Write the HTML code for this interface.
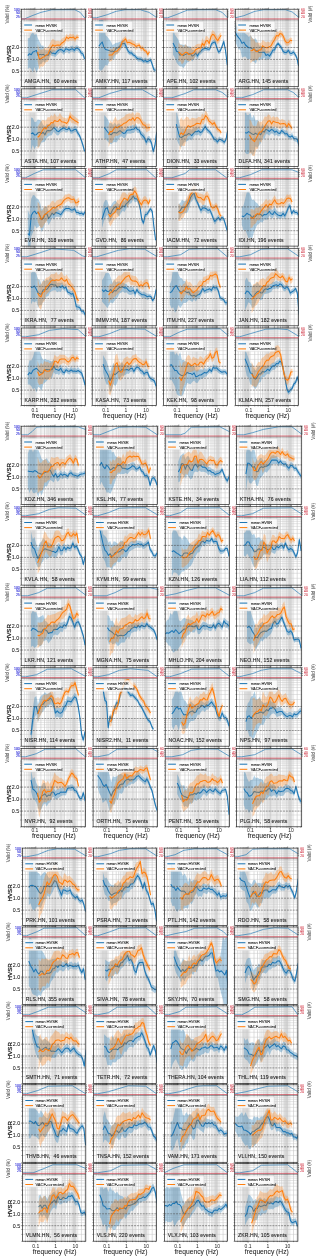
<!DOCTYPE html><html><head><meta charset="utf-8"><style>html,body{margin:0;padding:0;background:#fff;overflow:hidden}svg{display:block;will-change:transform}</style></head><body><svg width="320" height="1260" viewBox="0 0 320 1260" fill="none">
<style>text{font-family:"Liberation Sans",sans-serif}.lg{font-size:4px;letter-spacing:-.1px;fill:#222;stroke:#222;stroke-width:.07px}.lg3{font-size:4.2px;letter-spacing:-.1px;fill:#222;stroke:#222;stroke-width:.07px}.st{font-size:5.1px;fill:#1a1a1a;letter-spacing:.12px;stroke:#1a1a1a;stroke-width:.09px}.tk{font-size:5.3px;fill:#1a1a1a;stroke:#1a1a1a;stroke-width:.07px}.tx{font-size:5px;fill:#222}.yl{font-size:6.2px;fill:#111;stroke:#111;stroke-width:.22px}.vl{font-size:4.7px;fill:#333}.xl{font-size:6.7px;fill:#1a1a1a;stroke:#1a1a1a;stroke-width:.05px}.bl{font-size:3.5px;fill:#3030d8;stroke:#3030d8;stroke-width:.1px}.rd{font-size:3.4px;fill:#d03040;stroke:#d03040;stroke-width:.04px}.gb{fill:#000;fill-opacity:.08}</style>
<rect width="320" height="1260" fill="#fff"/>
<defs>
<g id="g00">
<rect x="28.9" y="9.2" width="8.3" height="77.5" class="gb"/>
<rect x="54.1" y="9.2" width="10.5" height="77.5" class="gb"/>
<rect x="72.2" y="9.2" width="5.8" height="77.5" class="gb"/>
<path d="M24.4 9.2V86.8M26.9 9.2V86.8M28.9 9.2V86.8M30.4 9.2V86.8M31.8 9.2V86.8M33 9.2V86.8M34 9.2V86.8M34.9 9.2V86.8M41 9.2V86.8M44.5 9.2V86.8M47 9.2V86.8M49 9.2V86.8M50.5 9.2V86.8M51.9 9.2V86.8M53.1 9.2V86.8M54.1 9.2V86.8M55 9.2V86.8M61.1 9.2V86.8M64.6 9.2V86.8M67.1 9.2V86.8M69.1 9.2V86.8M70.6 9.2V86.8M72 9.2V86.8M73.2 9.2V86.8M74.2 9.2V86.8M75.1 9.2V86.8M81.2 9.2V86.8M84.7 9.2V86.8" stroke="#bdbdbd" stroke-width=".5"/>
<path d="M21.3 80H85.6M21.3 75.1H85.6M21.3 68.2H85.6M21.3 65.5H85.6M21.3 63.2H85.6M21.3 61.2H85.6M21.3 52.5H85.6M21.3 40.6H85.6M21.3 35.7H85.6M21.3 31.8H85.6M21.3 28.7H85.6M21.3 26.1H85.6M21.3 23.8H85.6M21.3 21.8H85.6M21.3 11.2H85.6M21.3 13.1H85.6M21.3 15H85.6M21.3 16.9H85.6" stroke="#c4c4c4" stroke-width=".45"/>
</g>
<g id="o00">
<path d="M21.3 47.5H85.6M21.3 59.4H85.6M21.3 71.3H85.6" stroke="#484848" stroke-width=".55" stroke-dasharray="2 .9"/>
<path d="M21.3 87h-1M21.3 80h-1M21.3 75.1h-1M21.3 71.3h-1.6M21.3 68.2h-1M21.3 65.5h-1M21.3 63.2h-1M21.3 61.2h-1M21.3 59.4h-1.6M21.3 47.5h-1.6M21.3 40.6h-1M21.3 35.7h-1M21.3 31.8h-1M21.3 28.7h-1M21.3 26.1h-1M21.3 23.8h-1M21.3 21.8h-1M21.3 9.2h-1.2M85.6 9.2h1.2M21.3 11.2h-1.2M85.6 11.2h1.2M21.3 13.1h-1.2M85.6 13.1h1.2M21.3 15h-1.2M85.6 15h1.2M21.3 16.9h-1.2M85.6 16.9h1.2M24.4 86.8v.9M24.4 9.2v-.9M26.9 86.8v.9M26.9 9.2v-.9M28.9 86.8v.9M28.9 9.2v-.9M30.4 86.8v.9M30.4 9.2v-.9M31.8 86.8v.9M31.8 9.2v-.9M33 86.8v.9M33 9.2v-.9M34 86.8v.9M34 9.2v-.9M34.9 86.8v1.6M34.9 9.2v-1.6M41 86.8v.9M41 9.2v-.9M44.5 86.8v.9M44.5 9.2v-.9M47 86.8v.9M47 9.2v-.9M49 86.8v.9M49 9.2v-.9M50.5 86.8v.9M50.5 9.2v-.9M51.9 86.8v.9M51.9 9.2v-.9M53.1 86.8v.9M53.1 9.2v-.9M54.1 86.8v.9M54.1 9.2v-.9M55 86.8v1.6M55 9.2v-1.6M61.1 86.8v.9M61.1 9.2v-.9M64.6 86.8v.9M64.6 9.2v-.9M67.1 86.8v.9M67.1 9.2v-.9M69.1 86.8v.9M69.1 9.2v-.9M70.6 86.8v.9M70.6 9.2v-.9M72 86.8v.9M72 9.2v-.9M73.2 86.8v.9M73.2 9.2v-.9M74.2 86.8v.9M74.2 9.2v-.9M75.1 86.8v1.6M75.1 9.2v-1.6M81.2 86.8v.9M81.2 9.2v-.9M84.7 86.8v.9M84.7 9.2v-.9" stroke="#222" stroke-width=".45"/>
<rect x="21.3" y="9.2" width="64.3" height="77.5" fill="none" stroke="#222" stroke-width=".7"/>
<path d="M21.3 20H85.6" stroke="#222" stroke-width=".4"/>
<path d="M21.3 18.9H85.6" stroke="#e06070" stroke-opacity=".28" stroke-width="1.2"/>
<path d="M21.3 18.9H85.6" stroke="#c02838" stroke-width=".5"/>
<rect x="22.9" y="21.6" width="38.6" height="11.2" rx=".8" fill="#fff" fill-opacity=".8" stroke="#d0d0d0" stroke-width=".35"/>
<path d="M24.2 25h7.8" stroke="#1f77b4" stroke-width="1.05"/>
<path d="M24.2 30.1h7.8" stroke="#ff7f0e" stroke-width="1.05"/>
<text x="35.5" y="26.5" class="lg">mean HVSR</text>
<text x="35.5" y="31.6" class="lg">VACF-corrected</text>
<text x="19.8" y="11.2" class="bl" text-anchor="end">100</text>
<text x="19.8" y="14.4" class="bl" text-anchor="end">50</text>
<text x="19.8" y="17.6" class="bl" text-anchor="end">25</text>
<text x="88" y="11.2" class="rd">60</text>
<text x="88" y="14.4" class="rd">40</text>
<text x="88" y="17.6" class="rd">20</text>
</g>
<g id="g01">
<rect x="99.8" y="9.2" width="8.4" height="77.5" class="gb"/>
<rect x="125" y="9.2" width="10.5" height="77.5" class="gb"/>
<rect x="143.2" y="9.2" width="5.8" height="77.5" class="gb"/>
<path d="M95.3 9.2V86.8M97.8 9.2V86.8M99.8 9.2V86.8M101.4 9.2V86.8M102.7 9.2V86.8M103.9 9.2V86.8M104.9 9.2V86.8M105.8 9.2V86.8M111.9 9.2V86.8M115.4 9.2V86.8M117.9 9.2V86.8M119.9 9.2V86.8M121.5 9.2V86.8M122.8 9.2V86.8M124 9.2V86.8M125 9.2V86.8M126 9.2V86.8M132 9.2V86.8M135.6 9.2V86.8M138.1 9.2V86.8M140 9.2V86.8M141.6 9.2V86.8M143 9.2V86.8M144.1 9.2V86.8M145.2 9.2V86.8M146.1 9.2V86.8M152.2 9.2V86.8M155.7 9.2V86.8" stroke="#bdbdbd" stroke-width=".5"/>
<path d="M92.2 80H156.6M92.2 75.1H156.6M92.2 68.2H156.6M92.2 65.5H156.6M92.2 63.2H156.6M92.2 61.2H156.6M92.2 52.5H156.6M92.2 40.6H156.6M92.2 35.7H156.6M92.2 31.8H156.6M92.2 28.7H156.6M92.2 26.1H156.6M92.2 23.8H156.6M92.2 21.8H156.6M92.2 11.2H156.6M92.2 13.1H156.6M92.2 15H156.6M92.2 16.9H156.6" stroke="#c4c4c4" stroke-width=".45"/>
</g>
<g id="o01">
<path d="M92.2 47.5H156.6M92.2 59.4H156.6M92.2 71.3H156.6" stroke="#484848" stroke-width=".55" stroke-dasharray="2 .9"/>
<path d="M92.2 87h-1M92.2 80h-1M92.2 75.1h-1M92.2 71.3h-1.6M92.2 68.2h-1M92.2 65.5h-1M92.2 63.2h-1M92.2 61.2h-1M92.2 59.4h-1.6M92.2 47.5h-1.6M92.2 40.6h-1M92.2 35.7h-1M92.2 31.8h-1M92.2 28.7h-1M92.2 26.1h-1M92.2 23.8h-1M92.2 21.8h-1M92.2 9.2h-1.2M156.6 9.2h1.2M92.2 11.2h-1.2M156.6 11.2h1.2M92.2 13.1h-1.2M156.6 13.1h1.2M92.2 15h-1.2M156.6 15h1.2M92.2 16.9h-1.2M156.6 16.9h1.2M95.3 86.8v.9M95.3 9.2v-.9M97.8 86.8v.9M97.8 9.2v-.9M99.8 86.8v.9M99.8 9.2v-.9M101.4 86.8v.9M101.4 9.2v-.9M102.7 86.8v.9M102.7 9.2v-.9M103.9 86.8v.9M103.9 9.2v-.9M104.9 86.8v.9M104.9 9.2v-.9M105.8 86.8v1.6M105.8 9.2v-1.6M111.9 86.8v.9M111.9 9.2v-.9M115.4 86.8v.9M115.4 9.2v-.9M117.9 86.8v.9M117.9 9.2v-.9M119.9 86.8v.9M119.9 9.2v-.9M121.5 86.8v.9M121.5 9.2v-.9M122.8 86.8v.9M122.8 9.2v-.9M124 86.8v.9M124 9.2v-.9M125 86.8v.9M125 9.2v-.9M126 86.8v1.6M126 9.2v-1.6M132 86.8v.9M132 9.2v-.9M135.6 86.8v.9M135.6 9.2v-.9M138.1 86.8v.9M138.1 9.2v-.9M140 86.8v.9M140 9.2v-.9M141.6 86.8v.9M141.6 9.2v-.9M143 86.8v.9M143 9.2v-.9M144.1 86.8v.9M144.1 9.2v-.9M145.2 86.8v.9M145.2 9.2v-.9M146.1 86.8v1.6M146.1 9.2v-1.6M152.2 86.8v.9M152.2 9.2v-.9M155.7 86.8v.9M155.7 9.2v-.9" stroke="#222" stroke-width=".45"/>
<rect x="92.2" y="9.2" width="64.4" height="77.5" fill="none" stroke="#222" stroke-width=".7"/>
<path d="M92.2 20H156.6" stroke="#222" stroke-width=".4"/>
<path d="M92.2 18.9H156.6" stroke="#e06070" stroke-opacity=".28" stroke-width="1.2"/>
<path d="M92.2 18.9H156.6" stroke="#c02838" stroke-width=".5"/>
<rect x="93.8" y="21.6" width="38.6" height="11.2" rx=".8" fill="#fff" fill-opacity=".8" stroke="#d0d0d0" stroke-width=".35"/>
<path d="M95.1 25h7.8" stroke="#1f77b4" stroke-width="1.05"/>
<path d="M95.1 30.1h7.8" stroke="#ff7f0e" stroke-width="1.05"/>
<text x="106.4" y="26.5" class="lg">mean HVSR</text>
<text x="106.4" y="31.6" class="lg">VACF-corrected</text>
<text x="159" y="11.2" class="rd">60</text>
<text x="159" y="14.4" class="rd">40</text>
<text x="159" y="17.6" class="rd">20</text>
</g>
<g id="g02">
<rect x="170.9" y="9.2" width="8.3" height="77.5" class="gb"/>
<rect x="196.1" y="9.2" width="10.5" height="77.5" class="gb"/>
<rect x="214.2" y="9.2" width="5.8" height="77.5" class="gb"/>
<path d="M166.5 9.2V86.8M169 9.2V86.8M170.9 9.2V86.8M172.5 9.2V86.8M173.9 9.2V86.8M175 9.2V86.8M176 9.2V86.8M177 9.2V86.8M183 9.2V86.8M186.5 9.2V86.8M189 9.2V86.8M191 9.2V86.8M192.6 9.2V86.8M193.9 9.2V86.8M195.1 9.2V86.8M196.1 9.2V86.8M197 9.2V86.8M203 9.2V86.8M206.6 9.2V86.8M209.1 9.2V86.8M211 9.2V86.8M212.6 9.2V86.8M213.9 9.2V86.8M215.1 9.2V86.8M216.1 9.2V86.8M217 9.2V86.8M223.1 9.2V86.8M226.6 9.2V86.8" stroke="#bdbdbd" stroke-width=".5"/>
<path d="M163.4 80H227.5M163.4 75.1H227.5M163.4 68.2H227.5M163.4 65.5H227.5M163.4 63.2H227.5M163.4 61.2H227.5M163.4 52.5H227.5M163.4 40.6H227.5M163.4 35.7H227.5M163.4 31.8H227.5M163.4 28.7H227.5M163.4 26.1H227.5M163.4 23.8H227.5M163.4 21.8H227.5M163.4 11.2H227.5M163.4 13.1H227.5M163.4 15H227.5M163.4 16.9H227.5" stroke="#c4c4c4" stroke-width=".45"/>
</g>
<g id="o02">
<path d="M163.4 47.5H227.5M163.4 59.4H227.5M163.4 71.3H227.5" stroke="#484848" stroke-width=".55" stroke-dasharray="2 .9"/>
<path d="M163.4 87h-1M163.4 80h-1M163.4 75.1h-1M163.4 71.3h-1.6M163.4 68.2h-1M163.4 65.5h-1M163.4 63.2h-1M163.4 61.2h-1M163.4 59.4h-1.6M163.4 47.5h-1.6M163.4 40.6h-1M163.4 35.7h-1M163.4 31.8h-1M163.4 28.7h-1M163.4 26.1h-1M163.4 23.8h-1M163.4 21.8h-1M163.4 9.2h-1.2M227.5 9.2h1.2M163.4 11.2h-1.2M227.5 11.2h1.2M163.4 13.1h-1.2M227.5 13.1h1.2M163.4 15h-1.2M227.5 15h1.2M163.4 16.9h-1.2M227.5 16.9h1.2M166.5 86.8v.9M166.5 9.2v-.9M169 86.8v.9M169 9.2v-.9M170.9 86.8v.9M170.9 9.2v-.9M172.5 86.8v.9M172.5 9.2v-.9M173.9 86.8v.9M173.9 9.2v-.9M175 86.8v.9M175 9.2v-.9M176 86.8v.9M176 9.2v-.9M177 86.8v1.6M177 9.2v-1.6M183 86.8v.9M183 9.2v-.9M186.5 86.8v.9M186.5 9.2v-.9M189 86.8v.9M189 9.2v-.9M191 86.8v.9M191 9.2v-.9M192.6 86.8v.9M192.6 9.2v-.9M193.9 86.8v.9M193.9 9.2v-.9M195.1 86.8v.9M195.1 9.2v-.9M196.1 86.8v.9M196.1 9.2v-.9M197 86.8v1.6M197 9.2v-1.6M203 86.8v.9M203 9.2v-.9M206.6 86.8v.9M206.6 9.2v-.9M209.1 86.8v.9M209.1 9.2v-.9M211 86.8v.9M211 9.2v-.9M212.6 86.8v.9M212.6 9.2v-.9M213.9 86.8v.9M213.9 9.2v-.9M215.1 86.8v.9M215.1 9.2v-.9M216.1 86.8v.9M216.1 9.2v-.9M217 86.8v1.6M217 9.2v-1.6M223.1 86.8v.9M223.1 9.2v-.9M226.6 86.8v.9M226.6 9.2v-.9" stroke="#222" stroke-width=".45"/>
<rect x="163.4" y="9.2" width="64.1" height="77.5" fill="none" stroke="#222" stroke-width=".7"/>
<path d="M163.4 20H227.5" stroke="#222" stroke-width=".4"/>
<path d="M163.4 18.9H227.5" stroke="#e06070" stroke-opacity=".28" stroke-width="1.2"/>
<path d="M163.4 18.9H227.5" stroke="#c02838" stroke-width=".5"/>
<rect x="165" y="21.6" width="38.5" height="11.2" rx=".8" fill="#fff" fill-opacity=".8" stroke="#d0d0d0" stroke-width=".35"/>
<path d="M166.3 25h7.8" stroke="#1f77b4" stroke-width="1.05"/>
<path d="M166.3 30.1h7.8" stroke="#ff7f0e" stroke-width="1.05"/>
<text x="177.6" y="26.5" class="lg">mean HVSR</text>
<text x="177.6" y="31.6" class="lg">VACF-corrected</text>
<text x="229.9" y="11.2" class="rd">60</text>
<text x="229.9" y="14.4" class="rd">40</text>
<text x="229.9" y="17.6" class="rd">20</text>
</g>
<g id="g03">
<rect x="242.7" y="9.2" width="8.2" height="77.5" class="gb"/>
<rect x="267.6" y="9.2" width="10.3" height="77.5" class="gb"/>
<rect x="285.4" y="9.2" width="5.7" height="77.5" class="gb"/>
<path d="M238.3 9.2V86.8M240.8 9.2V86.8M242.7 9.2V86.8M244.3 9.2V86.8M245.6 9.2V86.8M246.8 9.2V86.8M247.8 9.2V86.8M248.7 9.2V86.8M254.7 9.2V86.8M258.1 9.2V86.8M260.6 9.2V86.8M262.5 9.2V86.8M264.1 9.2V86.8M265.4 9.2V86.8M266.6 9.2V86.8M267.6 9.2V86.8M268.5 9.2V86.8M274.4 9.2V86.8M277.9 9.2V86.8M280.4 9.2V86.8M282.3 9.2V86.8M283.9 9.2V86.8M285.2 9.2V86.8M286.4 9.2V86.8M287.4 9.2V86.8M288.3 9.2V86.8M294.2 9.2V86.8M297.7 9.2V86.8" stroke="#bdbdbd" stroke-width=".5"/>
<path d="M235.3 80H298.6M235.3 75.1H298.6M235.3 68.2H298.6M235.3 65.5H298.6M235.3 63.2H298.6M235.3 61.2H298.6M235.3 52.5H298.6M235.3 40.6H298.6M235.3 35.7H298.6M235.3 31.8H298.6M235.3 28.7H298.6M235.3 26.1H298.6M235.3 23.8H298.6M235.3 21.8H298.6M235.3 11.2H298.6M235.3 13.1H298.6M235.3 15H298.6M235.3 16.9H298.6" stroke="#c4c4c4" stroke-width=".45"/>
</g>
<g id="o03">
<path d="M235.3 47.5H298.6M235.3 59.4H298.6M235.3 71.3H298.6" stroke="#484848" stroke-width=".55" stroke-dasharray="2 .9"/>
<path d="M235.3 87h-1M235.3 80h-1M235.3 75.1h-1M235.3 71.3h-1.6M235.3 68.2h-1M235.3 65.5h-1M235.3 63.2h-1M235.3 61.2h-1M235.3 59.4h-1.6M235.3 47.5h-1.6M235.3 40.6h-1M235.3 35.7h-1M235.3 31.8h-1M235.3 28.7h-1M235.3 26.1h-1M235.3 23.8h-1M235.3 21.8h-1M235.3 9.2h-1.2M298.6 9.2h1.2M235.3 11.2h-1.2M298.6 11.2h1.2M235.3 13.1h-1.2M298.6 13.1h1.2M235.3 15h-1.2M298.6 15h1.2M235.3 16.9h-1.2M298.6 16.9h1.2M238.3 86.8v.9M238.3 9.2v-.9M240.8 86.8v.9M240.8 9.2v-.9M242.7 86.8v.9M242.7 9.2v-.9M244.3 86.8v.9M244.3 9.2v-.9M245.6 86.8v.9M245.6 9.2v-.9M246.8 86.8v.9M246.8 9.2v-.9M247.8 86.8v.9M247.8 9.2v-.9M248.7 86.8v1.6M248.7 9.2v-1.6M254.7 86.8v.9M254.7 9.2v-.9M258.1 86.8v.9M258.1 9.2v-.9M260.6 86.8v.9M260.6 9.2v-.9M262.5 86.8v.9M262.5 9.2v-.9M264.1 86.8v.9M264.1 9.2v-.9M265.4 86.8v.9M265.4 9.2v-.9M266.6 86.8v.9M266.6 9.2v-.9M267.6 86.8v.9M267.6 9.2v-.9M268.5 86.8v1.6M268.5 9.2v-1.6M274.4 86.8v.9M274.4 9.2v-.9M277.9 86.8v.9M277.9 9.2v-.9M280.4 86.8v.9M280.4 9.2v-.9M282.3 86.8v.9M282.3 9.2v-.9M283.9 86.8v.9M283.9 9.2v-.9M285.2 86.8v.9M285.2 9.2v-.9M286.4 86.8v.9M286.4 9.2v-.9M287.4 86.8v.9M287.4 9.2v-.9M288.3 86.8v1.6M288.3 9.2v-1.6M294.2 86.8v.9M294.2 9.2v-.9M297.7 86.8v.9M297.7 9.2v-.9" stroke="#222" stroke-width=".45"/>
<rect x="235.3" y="9.2" width="63.3" height="77.5" fill="none" stroke="#222" stroke-width=".7"/>
<path d="M235.3 20H298.6" stroke="#222" stroke-width=".4"/>
<path d="M235.3 18.9H298.6" stroke="#e06070" stroke-opacity=".28" stroke-width="1.2"/>
<path d="M235.3 18.9H298.6" stroke="#c02838" stroke-width=".5"/>
<rect x="236.9" y="21.6" width="38" height="11.2" rx=".8" fill="#fff" fill-opacity=".8" stroke="#d0d0d0" stroke-width=".35"/>
<path d="M238.2 25h7.8" stroke="#1f77b4" stroke-width="1.05"/>
<path d="M238.2 30.1h7.8" stroke="#ff7f0e" stroke-width="1.05"/>
<text x="249.5" y="26.5" class="lg">mean HVSR</text>
<text x="249.5" y="31.6" class="lg">VACF-corrected</text>
<text x="301" y="11.2" class="rd">60</text>
<text x="301" y="14.4" class="rd">40</text>
<text x="301" y="17.6" class="rd">20</text>
</g>
<g id="g10">
<rect x="28.8" y="426.2" width="8.3" height="78.4" class="gb"/>
<rect x="54.1" y="426.2" width="10.5" height="78.4" class="gb"/>
<rect x="72.2" y="426.2" width="5.8" height="78.4" class="gb"/>
<path d="M24.4 426.2V504.6M26.9 426.2V504.6M28.8 426.2V504.6M30.4 426.2V504.6M31.8 426.2V504.6M32.9 426.2V504.6M33.9 426.2V504.6M34.9 426.2V504.6M40.9 426.2V504.6M44.5 426.2V504.6M47 426.2V504.6M48.9 426.2V504.6M50.5 426.2V504.6M51.9 426.2V504.6M53 426.2V504.6M54.1 426.2V504.6M55 426.2V504.6M61 426.2V504.6M64.6 426.2V504.6M67.1 426.2V504.6M69 426.2V504.6M70.6 426.2V504.6M72 426.2V504.6M73.2 426.2V504.6M74.2 426.2V504.6M75.1 426.2V504.6M81.2 426.2V504.6M84.7 426.2V504.6" stroke="#bdbdbd" stroke-width=".5"/>
<path d="M21.2 497.8H85.6M21.2 492.8H85.6M21.2 485.7H85.6M21.2 483.1H85.6M21.2 480.8H85.6M21.2 478.7H85.6M21.2 469.9H85.6M21.2 457.9H85.6M21.2 452.9H85.6M21.2 449H85.6M21.2 445.9H85.6M21.2 443.2H85.6M21.2 440.9H85.6M21.2 438.9H85.6M21.2 428.1H85.6M21.2 430H85.6M21.2 432H85.6M21.2 433.9H85.6" stroke="#c4c4c4" stroke-width=".45"/>
</g>
<g id="o10">
<path d="M21.2 464.9H85.6M21.2 476.9H85.6M21.2 488.9H85.6" stroke="#484848" stroke-width=".55" stroke-dasharray="2 .9"/>
<path d="M21.2 504.8h-1M21.2 497.8h-1M21.2 492.8h-1M21.2 488.9h-1.6M21.2 485.7h-1M21.2 483.1h-1M21.2 480.8h-1M21.2 478.7h-1M21.2 476.9h-1.6M21.2 464.9h-1.6M21.2 457.9h-1M21.2 452.9h-1M21.2 449h-1M21.2 445.9h-1M21.2 443.2h-1M21.2 440.9h-1M21.2 438.9h-1M21.2 426.2h-1.2M85.6 426.2h1.2M21.2 428.1h-1.2M85.6 428.1h1.2M21.2 430h-1.2M85.6 430h1.2M21.2 432h-1.2M85.6 432h1.2M21.2 433.9h-1.2M85.6 433.9h1.2M24.4 504.6v.9M24.4 426.2v-.9M26.9 504.6v.9M26.9 426.2v-.9M28.8 504.6v.9M28.8 426.2v-.9M30.4 504.6v.9M30.4 426.2v-.9M31.8 504.6v.9M31.8 426.2v-.9M32.9 504.6v.9M32.9 426.2v-.9M33.9 504.6v.9M33.9 426.2v-.9M34.9 504.6v1.6M34.9 426.2v-1.6M40.9 504.6v.9M40.9 426.2v-.9M44.5 504.6v.9M44.5 426.2v-.9M47 504.6v.9M47 426.2v-.9M48.9 504.6v.9M48.9 426.2v-.9M50.5 504.6v.9M50.5 426.2v-.9M51.9 504.6v.9M51.9 426.2v-.9M53 504.6v.9M53 426.2v-.9M54.1 504.6v.9M54.1 426.2v-.9M55 504.6v1.6M55 426.2v-1.6M61 504.6v.9M61 426.2v-.9M64.6 504.6v.9M64.6 426.2v-.9M67.1 504.6v.9M67.1 426.2v-.9M69 504.6v.9M69 426.2v-.9M70.6 504.6v.9M70.6 426.2v-.9M72 504.6v.9M72 426.2v-.9M73.2 504.6v.9M73.2 426.2v-.9M74.2 504.6v.9M74.2 426.2v-.9M75.1 504.6v1.6M75.1 426.2v-1.6M81.2 504.6v.9M81.2 426.2v-.9M84.7 504.6v.9M84.7 426.2v-.9" stroke="#222" stroke-width=".45"/>
<rect x="21.2" y="426.2" width="64.3" height="78.4" fill="none" stroke="#222" stroke-width=".7"/>
<path d="M21.2 437H85.6" stroke="#222" stroke-width=".4"/>
<path d="M21.2 436H85.6" stroke="#e06070" stroke-opacity=".28" stroke-width="1.2"/>
<path d="M21.2 436H85.6" stroke="#c02838" stroke-width=".5"/>
<rect x="22.9" y="438.6" width="38.6" height="11.2" rx=".8" fill="#fff" fill-opacity=".8" stroke="#d0d0d0" stroke-width=".35"/>
<path d="M24.2 442h7.8" stroke="#1f77b4" stroke-width="1.05"/>
<path d="M24.2 447.1h7.8" stroke="#ff7f0e" stroke-width="1.05"/>
<text x="35.5" y="443.5" class="lg">mean HVSR</text>
<text x="35.5" y="448.6" class="lg">VACF-corrected</text>
<text x="19.8" y="428.2" class="bl" text-anchor="end">100</text>
<text x="19.8" y="431.4" class="bl" text-anchor="end">50</text>
<text x="19.8" y="434.6" class="bl" text-anchor="end">25</text>
<text x="88" y="428.2" class="rd">60</text>
<text x="88" y="431.4" class="rd">40</text>
<text x="88" y="434.6" class="rd">20</text>
</g>
<g id="g11">
<rect x="100.7" y="426.2" width="8.4" height="78.4" class="gb"/>
<rect x="125.9" y="426.2" width="10.5" height="78.4" class="gb"/>
<rect x="144.1" y="426.2" width="5.8" height="78.4" class="gb"/>
<path d="M96.2 426.2V504.6M98.7 426.2V504.6M100.7 426.2V504.6M102.3 426.2V504.6M103.6 426.2V504.6M104.8 426.2V504.6M105.8 426.2V504.6M106.7 426.2V504.6M112.8 426.2V504.6M116.3 426.2V504.6M118.8 426.2V504.6M120.8 426.2V504.6M122.4 426.2V504.6M123.7 426.2V504.6M124.9 426.2V504.6M125.9 426.2V504.6M126.9 426.2V504.6M132.9 426.2V504.6M136.5 426.2V504.6M139 426.2V504.6M140.9 426.2V504.6M142.5 426.2V504.6M143.9 426.2V504.6M145 426.2V504.6M146.1 426.2V504.6M147 426.2V504.6M153.1 426.2V504.6M156.6 426.2V504.6" stroke="#bdbdbd" stroke-width=".5"/>
<path d="M93.1 497.8H157.5M93.1 492.8H157.5M93.1 485.7H157.5M93.1 483.1H157.5M93.1 480.8H157.5M93.1 478.7H157.5M93.1 469.9H157.5M93.1 457.9H157.5M93.1 452.9H157.5M93.1 449H157.5M93.1 445.9H157.5M93.1 443.2H157.5M93.1 440.9H157.5M93.1 438.9H157.5M93.1 428.1H157.5M93.1 430H157.5M93.1 432H157.5M93.1 433.9H157.5" stroke="#c4c4c4" stroke-width=".45"/>
</g>
<g id="o11">
<path d="M93.1 464.9H157.5M93.1 476.9H157.5M93.1 488.9H157.5" stroke="#484848" stroke-width=".55" stroke-dasharray="2 .9"/>
<path d="M93.1 504.8h-1M93.1 497.8h-1M93.1 492.8h-1M93.1 488.9h-1.6M93.1 485.7h-1M93.1 483.1h-1M93.1 480.8h-1M93.1 478.7h-1M93.1 476.9h-1.6M93.1 464.9h-1.6M93.1 457.9h-1M93.1 452.9h-1M93.1 449h-1M93.1 445.9h-1M93.1 443.2h-1M93.1 440.9h-1M93.1 438.9h-1M93.1 426.2h-1.2M157.5 426.2h1.2M93.1 428.1h-1.2M157.5 428.1h1.2M93.1 430h-1.2M157.5 430h1.2M93.1 432h-1.2M157.5 432h1.2M93.1 433.9h-1.2M157.5 433.9h1.2M96.2 504.6v.9M96.2 426.2v-.9M98.7 504.6v.9M98.7 426.2v-.9M100.7 504.6v.9M100.7 426.2v-.9M102.3 504.6v.9M102.3 426.2v-.9M103.6 504.6v.9M103.6 426.2v-.9M104.8 504.6v.9M104.8 426.2v-.9M105.8 504.6v.9M105.8 426.2v-.9M106.7 504.6v1.6M106.7 426.2v-1.6M112.8 504.6v.9M112.8 426.2v-.9M116.3 504.6v.9M116.3 426.2v-.9M118.8 504.6v.9M118.8 426.2v-.9M120.8 504.6v.9M120.8 426.2v-.9M122.4 504.6v.9M122.4 426.2v-.9M123.7 504.6v.9M123.7 426.2v-.9M124.9 504.6v.9M124.9 426.2v-.9M125.9 504.6v.9M125.9 426.2v-.9M126.9 504.6v1.6M126.9 426.2v-1.6M132.9 504.6v.9M132.9 426.2v-.9M136.5 504.6v.9M136.5 426.2v-.9M139 504.6v.9M139 426.2v-.9M140.9 504.6v.9M140.9 426.2v-.9M142.5 504.6v.9M142.5 426.2v-.9M143.9 504.6v.9M143.9 426.2v-.9M145 504.6v.9M145 426.2v-.9M146.1 504.6v.9M146.1 426.2v-.9M147 504.6v1.6M147 426.2v-1.6M153.1 504.6v.9M153.1 426.2v-.9M156.6 504.6v.9M156.6 426.2v-.9" stroke="#222" stroke-width=".45"/>
<rect x="93.1" y="426.2" width="64.4" height="78.4" fill="none" stroke="#222" stroke-width=".7"/>
<path d="M93.1 437H157.5" stroke="#222" stroke-width=".4"/>
<path d="M93.1 436H157.5" stroke="#e06070" stroke-opacity=".28" stroke-width="1.2"/>
<path d="M93.1 436H157.5" stroke="#c02838" stroke-width=".5"/>
<rect x="94.7" y="438.6" width="38.6" height="11.2" rx=".8" fill="#fff" fill-opacity=".8" stroke="#d0d0d0" stroke-width=".35"/>
<path d="M96 442h7.8" stroke="#1f77b4" stroke-width="1.05"/>
<path d="M96 447.1h7.8" stroke="#ff7f0e" stroke-width="1.05"/>
<text x="107.3" y="443.5" class="lg">mean HVSR</text>
<text x="107.3" y="448.6" class="lg">VACF-corrected</text>
<text x="159.9" y="428.2" class="rd">60</text>
<text x="159.9" y="431.4" class="rd">40</text>
<text x="159.9" y="434.6" class="rd">20</text>
</g>
<g id="g12">
<rect x="172.8" y="426.2" width="8.3" height="78.4" class="gb"/>
<rect x="198" y="426.2" width="10.5" height="78.4" class="gb"/>
<rect x="216.1" y="426.2" width="5.8" height="78.4" class="gb"/>
<path d="M168.3 426.2V504.6M170.8 426.2V504.6M172.8 426.2V504.6M174.3 426.2V504.6M175.7 426.2V504.6M176.9 426.2V504.6M177.9 426.2V504.6M178.8 426.2V504.6M184.9 426.2V504.6M188.4 426.2V504.6M190.9 426.2V504.6M192.9 426.2V504.6M194.4 426.2V504.6M195.8 426.2V504.6M197 426.2V504.6M198 426.2V504.6M198.9 426.2V504.6M205 426.2V504.6M208.5 426.2V504.6M211 426.2V504.6M213 426.2V504.6M214.5 426.2V504.6M215.9 426.2V504.6M217.1 426.2V504.6M218.1 426.2V504.6M219 426.2V504.6M225.1 426.2V504.6M228.6 426.2V504.6" stroke="#bdbdbd" stroke-width=".5"/>
<path d="M165.2 497.8H229.5M165.2 492.8H229.5M165.2 485.7H229.5M165.2 483.1H229.5M165.2 480.8H229.5M165.2 478.7H229.5M165.2 469.9H229.5M165.2 457.9H229.5M165.2 452.9H229.5M165.2 449H229.5M165.2 445.9H229.5M165.2 443.2H229.5M165.2 440.9H229.5M165.2 438.9H229.5M165.2 428.1H229.5M165.2 430H229.5M165.2 432H229.5M165.2 433.9H229.5" stroke="#c4c4c4" stroke-width=".45"/>
</g>
<g id="o12">
<path d="M165.2 464.9H229.5M165.2 476.9H229.5M165.2 488.9H229.5" stroke="#484848" stroke-width=".55" stroke-dasharray="2 .9"/>
<path d="M165.2 504.8h-1M165.2 497.8h-1M165.2 492.8h-1M165.2 488.9h-1.6M165.2 485.7h-1M165.2 483.1h-1M165.2 480.8h-1M165.2 478.7h-1M165.2 476.9h-1.6M165.2 464.9h-1.6M165.2 457.9h-1M165.2 452.9h-1M165.2 449h-1M165.2 445.9h-1M165.2 443.2h-1M165.2 440.9h-1M165.2 438.9h-1M165.2 426.2h-1.2M229.5 426.2h1.2M165.2 428.1h-1.2M229.5 428.1h1.2M165.2 430h-1.2M229.5 430h1.2M165.2 432h-1.2M229.5 432h1.2M165.2 433.9h-1.2M229.5 433.9h1.2M168.3 504.6v.9M168.3 426.2v-.9M170.8 504.6v.9M170.8 426.2v-.9M172.8 504.6v.9M172.8 426.2v-.9M174.3 504.6v.9M174.3 426.2v-.9M175.7 504.6v.9M175.7 426.2v-.9M176.9 504.6v.9M176.9 426.2v-.9M177.9 504.6v.9M177.9 426.2v-.9M178.8 504.6v1.6M178.8 426.2v-1.6M184.9 504.6v.9M184.9 426.2v-.9M188.4 504.6v.9M188.4 426.2v-.9M190.9 504.6v.9M190.9 426.2v-.9M192.9 504.6v.9M192.9 426.2v-.9M194.4 504.6v.9M194.4 426.2v-.9M195.8 504.6v.9M195.8 426.2v-.9M197 504.6v.9M197 426.2v-.9M198 504.6v.9M198 426.2v-.9M198.9 504.6v1.6M198.9 426.2v-1.6M205 504.6v.9M205 426.2v-.9M208.5 504.6v.9M208.5 426.2v-.9M211 504.6v.9M211 426.2v-.9M213 504.6v.9M213 426.2v-.9M214.5 504.6v.9M214.5 426.2v-.9M215.9 504.6v.9M215.9 426.2v-.9M217.1 504.6v.9M217.1 426.2v-.9M218.1 504.6v.9M218.1 426.2v-.9M219 504.6v1.6M219 426.2v-1.6M225.1 504.6v.9M225.1 426.2v-.9M228.6 504.6v.9M228.6 426.2v-.9" stroke="#222" stroke-width=".45"/>
<rect x="165.2" y="426.2" width="64.3" height="78.4" fill="none" stroke="#222" stroke-width=".7"/>
<path d="M165.2 437H229.5" stroke="#222" stroke-width=".4"/>
<path d="M165.2 436H229.5" stroke="#e06070" stroke-opacity=".28" stroke-width="1.2"/>
<path d="M165.2 436H229.5" stroke="#c02838" stroke-width=".5"/>
<rect x="166.8" y="438.6" width="38.6" height="11.2" rx=".8" fill="#fff" fill-opacity=".8" stroke="#d0d0d0" stroke-width=".35"/>
<path d="M168.1 442h7.8" stroke="#1f77b4" stroke-width="1.05"/>
<path d="M168.1 447.1h7.8" stroke="#ff7f0e" stroke-width="1.05"/>
<text x="179.4" y="443.5" class="lg">mean HVSR</text>
<text x="179.4" y="448.6" class="lg">VACF-corrected</text>
<text x="231.9" y="428.2" class="rd">60</text>
<text x="231.9" y="431.4" class="rd">40</text>
<text x="231.9" y="434.6" class="rd">20</text>
</g>
<g id="g13">
<rect x="244.3" y="426.2" width="8.4" height="78.4" class="gb"/>
<rect x="269.8" y="426.2" width="10.6" height="78.4" class="gb"/>
<rect x="288.2" y="426.2" width="5.9" height="78.4" class="gb"/>
<path d="M239.7 426.2V504.6M242.3 426.2V504.6M244.3 426.2V504.6M245.9 426.2V504.6M247.2 426.2V504.6M248.4 426.2V504.6M249.4 426.2V504.6M250.4 426.2V504.6M256.5 426.2V504.6M260.1 426.2V504.6M262.6 426.2V504.6M264.6 426.2V504.6M266.2 426.2V504.6M267.6 426.2V504.6M268.8 426.2V504.6M269.8 426.2V504.6M270.7 426.2V504.6M276.9 426.2V504.6M280.4 426.2V504.6M283 426.2V504.6M285 426.2V504.6M286.6 426.2V504.6M287.9 426.2V504.6M289.1 426.2V504.6M290.1 426.2V504.6M291.1 426.2V504.6M297.2 426.2V504.6M300.8 426.2V504.6" stroke="#bdbdbd" stroke-width=".5"/>
<path d="M236.6 497.8H301.7M236.6 492.8H301.7M236.6 485.7H301.7M236.6 483.1H301.7M236.6 480.8H301.7M236.6 478.7H301.7M236.6 469.9H301.7M236.6 457.9H301.7M236.6 452.9H301.7M236.6 449H301.7M236.6 445.9H301.7M236.6 443.2H301.7M236.6 440.9H301.7M236.6 438.9H301.7M236.6 428.1H301.7M236.6 430H301.7M236.6 432H301.7M236.6 433.9H301.7" stroke="#c4c4c4" stroke-width=".45"/>
</g>
<g id="o13">
<path d="M236.6 464.9H301.7M236.6 476.9H301.7M236.6 488.9H301.7" stroke="#484848" stroke-width=".55" stroke-dasharray="2 .9"/>
<path d="M236.6 504.8h-1M236.6 497.8h-1M236.6 492.8h-1M236.6 488.9h-1.6M236.6 485.7h-1M236.6 483.1h-1M236.6 480.8h-1M236.6 478.7h-1M236.6 476.9h-1.6M236.6 464.9h-1.6M236.6 457.9h-1M236.6 452.9h-1M236.6 449h-1M236.6 445.9h-1M236.6 443.2h-1M236.6 440.9h-1M236.6 438.9h-1M236.6 426.2h-1.2M301.7 426.2h1.2M236.6 428.1h-1.2M301.7 428.1h1.2M236.6 430h-1.2M301.7 430h1.2M236.6 432h-1.2M301.7 432h1.2M236.6 433.9h-1.2M301.7 433.9h1.2M239.7 504.6v.9M239.7 426.2v-.9M242.3 504.6v.9M242.3 426.2v-.9M244.3 504.6v.9M244.3 426.2v-.9M245.9 504.6v.9M245.9 426.2v-.9M247.2 504.6v.9M247.2 426.2v-.9M248.4 504.6v.9M248.4 426.2v-.9M249.4 504.6v.9M249.4 426.2v-.9M250.4 504.6v1.6M250.4 426.2v-1.6M256.5 504.6v.9M256.5 426.2v-.9M260.1 504.6v.9M260.1 426.2v-.9M262.6 504.6v.9M262.6 426.2v-.9M264.6 504.6v.9M264.6 426.2v-.9M266.2 504.6v.9M266.2 426.2v-.9M267.6 504.6v.9M267.6 426.2v-.9M268.8 504.6v.9M268.8 426.2v-.9M269.8 504.6v.9M269.8 426.2v-.9M270.7 504.6v1.6M270.7 426.2v-1.6M276.9 504.6v.9M276.9 426.2v-.9M280.4 504.6v.9M280.4 426.2v-.9M283 504.6v.9M283 426.2v-.9M285 504.6v.9M285 426.2v-.9M286.6 504.6v.9M286.6 426.2v-.9M287.9 504.6v.9M287.9 426.2v-.9M289.1 504.6v.9M289.1 426.2v-.9M290.1 504.6v.9M290.1 426.2v-.9M291.1 504.6v1.6M291.1 426.2v-1.6M297.2 504.6v.9M297.2 426.2v-.9M300.8 504.6v.9M300.8 426.2v-.9" stroke="#222" stroke-width=".45"/>
<rect x="236.6" y="426.2" width="65.1" height="78.4" fill="none" stroke="#222" stroke-width=".7"/>
<path d="M236.6 437H301.7" stroke="#222" stroke-width=".4"/>
<path d="M236.6 436H301.7" stroke="#e06070" stroke-opacity=".28" stroke-width="1.2"/>
<path d="M236.6 436H301.7" stroke="#c02838" stroke-width=".5"/>
<rect x="238.2" y="438.6" width="39.1" height="11.2" rx=".8" fill="#fff" fill-opacity=".8" stroke="#d0d0d0" stroke-width=".35"/>
<path d="M239.5 442h7.8" stroke="#1f77b4" stroke-width="1.05"/>
<path d="M239.5 447.1h7.8" stroke="#ff7f0e" stroke-width="1.05"/>
<text x="250.8" y="443.5" class="lg">mean HVSR</text>
<text x="250.8" y="448.6" class="lg">VACF-corrected</text>
<text x="304.1" y="428.2" class="rd">60</text>
<text x="304.1" y="431.4" class="rd">40</text>
<text x="304.1" y="434.6" class="rd">20</text>
</g>
<g id="g20">
<rect x="29.8" y="848.1" width="8.2" height="77.5" class="gb"/>
<rect x="54.7" y="848.1" width="10.4" height="77.5" class="gb"/>
<rect x="72.6" y="848.1" width="5.7" height="77.5" class="gb"/>
<path d="M25.5 848.1V925.6M27.9 848.1V925.6M29.8 848.1V925.6M31.4 848.1V925.6M32.7 848.1V925.6M33.9 848.1V925.6M34.9 848.1V925.6M35.8 848.1V925.6M41.8 848.1V925.6M45.3 848.1V925.6M47.7 848.1V925.6M49.6 848.1V925.6M51.2 848.1V925.6M52.5 848.1V925.6M53.7 848.1V925.6M54.7 848.1V925.6M55.6 848.1V925.6M61.6 848.1V925.6M65.1 848.1V925.6M67.5 848.1V925.6M69.5 848.1V925.6M71 848.1V925.6M72.3 848.1V925.6M73.5 848.1V925.6M74.5 848.1V925.6M75.4 848.1V925.6M81.4 848.1V925.6M84.9 848.1V925.6" stroke="#bdbdbd" stroke-width=".5"/>
<path d="M22.4 918.8H85.8M22.4 913.9H85.8M22.4 907H85.8M22.4 904.3H85.8M22.4 902H85.8M22.4 900H85.8M22.4 891.3H85.8M22.4 879.4H85.8M22.4 874.5H85.8M22.4 870.7H85.8M22.4 867.5H85.8M22.4 864.9H85.8M22.4 862.6H85.8M22.4 860.6H85.8M22.4 850H85.8M22.4 851.9H85.8M22.4 853.8H85.8M22.4 855.7H85.8" stroke="#c4c4c4" stroke-width=".45"/>
</g>
<g id="o20">
<path d="M22.4 886.4H85.8M22.4 898.2H85.8M22.4 910.1H85.8" stroke="#484848" stroke-width=".55" stroke-dasharray="2 .9"/>
<path d="M22.4 925.8h-1M22.4 918.8h-1M22.4 913.9h-1M22.4 910.1h-1.6M22.4 907h-1M22.4 904.3h-1M22.4 902h-1M22.4 900h-1M22.4 898.2h-1.6M22.4 886.4h-1.6M22.4 879.4h-1M22.4 874.5h-1M22.4 870.7h-1M22.4 867.5h-1M22.4 864.9h-1M22.4 862.6h-1M22.4 860.6h-1M22.4 848.1h-1.2M85.8 848.1h1.2M22.4 850h-1.2M85.8 850h1.2M22.4 851.9h-1.2M85.8 851.9h1.2M22.4 853.8h-1.2M85.8 853.8h1.2M22.4 855.7h-1.2M85.8 855.7h1.2M25.5 925.6v.9M25.5 848.1v-.9M27.9 925.6v.9M27.9 848.1v-.9M29.8 925.6v.9M29.8 848.1v-.9M31.4 925.6v.9M31.4 848.1v-.9M32.7 925.6v.9M32.7 848.1v-.9M33.9 925.6v.9M33.9 848.1v-.9M34.9 925.6v.9M34.9 848.1v-.9M35.8 925.6v1.6M35.8 848.1v-1.6M41.8 925.6v.9M41.8 848.1v-.9M45.3 925.6v.9M45.3 848.1v-.9M47.7 925.6v.9M47.7 848.1v-.9M49.6 925.6v.9M49.6 848.1v-.9M51.2 925.6v.9M51.2 848.1v-.9M52.5 925.6v.9M52.5 848.1v-.9M53.7 925.6v.9M53.7 848.1v-.9M54.7 925.6v.9M54.7 848.1v-.9M55.6 925.6v1.6M55.6 848.1v-1.6M61.6 925.6v.9M61.6 848.1v-.9M65.1 925.6v.9M65.1 848.1v-.9M67.5 925.6v.9M67.5 848.1v-.9M69.5 925.6v.9M69.5 848.1v-.9M71 925.6v.9M71 848.1v-.9M72.3 925.6v.9M72.3 848.1v-.9M73.5 925.6v.9M73.5 848.1v-.9M74.5 925.6v.9M74.5 848.1v-.9M75.4 925.6v1.6M75.4 848.1v-1.6M81.4 925.6v.9M81.4 848.1v-.9M84.9 925.6v.9M84.9 848.1v-.9" stroke="#222" stroke-width=".45"/>
<rect x="22.4" y="848.1" width="63.4" height="77.5" fill="none" stroke="#222" stroke-width=".7"/>
<path d="M22.4 858.8H85.8" stroke="#222" stroke-width=".4"/>
<path d="M22.4 857.8H85.8" stroke="#e06070" stroke-opacity=".28" stroke-width="1.2"/>
<path d="M22.4 857.8H85.8" stroke="#c02838" stroke-width=".5"/>
<rect x="24" y="860.4" width="38" height="11.2" rx=".8" fill="#fff" fill-opacity=".8" stroke="#d0d0d0" stroke-width=".35"/>
<path d="M25.3 863.8h7.8" stroke="#1f77b4" stroke-width="1.05"/>
<path d="M25.3 868.9h7.8" stroke="#ff7f0e" stroke-width="1.05"/>
<text x="35.4" y="865.3" class="lg3">mean HVSR</text>
<text x="35.4" y="870.4" class="lg3">VACF-corrected</text>
<text x="20.9" y="850.1" class="bl" text-anchor="end">100</text>
<text x="20.9" y="853.3" class="bl" text-anchor="end">50</text>
<text x="20.9" y="856.5" class="bl" text-anchor="end">25</text>
<text x="88.2" y="850.1" class="rd">60</text>
<text x="88.2" y="853.3" class="rd">40</text>
<text x="88.2" y="856.5" class="rd">20</text>
</g>
<g id="g21">
<rect x="100.8" y="848.1" width="8.2" height="77.5" class="gb"/>
<rect x="125.6" y="848.1" width="10.3" height="77.5" class="gb"/>
<rect x="143.5" y="848.1" width="5.7" height="77.5" class="gb"/>
<path d="M96.4 848.1V925.6M98.9 848.1V925.6M100.8 848.1V925.6M102.4 848.1V925.6M103.7 848.1V925.6M104.9 848.1V925.6M105.9 848.1V925.6M106.8 848.1V925.6M112.7 848.1V925.6M116.2 848.1V925.6M118.7 848.1V925.6M120.6 848.1V925.6M122.1 848.1V925.6M123.5 848.1V925.6M124.6 848.1V925.6M125.6 848.1V925.6M126.5 848.1V925.6M132.5 848.1V925.6M136 848.1V925.6M138.4 848.1V925.6M140.3 848.1V925.6M141.9 848.1V925.6M143.2 848.1V925.6M144.4 848.1V925.6M145.4 848.1V925.6M146.3 848.1V925.6M152.2 848.1V925.6M155.7 848.1V925.6" stroke="#bdbdbd" stroke-width=".5"/>
<path d="M93.4 918.8H156.6M93.4 913.9H156.6M93.4 907H156.6M93.4 904.3H156.6M93.4 902H156.6M93.4 900H156.6M93.4 891.3H156.6M93.4 879.4H156.6M93.4 874.5H156.6M93.4 870.7H156.6M93.4 867.5H156.6M93.4 864.9H156.6M93.4 862.6H156.6M93.4 860.6H156.6M93.4 850H156.6M93.4 851.9H156.6M93.4 853.8H156.6M93.4 855.7H156.6" stroke="#c4c4c4" stroke-width=".45"/>
</g>
<g id="o21">
<path d="M93.4 886.4H156.6M93.4 898.2H156.6M93.4 910.1H156.6" stroke="#484848" stroke-width=".55" stroke-dasharray="2 .9"/>
<path d="M93.4 925.8h-1M93.4 918.8h-1M93.4 913.9h-1M93.4 910.1h-1.6M93.4 907h-1M93.4 904.3h-1M93.4 902h-1M93.4 900h-1M93.4 898.2h-1.6M93.4 886.4h-1.6M93.4 879.4h-1M93.4 874.5h-1M93.4 870.7h-1M93.4 867.5h-1M93.4 864.9h-1M93.4 862.6h-1M93.4 860.6h-1M93.4 848.1h-1.2M156.6 848.1h1.2M93.4 850h-1.2M156.6 850h1.2M93.4 851.9h-1.2M156.6 851.9h1.2M93.4 853.8h-1.2M156.6 853.8h1.2M93.4 855.7h-1.2M156.6 855.7h1.2M96.4 925.6v.9M96.4 848.1v-.9M98.9 925.6v.9M98.9 848.1v-.9M100.8 925.6v.9M100.8 848.1v-.9M102.4 925.6v.9M102.4 848.1v-.9M103.7 925.6v.9M103.7 848.1v-.9M104.9 925.6v.9M104.9 848.1v-.9M105.9 925.6v.9M105.9 848.1v-.9M106.8 925.6v1.6M106.8 848.1v-1.6M112.7 925.6v.9M112.7 848.1v-.9M116.2 925.6v.9M116.2 848.1v-.9M118.7 925.6v.9M118.7 848.1v-.9M120.6 925.6v.9M120.6 848.1v-.9M122.1 925.6v.9M122.1 848.1v-.9M123.5 925.6v.9M123.5 848.1v-.9M124.6 925.6v.9M124.6 848.1v-.9M125.6 925.6v.9M125.6 848.1v-.9M126.5 925.6v1.6M126.5 848.1v-1.6M132.5 925.6v.9M132.5 848.1v-.9M136 925.6v.9M136 848.1v-.9M138.4 925.6v.9M138.4 848.1v-.9M140.3 925.6v.9M140.3 848.1v-.9M141.9 925.6v.9M141.9 848.1v-.9M143.2 925.6v.9M143.2 848.1v-.9M144.4 925.6v.9M144.4 848.1v-.9M145.4 925.6v.9M145.4 848.1v-.9M146.3 925.6v1.6M146.3 848.1v-1.6M152.2 925.6v.9M152.2 848.1v-.9M155.7 925.6v.9M155.7 848.1v-.9" stroke="#222" stroke-width=".45"/>
<rect x="93.4" y="848.1" width="63.2" height="77.5" fill="none" stroke="#222" stroke-width=".7"/>
<path d="M93.4 858.8H156.6" stroke="#222" stroke-width=".4"/>
<path d="M93.4 857.8H156.6" stroke="#e06070" stroke-opacity=".28" stroke-width="1.2"/>
<path d="M93.4 857.8H156.6" stroke="#c02838" stroke-width=".5"/>
<rect x="95" y="860.4" width="37.9" height="11.2" rx=".8" fill="#fff" fill-opacity=".8" stroke="#d0d0d0" stroke-width=".35"/>
<path d="M96.3 863.8h7.8" stroke="#1f77b4" stroke-width="1.05"/>
<path d="M96.3 868.9h7.8" stroke="#ff7f0e" stroke-width="1.05"/>
<text x="106.4" y="865.3" class="lg3">mean HVSR</text>
<text x="106.4" y="870.4" class="lg3">VACF-corrected</text>
<text x="159" y="850.1" class="rd">60</text>
<text x="159" y="853.3" class="rd">40</text>
<text x="159" y="856.5" class="rd">20</text>
</g>
<g id="g22">
<rect x="171.8" y="848.1" width="8.2" height="77.5" class="gb"/>
<rect x="196.6" y="848.1" width="10.3" height="77.5" class="gb"/>
<rect x="214.4" y="848.1" width="5.7" height="77.5" class="gb"/>
<path d="M167.4 848.1V925.6M169.9 848.1V925.6M171.8 848.1V925.6M173.4 848.1V925.6M174.7 848.1V925.6M175.8 848.1V925.6M176.9 848.1V925.6M177.8 848.1V925.6M183.7 848.1V925.6M187.2 848.1V925.6M189.6 848.1V925.6M191.5 848.1V925.6M193.1 848.1V925.6M194.4 848.1V925.6M195.6 848.1V925.6M196.6 848.1V925.6M197.5 848.1V925.6M203.4 848.1V925.6M206.9 848.1V925.6M209.4 848.1V925.6M211.3 848.1V925.6M212.8 848.1V925.6M214.1 848.1V925.6M215.3 848.1V925.6M216.3 848.1V925.6M217.2 848.1V925.6M223.1 848.1V925.6M226.6 848.1V925.6" stroke="#bdbdbd" stroke-width=".5"/>
<path d="M164.4 918.8H227.5M164.4 913.9H227.5M164.4 907H227.5M164.4 904.3H227.5M164.4 902H227.5M164.4 900H227.5M164.4 891.3H227.5M164.4 879.4H227.5M164.4 874.5H227.5M164.4 870.7H227.5M164.4 867.5H227.5M164.4 864.9H227.5M164.4 862.6H227.5M164.4 860.6H227.5M164.4 850H227.5M164.4 851.9H227.5M164.4 853.8H227.5M164.4 855.7H227.5" stroke="#c4c4c4" stroke-width=".45"/>
</g>
<g id="o22">
<path d="M164.4 886.4H227.5M164.4 898.2H227.5M164.4 910.1H227.5" stroke="#484848" stroke-width=".55" stroke-dasharray="2 .9"/>
<path d="M164.4 925.8h-1M164.4 918.8h-1M164.4 913.9h-1M164.4 910.1h-1.6M164.4 907h-1M164.4 904.3h-1M164.4 902h-1M164.4 900h-1M164.4 898.2h-1.6M164.4 886.4h-1.6M164.4 879.4h-1M164.4 874.5h-1M164.4 870.7h-1M164.4 867.5h-1M164.4 864.9h-1M164.4 862.6h-1M164.4 860.6h-1M164.4 848.1h-1.2M227.5 848.1h1.2M164.4 850h-1.2M227.5 850h1.2M164.4 851.9h-1.2M227.5 851.9h1.2M164.4 853.8h-1.2M227.5 853.8h1.2M164.4 855.7h-1.2M227.5 855.7h1.2M167.4 925.6v.9M167.4 848.1v-.9M169.9 925.6v.9M169.9 848.1v-.9M171.8 925.6v.9M171.8 848.1v-.9M173.4 925.6v.9M173.4 848.1v-.9M174.7 925.6v.9M174.7 848.1v-.9M175.8 925.6v.9M175.8 848.1v-.9M176.9 925.6v.9M176.9 848.1v-.9M177.8 925.6v1.6M177.8 848.1v-1.6M183.7 925.6v.9M183.7 848.1v-.9M187.2 925.6v.9M187.2 848.1v-.9M189.6 925.6v.9M189.6 848.1v-.9M191.5 925.6v.9M191.5 848.1v-.9M193.1 925.6v.9M193.1 848.1v-.9M194.4 925.6v.9M194.4 848.1v-.9M195.6 925.6v.9M195.6 848.1v-.9M196.6 925.6v.9M196.6 848.1v-.9M197.5 925.6v1.6M197.5 848.1v-1.6M203.4 925.6v.9M203.4 848.1v-.9M206.9 925.6v.9M206.9 848.1v-.9M209.4 925.6v.9M209.4 848.1v-.9M211.3 925.6v.9M211.3 848.1v-.9M212.8 925.6v.9M212.8 848.1v-.9M214.1 925.6v.9M214.1 848.1v-.9M215.3 925.6v.9M215.3 848.1v-.9M216.3 925.6v.9M216.3 848.1v-.9M217.2 925.6v1.6M217.2 848.1v-1.6M223.1 925.6v.9M223.1 848.1v-.9M226.6 925.6v.9M226.6 848.1v-.9" stroke="#222" stroke-width=".45"/>
<rect x="164.4" y="848.1" width="63.1" height="77.5" fill="none" stroke="#222" stroke-width=".7"/>
<path d="M164.4 858.8H227.5" stroke="#222" stroke-width=".4"/>
<path d="M164.4 857.8H227.5" stroke="#e06070" stroke-opacity=".28" stroke-width="1.2"/>
<path d="M164.4 857.8H227.5" stroke="#c02838" stroke-width=".5"/>
<rect x="166" y="860.4" width="37.9" height="11.2" rx=".8" fill="#fff" fill-opacity=".8" stroke="#d0d0d0" stroke-width=".35"/>
<path d="M167.3 863.8h7.8" stroke="#1f77b4" stroke-width="1.05"/>
<path d="M167.3 868.9h7.8" stroke="#ff7f0e" stroke-width="1.05"/>
<text x="177.4" y="865.3" class="lg3">mean HVSR</text>
<text x="177.4" y="870.4" class="lg3">VACF-corrected</text>
<text x="229.9" y="850.1" class="rd">60</text>
<text x="229.9" y="853.3" class="rd">40</text>
<text x="229.9" y="856.5" class="rd">20</text>
</g>
<g id="g23">
<rect x="242.1" y="848.1" width="8.2" height="77.5" class="gb"/>
<rect x="266.9" y="848.1" width="10.3" height="77.5" class="gb"/>
<rect x="284.8" y="848.1" width="5.7" height="77.5" class="gb"/>
<path d="M237.7 848.1V925.6M240.2 848.1V925.6M242.1 848.1V925.6M243.7 848.1V925.6M245 848.1V925.6M246.2 848.1V925.6M247.2 848.1V925.6M248.1 848.1V925.6M254 848.1V925.6M257.5 848.1V925.6M260 848.1V925.6M261.9 848.1V925.6M263.4 848.1V925.6M264.8 848.1V925.6M265.9 848.1V925.6M266.9 848.1V925.6M267.8 848.1V925.6M273.8 848.1V925.6M277.3 848.1V925.6M279.7 848.1V925.6M281.6 848.1V925.6M283.2 848.1V925.6M284.5 848.1V925.6M285.7 848.1V925.6M286.7 848.1V925.6M287.6 848.1V925.6M293.5 848.1V925.6M297 848.1V925.6" stroke="#bdbdbd" stroke-width=".5"/>
<path d="M234.7 918.8H297.9M234.7 913.9H297.9M234.7 907H297.9M234.7 904.3H297.9M234.7 902H297.9M234.7 900H297.9M234.7 891.3H297.9M234.7 879.4H297.9M234.7 874.5H297.9M234.7 870.7H297.9M234.7 867.5H297.9M234.7 864.9H297.9M234.7 862.6H297.9M234.7 860.6H297.9M234.7 850H297.9M234.7 851.9H297.9M234.7 853.8H297.9M234.7 855.7H297.9" stroke="#c4c4c4" stroke-width=".45"/>
</g>
<g id="o23">
<path d="M234.7 886.4H297.9M234.7 898.2H297.9M234.7 910.1H297.9" stroke="#484848" stroke-width=".55" stroke-dasharray="2 .9"/>
<path d="M234.7 925.8h-1M234.7 918.8h-1M234.7 913.9h-1M234.7 910.1h-1.6M234.7 907h-1M234.7 904.3h-1M234.7 902h-1M234.7 900h-1M234.7 898.2h-1.6M234.7 886.4h-1.6M234.7 879.4h-1M234.7 874.5h-1M234.7 870.7h-1M234.7 867.5h-1M234.7 864.9h-1M234.7 862.6h-1M234.7 860.6h-1M234.7 848.1h-1.2M297.9 848.1h1.2M234.7 850h-1.2M297.9 850h1.2M234.7 851.9h-1.2M297.9 851.9h1.2M234.7 853.8h-1.2M297.9 853.8h1.2M234.7 855.7h-1.2M297.9 855.7h1.2M237.7 925.6v.9M237.7 848.1v-.9M240.2 925.6v.9M240.2 848.1v-.9M242.1 925.6v.9M242.1 848.1v-.9M243.7 925.6v.9M243.7 848.1v-.9M245 925.6v.9M245 848.1v-.9M246.2 925.6v.9M246.2 848.1v-.9M247.2 925.6v.9M247.2 848.1v-.9M248.1 925.6v1.6M248.1 848.1v-1.6M254 925.6v.9M254 848.1v-.9M257.5 925.6v.9M257.5 848.1v-.9M260 925.6v.9M260 848.1v-.9M261.9 925.6v.9M261.9 848.1v-.9M263.4 925.6v.9M263.4 848.1v-.9M264.8 925.6v.9M264.8 848.1v-.9M265.9 925.6v.9M265.9 848.1v-.9M266.9 925.6v.9M266.9 848.1v-.9M267.8 925.6v1.6M267.8 848.1v-1.6M273.8 925.6v.9M273.8 848.1v-.9M277.3 925.6v.9M277.3 848.1v-.9M279.7 925.6v.9M279.7 848.1v-.9M281.6 925.6v.9M281.6 848.1v-.9M283.2 925.6v.9M283.2 848.1v-.9M284.5 925.6v.9M284.5 848.1v-.9M285.7 925.6v.9M285.7 848.1v-.9M286.7 925.6v.9M286.7 848.1v-.9M287.6 925.6v1.6M287.6 848.1v-1.6M293.5 925.6v.9M293.5 848.1v-.9M297 925.6v.9M297 848.1v-.9" stroke="#222" stroke-width=".45"/>
<rect x="234.7" y="848.1" width="63.2" height="77.5" fill="none" stroke="#222" stroke-width=".7"/>
<path d="M234.7 858.8H297.9" stroke="#222" stroke-width=".4"/>
<path d="M234.7 857.8H297.9" stroke="#e06070" stroke-opacity=".28" stroke-width="1.2"/>
<path d="M234.7 857.8H297.9" stroke="#c02838" stroke-width=".5"/>
<rect x="236.3" y="860.4" width="37.9" height="11.2" rx=".8" fill="#fff" fill-opacity=".8" stroke="#d0d0d0" stroke-width=".35"/>
<path d="M237.6 863.8h7.8" stroke="#1f77b4" stroke-width="1.05"/>
<path d="M237.6 868.9h7.8" stroke="#ff7f0e" stroke-width="1.05"/>
<text x="247.7" y="865.3" class="lg3">mean HVSR</text>
<text x="247.7" y="870.4" class="lg3">VACF-corrected</text>
<text x="300.3" y="850.1" class="rd">60</text>
<text x="300.3" y="853.3" class="rd">40</text>
<text x="300.3" y="856.5" class="rd">20</text>
</g>
</defs>
<use href="#g00" y="0"/>
<clipPath id="k0"><rect x="21.3" y="20" width="64.3" height="66.8"/></clipPath><g clip-path="url(#k0)">
<path d="M27.8 38.2l1.7-.2 1.7-3.9 1.7-2 1.7 2.9 1.8-1.3 1.7 5 1.7 3.3 1.7 3.8 1.8-.3 1.7 4.3 1.7 .5 1.7-.1 1.8-3.2 1.7 2.4 1.7 0 1.7 1.4 1.7-2.4 1.8-2.5 1.7 .4 1.7 .1 1.7 2.4 1.8-2.7 1.7 .6 1.7 .8 1.7-1.5 1.8-.4 1.7 1.9 1.7-2.3 1.7 .3 1.8 1.6 1.7 3.5 1.7 .4 1.7 5.8 0 4.6-1.7-5.1-1.7-.4-1.7-3-1.8-1.6-1.7-.4-1.7 2.4-1.7-1.6-1.8 .1-1.7 2.1-1.7-1.9-1.7 .5-1.8 2.6-1.7-1.9-1.7-1.1-1.7 1.4-1.8 1.8-1.7 1.6-1.7-.6-1.7-.2-1.7-1.3-1.8 4.9-1.7 .4-1.7 2.9-1.7-1.7-1.8 2.8-1.7 .1-1.7 4.7-1.7 4-1.8-5.9-1.7 5.8-1.7-3.9-1.7-1.5-1.7 1.8z" fill="#1f77b4" fill-opacity=".34"/>
<path d="M27.8 55.7l1.7-2 1.7 1.1 1.7-2.9 1.7-.5 1.8-1 1.7 5.2 1.7-1.3 1.7 .4 1.8-.5 1.7 1.6 1.7-.9 1.7 .3 1.8-3.9 1.7 1.9 1.7 0 1.7 .7 1.7-2.2 1.8-1.7 1.7-.6 1.7 .7 1.7 1.6 1.8-2.9 1.7 .4 1.7 1 1.7-1 1.8-.4 1.7 1.6 1.7-2.4 1.7 .3 1.8 1.5 1.7 3.2 1.7 .9 1.7 4.9" stroke="#1f77b4" stroke-width="1.05" fill="none" stroke-linejoin="round"/>
<path d="M37.6 43.7l1.7 5.3 1.7 .7 1.7-.4 1.7-1.3 1.7 .4 1.7-1.3 1.7-2.5 1.7-4.2 1.7-1.6 1.7 1.5 1.7 .6 1.7-.2 1.8 .8 1.7-2.5 1.7-1.2 1.7-1 1.7-2.9 1.7 1.6 1.7-1.9 1.7 .8 1.7-.3 1.7 2.1 1.7-2 1.7 .7 0 5.4-1.7-1.1-1.7 2.7-1.7-1.4-1.7 .3-1.7-.4-1.7 1.4-1.7-.8-1.7 3.2-1.7 1.2-1.7 2.6-1.7 1.1-1.8-.2-1.7 1.2-1.7 1.1-1.7 .5-1.7 2.4-1.7 4.3-1.7 3.4-1.7 .1-1.7 3-1.7 2.2-1.7-1.2-1.7 3.6-1.7-8.6z" fill="#ff7f0e" fill-opacity=".3"/>
<path d="M37.6 51.8l1.7 6.9 1.7 .1 1.7-1.6 1.7-.5 1.7-1.5 1.7-.8 1.7-3.9 1.7-3.2 1.7-2.4 1.7 1.3 1.7-.9 1.7-.2 1.8 .2 1.7-2 1.7-1.1 1.7-1.5 1.7-3.7 1.7 1.7 1.7-1.5 1.7 .6 1.7-.7 1.7 2.1 1.7-2.2 1.7 .5" stroke="#ff7f0e" stroke-width="1.05" fill="none" stroke-linejoin="round"/>
</g>
<path d="M21.3 18.9l3.2 0 7.6-3.2 8.8-3.3 10.9-2.6 23 0 5.4 2.6 4.4 5.4 1 0" stroke="#1f77b4" stroke-width=".65" fill="none"/>
<use href="#o00" y="0"/>
<text x="24.6" y="82.8" class="st">AMGA.HN, &#160;60 events</text>
<text x="19.1" y="49.3" class="tk" text-anchor="end">2.0</text>
<text x="19.1" y="61.2" class="tk" text-anchor="end">1.0</text>
<text x="19.1" y="73.1" class="tk" text-anchor="end">0.5</text>
<text transform="translate(10.7 54.1) rotate(-90)" class="yl" text-anchor="middle">HVSR</text>
<text transform="translate(9.1 14.2) rotate(-90)" class="vl" text-anchor="middle">Valid (%)</text>
<use href="#g01" y="0"/>
<clipPath id="k1"><rect x="92.2" y="20" width="64.4" height="66.8"/></clipPath><g clip-path="url(#k1)">
<path d="M98.8 20.2l1.7-1.2 1.7-1.6 1.7 4.9 1.7 12.9 1.8 1.6 1.7 2.1 1.7 2.7 1.7 3.5 1.8-1.2 1.7-1.2 1.7 0 1.7-.8 1.8-.9 1.7-1.2 1.7 .3 1.7 3.9 1.7 4.5 1.8 2 1.7-.2 1.7 2 1.7 1.1 1.8 2.3 1.7 .9 1.7-.2 1.7 .5 1.8 2.3 1.7-1.6 1.7 1.3 1.7-.5 1.8-1.5 1.7 4.5 1.7 6 1.7 .4 0 4.8-1.7-.4-1.7-5.8-1.7-4.7-1.8 2.1-1.7-.1-1.7-1-1.7 1.1-1.8-1.9-1.7-.5-1.7 .3-1.7-1.6-1.8-1.5-1.7-1.6-1.7-1.7-1.7-.1-1.8-1.5-1.7-3.9-1.7-3.1-1.7-.2-1.7 2.6-1.8 2.4-1.7 2.1-1.7 .7-1.7 5-1.8-.1-1.7 0-1.7 2.8-1.7 3.7-1.8-.6-1.7 2.4-1.7 2.6-1.7 .7-1.7-1.7z" fill="#1f77b4" fill-opacity=".34"/>
<path d="M98.8 46.3l1.7-2.3 1.7-2 1.7 5.3 1.7 2.2 1.8 .4 1.7 .5 1.7 1 1.7-.3 1.8 .7 1.7-3.5 1.7-.4 1.7-1.3 1.8-2.1 1.7-1 1.7-.1 1.7 3.6 1.7 3.9 1.8 2 1.7-.1 1.7 2.1 1.7 .8 1.8 2.3 1.7 1 1.7 .1 1.7 .7 1.8 1.6 1.7-.9 1.7 1.2 1.7-.8 1.8-1.2 1.7 4.7 1.7 5.3 1.7 .6" stroke="#1f77b4" stroke-width="1.05" fill="none" stroke-linejoin="round"/>
<path d="M108.6 50l1.7-1.5 1.7 .7 1.7-2 1.7 .6 1.7-.4 1.7-1.8 1.7-2.7 1.7-3.8 1.7-1.6 1.7-1.6 1.7 4.2 1.7-1.2 1.8 .5 1.7 1.1 1.7 .8 1.7 1.9 1.7 0 1.7-.6 1.7 3.4 1.7-.8 1.7 3 1.7 1 1.7 2.4 1.7-2.5 0 5.5-1.7 2.7-1.7-3.9-1.7-.4-1.7-2.7-1.7 1.1-1.7-3.6-1.7 1-1.7 1.1-1.7-2-1.7-1-1.7-.9-1.8-1-1.7 .6-1.7-3.4-1.7 2.2-1.7 .5-1.7 5.4-1.7 2.2-1.7 2.1-1.7 .2-1.7 1.7-1.7 4.3-1.7 .6-1.7 0z" fill="#ff7f0e" fill-opacity=".3"/>
<path d="M108.6 55l1.7 0 1.7 0 1.7-2.2 1.7-1.6 1.7 0 1.7-2.2 1.7-2.2 1.7-4.9 1.7-1.3 1.7-1.7 1.7 3.8 1.7-.4 1.8 .8 1.7 .8 1.7 .7 1.7 1.8 1.7-.7 1.7-.7 1.7 3.3 1.7-.3 1.7 2.6 1.7 .7 1.7 3.3 1.7-2.8" stroke="#ff7f0e" stroke-width="1.05" fill="none" stroke-linejoin="round"/>
</g>
<path d="M92.2 17.8l4.4 0 10.9-3.2 8.7-3.3 8.8-1.5 15.3 0 8.8 2.6 6.5 4.4 1 0" stroke="#1f77b4" stroke-width=".65" fill="none"/>
<use href="#o01" y="0"/>
<text x="95.5" y="82.8" class="st">AMKY.HN, 117 events</text>
<use href="#g02" y="0"/>
<clipPath id="k2"><rect x="163.4" y="20" width="64.1" height="66.8"/></clipPath><g clip-path="url(#k2)">
<path d="M173 26.9l1.8 7.5 1.7 2.5 1.8 2.7 1.7 4.7 1.8 .3 1.7 .4 1.8-.6 1.7 1.3 1.8 .7 1.7 .2 1.8 3.4 1.7 0 1.8-.3 1.7 3.4 1.8-2.9 1.7-1.3 1.8-2.2 1.7-.7 1.8-.1 1.7 .8 1.8 .2 1.7-5.5 1.8-1.4 1.7-.9 1.8 5.6 1.7 5.3 1.8-1.7 1.7-4.1 1.8-5.6 1.7 9.6 1.8 14.2 0 5.6-1.8-14.9-1.7-8.9-1.8 4.4-1.7 5-1.8 .7-1.7-4.3-1.8-5.9-1.7 .6-1.8 1.7-1.7 4.7-1.8 .5-1.7-.8-1.8 .1-1.7 1.3-1.8 1.8-1.7 1.7-1.8 4-1.7-3.2-1.8 2.5-1.7 2.6-1.8-2.1-1.7 2.5-1.8 .4-1.7 2.9-1.8 3-1.7-1.9-1.8 0-1.7-1.4-1.8-2.5-1.7-4.9-1.8-2.8z" fill="#1f77b4" fill-opacity=".34"/>
<path d="M173 43l1.8 3.5 1.7 4.7 1.8 .7 1.7 3.4 1.8-1.2 1.7 1.5 1.8-1.2 1.7-.6 1.8-.1 1.7 0 1.8 2.4 1.7-1 1.8-2 1.7 3 1.8-3.5 1.7-1.4 1.8-2 1.7-.6 1.8-.1 1.7 .8 1.8-.4 1.7-5 1.8-1.5 1.7-.5 1.8 5.6 1.7 4.6 1.8-1.3 1.7-4.2 1.8-5.1 1.7 8.9 1.8 14.9" stroke="#1f77b4" stroke-width="1.05" fill="none" stroke-linejoin="round"/>
<path d="M178.5 42.2l1.7 2.8 1.7 .1 1.7 2.1 1.7-3.3 1.7 2.3 1.7 .7 1.7 1.6 1.8-1.9 1.7 .5 1.7-2.1 1.7-1 1.7-.2 1.7 .1 1.7-5.8 1.7 3.3 1.7-5.4 1.7 .3 1.7 2.6 1.7-5.7 1.7-3.1 1.7 1.4 1.7 3.1 1.7 2.1 1.7-3 1.8-1.5 0 6.5-1.8 3-1.7 2.6-1.7-2.4-1.7-1.9-1.7-.6-1.7 1.1-1.7 7.8-1.7-4.1-1.7 1.4-1.7 3.9-1.7-2.1-1.7 5-1.7 .9-1.7 .6-1.7 1-1.7 4.2-1.7 .1-1.8 2.1-1.7 0-1.7-.9-1.7-1.6-1.7 3.7-1.7 2-1.7-3.8-1.7 1.4z" fill="#ff7f0e" fill-opacity=".3"/>
<path d="M178.5 51.8l1.7 1.6 1.7 1.8 1.7-1.2 1.7-1.7 1.7 .1 1.7 2 1.7-.4 1.8-.5 1.7-1 1.7-2.8 1.7-1 1.7-.8 1.7 .1 1.7-4.7 1.7 2.3 1.7-4.5 1.7-.6 1.7 3 1.7-6.7 1.7-2.6 1.7 1.1 1.7 3.1 1.7 2.4 1.7-3 1.8-2.5" stroke="#ff7f0e" stroke-width="1.05" fill="none" stroke-linejoin="round"/>
</g>
<path d="M163.4 17.8l4.2 0 8.7-3.2 10.9-4.4 9.9-.4 18.6 0 6.5 2.6 5.3 5.4 0 0" stroke="#1f77b4" stroke-width=".65" fill="none"/>
<use href="#o02" y="0"/>
<text x="166.7" y="82.8" class="st">APE.HN, 102 events</text>
<use href="#g03" y="0"/>
<clipPath id="k3"><rect x="235.3" y="20" width="63.3" height="66.8"/></clipPath><g clip-path="url(#k3)">
<path d="M235.2 21.2l1.7 5.8 1.7 .7 1.7 1 1.7 1.4 1.8 1.5 1.7 2.2 1.7 1.2 1.7 2 1.7-1.8 1.7 2.6 1.7 1.7 1.8-1.2 1.7 3.4 1.7 3.7 1.7 .3 1.7 1.2 1.7-.6 1.7 5 1.8-.5 1.7 1 1.7-1.9 1.7-2.7 1.7-.5 1.7-3.5 1.8-2 1.7 2 1.7 2 1.7 3.9 1.7 .6 1.7 .3 1.7-1.8 1.8 2.1 1.7 .7 1.7-1.8 1.7 3.3 1.7 3.1 1.7 7.9 0 4.9-1.7-7.6-1.7-4.2-1.7-1.8-1.7 1.2-1.7 0-1.8-3.2-1.7 1.6-1.7 .6-1.7-1.1-1.7-3.7-1.7-2.1-1.7-2.5-1.8 2.7-1.7 5-1.7-.3-1.7 4.2-1.7 2.4-1.7-.7-1.8 1.7-1.7-3.4-1.7 2.2-1.7-.5-1.7 1.9-1.7-1.6-1.7 4.5-1.8-1.9-1.7-.2-1.7-3.1-1.7 .7-1.7-.4-1.7-2.4-1.7 .4-1.8 .9-1.7-8.1-1.7-.2-1.7-3.7-1.7-5z" fill="#1f77b4" fill-opacity=".34"/>
<path d="M235.2 32.1l1.7 3.3 1.7 2.2 1.7 2.2 1.7 3.6 1.8-1.3 1.7 2.9 1.7 1.5 1.7 1.3 1.7-.1 1.7 1.2 1.7 0 1.8 1.9 1.7 0 1.7 1.8 1.7-.1 1.7-.2 1.7-.2 1.7 3.4 1.8-1.1 1.7 1.7 1.7-2.7 1.7-3.5 1.7 0 1.7-4.6 1.8-2 1.7 2.3 1.7 2.3 1.7 3.6 1.7 1 1.7-.1 1.7-2.1 1.8 2.9 1.7 .2 1.7-1.4 1.7 2.5 1.7 3.4 1.7 8.1" stroke="#1f77b4" stroke-width="1.05" fill="none" stroke-linejoin="round"/>
<path d="M250.5 34.4l1.7 3.8 1.8 1 1.7 3.2 1.7 0 1.8 .3 1.7 .6 1.7-3.2 1.8 1.2 1.7 1.1 1.7-.8 1.7 .9 1.8-2 1.7-3.2 1.7-1.8 1.8-4.5 1.7 1.3 1.7-2.4 1.8 1.2 1.7 2.4 1.7 3.8 1.8 2.4 1.7-.5 1.7-1.7 1.8 .6 0 5.6-1.8-.2-1.7 2.1-1.7 .3-1.8-1.3-1.7-4.3-1.7-3.1-1.8 .2-1.7 2-1.7 .8-1.8 3.4-1.7 2.6-1.7 4.6-1.8 1.7-1.7 .6-1.7 .2-1.7-1-1.8-.8-1.7 6.3-1.7-.8-1.8 3.8-1.7-1.3-1.7 1.4-1.8 .3-1.7 2.2z" fill="#ff7f0e" fill-opacity=".3"/>
<path d="M250.5 50.7l1.7-.2 1.8-1.5 1.7 2.3 1.7 .3 1.8-1.6 1.7 0 1.7-4.2 1.8 1.4 1.7 .4 1.7 0 1.7-.8 1.8-1.5 1.7-3.3 1.7-2.5 1.8-4 1.7 .6 1.7-2.5 1.8 .3 1.7 2.6 1.7 4.4 1.8 1.9 1.7-.3 1.7-2.2 1.8 .5" stroke="#ff7f0e" stroke-width="1.05" fill="none" stroke-linejoin="round"/>
</g>
<path d="M235.3 17.8l0 0 8.6-2.1 11-4.4 8.7-1.5 21.9 0 6.6 2.1 6.5 5.3 0 0" stroke="#1f77b4" stroke-width=".65" fill="none"/>
<use href="#o03" y="0"/>
<text x="238.6" y="82.8" class="st">ARG.HN, 145 events</text>
<text transform="translate(312 14.2) rotate(-90)" class="vl" text-anchor="middle">Valid (#)</text>
<use href="#g00" y="79.7"/>
<clipPath id="k4"><rect x="21.3" y="99.7" width="64.3" height="66.8"/></clipPath><g clip-path="url(#k4)">
<path d="M31 117.6l1.8 .4 1.7 4.1 1.7-.3 1.7-2.2 1.8 .4 1.7 1 1.7 3.5 1.8 2.1 1.7-2.4 1.7-.3 1.7 1 1.8-.8 1.7-1.7 1.7 3 1.8 1.9 1.7 1.3 1.7-1.4 1.8-1.4 1.7-1.4 1.7 2.1 1.7 .5 1.8-1.4 1.7 2.5 1.7-.1 1.8-1.7 1.7-.2 1.7 3.9 1.7 2.6 1.8 4.6 1.7 5.4 1.7 6.5 0 4.3-1.7-5.9-1.7-5.2-1.8-4.9-1.7-1.4-1.7-4-1.7 .2-1.8 1.2-1.7 .6-1.7-3.5-1.8 1.8-1.7 .1-1.7-1.5-1.7 .8-1.8 1.1-1.7 2.5-1.7 .1-1.8-2.1-1.7-1.8-1.7 3.8-1.8 .2-1.7 1.1-1.7 1.6-1.7 3.3-1.8 .7-1.7 .4-1.7 3.9-1.8 .4-1.7-1.1-1.7 3.4-1.7-4.2-1.8 5.8z" fill="#1f77b4" fill-opacity=".34"/>
<path d="M31 133.9l1.8-1.1 1.7 2.1 1.7-.1 1.7-2 1.8-.6 1.7 1.3 1.7-1.2 1.8 2.5 1.7-3.7 1.7-.5 1.7 .2 1.8-.9 1.7-2.4 1.7 1.3 1.8 2.3 1.7 .5 1.7-1.8 1.8-1.1 1.7-1 1.7 1.5 1.7 .4 1.8-1.6 1.7 2.9 1.7-.1 1.8-1.3 1.7-.2 1.7 3.6 1.7 2.3 1.8 4.7 1.7 5.3 1.7 6.2" stroke="#1f77b4" stroke-width="1.05" fill="none" stroke-linejoin="round"/>
<path d="M37.6 126.8l1.7-2.9 1.7-2.7 1.7-1.5 1.7 .7 1.7 .1 1.7-3.5 1.7 .4 1.7-2.3 1.7 1.4 1.7-2.9 1.7 2.6 1.7 .5 1.8-3.7 1.7 2.4 1.7 2.2 1.7 .1 1.7 .7 1.7-1.5 1.7-5.5 1.7 2.9 1.7 1.2 1.7 1.5 1.7 1.1 1.7 1.3 0 7.5-1.7-2.2-1.7-.5-1.7-.9-1.7-.1-1.7-2.9-1.7 4.9-1.7 3.1-1.7-1.7-1.7 1-1.7-.6-1.7-1.7-1.8 1.8-1.7-.6-1.7 .3-1.7 3-1.7 .9-1.7 2.1-1.7 0-1.7 3.5-1.7-.8-1.7 4.5-1.7 2-1.7 4.8-1.7 1.9z" fill="#ff7f0e" fill-opacity=".3"/>
<path d="M37.6 137.2l1.7-1.2 1.7-2.9 1.7-3 1.7-2.6 1.7 1.5 1.7-3.2 1.7-.7 1.7-2.5 1.7 .3 1.7-2.4 1.7 .8 1.7 .2 1.8-2.2 1.7 2.4 1.7 .2 1.7 .5 1.7 1.1 1.7-2.2 1.7-5.5 1.7 2.8 1.7 .8 1.7 1.4 1.7 .9 1.7 1.3" stroke="#ff7f0e" stroke-width="1.05" fill="none" stroke-linejoin="round"/>
</g>
<path d="M21.3 97.8l5.4 0 9.8-3.2 15.3-4.8 24.1 0 8.7 8 1 0" stroke="#1f77b4" stroke-width=".65" fill="none"/>
<use href="#o00" y="79.7"/>
<text x="24.6" y="162.5" class="st">ASTA.HN, 107 events</text>
<text x="19.1" y="129" class="tk" text-anchor="end">2.0</text>
<text x="19.1" y="140.9" class="tk" text-anchor="end">1.0</text>
<text x="19.1" y="152.8" class="tk" text-anchor="end">0.5</text>
<text transform="translate(10.7 133.8) rotate(-90)" class="yl" text-anchor="middle">HVSR</text>
<text transform="translate(9.1 93.9) rotate(-90)" class="vl" text-anchor="middle">Valid (%)</text>
<use href="#g01" y="79.7"/>
<clipPath id="k5"><rect x="92.2" y="99.7" width="64.4" height="66.8"/></clipPath><g clip-path="url(#k5)">
<path d="M104.2 114.9l1.8 2 1.7 2.3 1.8 4.1 1.7-.3 1.8 2 1.7-2.6 1.8 2.6 1.7-1.4 1.8 .1 1.7 2.6 1.8 2.5 1.7 .9 1.8-3.4 1.7 .4 1.8-.9 1.7-.3 1.8-.5 1.7-1.4 1.8 3.3 1.7-.4 1.8 4.3 1.7 1.6 1.8 1.9 1.7 4.8 1.8-3.2 1.7 .3 1.8 4.1 1.7 8.4 1.8-6.8 1.7-13.9 0 6.9-1.7 13.5-1.8 6.7-1.7-9.3-1.8-3.2-1.7-.4-1.8 3.5-1.7-4.9-1.8-1.9-1.7-1.3-1.8-4.5-1.7-.2-1.8-2.7-1.7 2.8-1.8-.1-1.7 .8-1.8-.1-1.7 .1-1.8 4.2-1.7 .1-1.8-1.8-1.7 .8-1.8 2.8-1.7 2.6-1.8-.4-1.7 .4-1.8 1.9-1.7-.8-1.8-2.1-1.7-2-1.8-1.3z" fill="#1f77b4" fill-opacity=".34"/>
<path d="M104.2 127.4l1.8 2.4 1.7 2.2 1.8 2 1.7 .8 1.8-2.1 1.7-.3 1.8 .7 1.7-1.2 1.8-1.3 1.7 1.4 1.8 1.4 1.7-.3 1.8-2.9 1.7-.1 1.8 0 1.7-.8 1.8-.1 1.7-2.2 1.8 2.6 1.7 .4 1.8 4.2 1.7 1.4 1.8 2.3 1.7 4.5 1.8-3.8 1.7 .9 1.8 3.5 1.7 8.5 1.8-6.3 1.7-13.4" stroke="#1f77b4" stroke-width="1.05" fill="none" stroke-linejoin="round"/>
<path d="M108.6 125.6l1.7-5.2 1.8 2.6 1.7-3.5 1.7-3.1 1.8 4.4 1.7-.9 1.7-1.1 1.7-1 1.8-1.1 1.7-2.1 1.7-.7 1.8-.6 1.7 .8 1.7-2.4 1.8 3.7 1.7-2.9 1.7 0 1.8 .7 1.7 4.2 1.7 3.8 1.8 .6 1.7 2.3 1.7-.6 1.8 .6 0 6.5-1.8 .3-1.7 1.5-1.7-3.5-1.8 .1-1.7-1.5-1.7-4.1-1.8 .5-1.7-1.4-1.7 5-1.8-3.8-1.7 2.4-1.7-.5-1.8 1.5-1.7 2.3-1.7 1.8-1.8 .9-1.7 2-1.7 .8-1.7 1-1.8-.2-1.7 2.6-1.7 4.8-1.8-.6-1.7 4.7z" fill="#ff7f0e" fill-opacity=".3"/>
<path d="M108.6 135l1.7-3.4 1.8 0 1.7-2.8 1.7-2.1 1.8 1.2 1.7-1.4 1.7-.8 1.7-1 1.8-1.5 1.7-.4 1.7-1.6 1.8-1.6 1.7 .6 1.7-2.4 1.8 2.9 1.7-3 1.7 0 1.8 1.4 1.7 2.8 1.7 2.8 1.8 .6 1.7 2.6 1.7-.2 1.8-.3" stroke="#ff7f0e" stroke-width="1.05" fill="none" stroke-linejoin="round"/>
</g>
<path d="M92.2 97.8l6.6 0 10.9-4.3 13.1-3.7 19.7 0 14.1 8 0 0" stroke="#1f77b4" stroke-width=".65" fill="none"/>
<use href="#o01" y="79.7"/>
<text x="95.5" y="162.5" class="st">ATHP.HN, &#160;47 events</text>
<use href="#g02" y="79.7"/>
<clipPath id="k6"><rect x="163.4" y="99.7" width="64.1" height="66.8"/></clipPath><g clip-path="url(#k6)">
<path d="M176.3 110l1.7 7.2 1.7 7.4 1.8 3.8 1.7 .4 1.7-.5 1.7 .8 1.7-.4 1.7 .1 1.7 1 1.7-1.7 1.8-.7 1.7 .6 1.7-.9 1.7 2.2 1.7-.2 1.7-3.9 1.7-1.6 1.8 3.9 1.7 1.4 1.7 1.5 1.7 3 1.7 3.1 1.7 .3 1.7 2.3 1.8-2.5 1.7 .8 1.7 .4 1.7 2.4 1.7-2.9 1.7-9.3 0 5-1.7 8.8-1.7 3.1-1.7-2-1.7-.6-1.7-.6-1.8 2.8-1.7-1.9-1.7-1-1.7-2.9-1.7-3.2-1.7-1.7-1.7-.9-1.8-3.1-1.7 1.9-1.7 2.9-1.7 1.9-1.7-2.1-1.7 1.2-1.7-.6-1.8 2.6-1.7 2.8-1.7-1.4-1.7 1.5-1.7 1.1-1.7 .2-1.7 1.6-1.7 3.8-1.8-1-1.7-3.5-1.7-4.7z" fill="#1f77b4" fill-opacity=".34"/>
<path d="M176.3 124.1l1.7 6.7 1.7 6.2 1.8 .5 1.7-1.2 1.7-1.3 1.7 .2 1.7-1.6 1.7 .5 1.7 1.6 1.7-2.3 1.8-2 1.7 .4 1.7-1.1 1.7 1.9 1.7-.8 1.7-3.1 1.7-2.3 1.8 3.3 1.7 1.5 1.7 1.7 1.7 2.9 1.7 3.2 1.7 .7 1.7 2.3 1.8-2.6 1.7 .2 1.7 1.1 1.7 1.6 1.7-2.8 1.7-8.8" stroke="#1f77b4" stroke-width="1.05" fill="none" stroke-linejoin="round"/>
<path d="M179.6 120.7l1.7-3.4 1.8 3.1 1.7-1.6 1.7-2.3 1.8 .8 1.7 2.7 1.7-2.2 1.7 .1 1.8 .6 1.7-.3 1.7-1.5 1.8 .8 1.7-3.9 1.7 1.4 1.8-4.6 1.7 2.5 1.7 4 1.8 2.5 1.7 .9 1.7-.9 1.8 4.2 1.7 2.5 1.7 2.1 1.8 2.2 0 5-1.8-2.8-1.7-.4-1.7-2.4-1.8-3.7-1.7 1.8-1.7-2.3-1.8-.8-1.7-2.9-1.7-2.9-1.8 5.6-1.7-.7-1.7 6-1.8-1.9-1.7 .9-1.7 3-1.8 1.6-1.7 0-1.7 2.2-1.7 .1-1.8 3.3-1.7 6.8-1.7-.2-1.8 0-1.7 6.9z" fill="#ff7f0e" fill-opacity=".3"/>
<path d="M179.6 135l1.7-2.1 1.8 1.8 1.7-2.6 1.7-4.3 1.8-2.1 1.7 1.3 1.7-.8 1.7-.6 1.8-1.1 1.7-1.2 1.7 .1 1.8 .5 1.7-4.6 1.7 .1 1.8-3.9 1.7 2 1.7 3.6 1.8 1.4 1.7 1.9 1.7-1.8 1.8 3.6 1.7 2.9 1.7 1.2 1.8 2.5" stroke="#ff7f0e" stroke-width="1.05" fill="none" stroke-linejoin="round"/>
</g>
<path d="M163.4 97.8l8.5 0 13.2-4.3 8.7-3.7 21.9 0 6.5 2.6 5.3 4.4 0 0" stroke="#1f77b4" stroke-width=".65" fill="none"/>
<use href="#o02" y="79.7"/>
<text x="166.7" y="162.5" class="st">DION.HN, &#160;33 events</text>
<use href="#g03" y="79.7"/>
<clipPath id="k7"><rect x="235.3" y="99.7" width="63.3" height="66.8"/></clipPath><g clip-path="url(#k7)">
<path d="M245 108l1.8 7 1.7 0 1.8-2.3 1.7 5.5 1.7-3.5 1.8 6 1.7-.6 1.8 1.5 1.7 6.1 1.8-4.1 1.7 3.1 1.7-2.6 1.8 .8 1.7 2.9 1.8-2 1.7 1.5 1.8 1.1 1.7-.2 1.7 1.1 1.8 1.4 1.7-3 1.8 1.6 1.7 1.3 1.8-.3 1.7 3.4 1.7 .5 1.8-1.4 1.7 3.2 1.8-.1 1.7 .9 1.8 6.8 0 4.8-1.8-6.2-1.7-.5-1.8-.8-1.7-2.5-1.8 1.3-1.7-.6-1.7-2.7-1.8 .2-1.7-2.3-1.8-.6-1.7 2.5-1.8 .1-1.7-1.6-1.7 1.2-1.8-2.1-1.7-.4-1.8 2.4-1.7-1.5-1.8 0-1.7 5.5-1.7-2.6-1.8 6.1-1.7 2.2-1.8 2.5-1.7-1.5-1.8 8-1.7 .3-1.7-2.7-1.8 1.6-1.7 .6-1.8-1.7z" fill="#1f77b4" fill-opacity=".34"/>
<path d="M245 132.8l1.8 .3 1.7-1.5 1.8 1 1.7 1.5 1.7 .5 1.8-1.3 1.7 1.1 1.8-.8 1.7 1.2 1.8-4 1.7 1.3 1.7-2.9 1.8 .9 1.7 1.4 1.8-1.9 1.7 .5 1.8 2.1 1.7-1.2 1.7 1.9 1.8 .5 1.7-2.9 1.8 1.5 1.7 1.9 1.8-.3 1.7 2.7 1.7 .8 1.8-1.3 1.7 2.7 1.8 .2 1.7 .6 1.8 6.7" stroke="#1f77b4" stroke-width="1.05" fill="none" stroke-linejoin="round"/>
<path d="M249.4 119.5l1.7 1.3 1.7 4.8 1.7 .4 1.7 .2 1.7-5.2 1.7 .4 1.8 .5 1.7-1.8 1.7-3.8 1.7 .6 1.7-2.7 1.7 1 1.7 2.8 1.7-2.1 1.7 1.9 1.7-1.3 1.7 1.3 1.7 2.4 1.7-1.2 1.7 .8 1.7 .8 1.7 2.8 1.7-3.9 1.8 2.8 1.7 3.8 0 5.1-1.7-2.3-1.8-1.8-1.7 3.6-1.7-3.6-1.7-.4-1.7 1.4-1.7 1-1.7-.9-1.7-.9-1.7-.3-1.7-.9-1.7 3.4-1.7-2.8-1.7 2.1-1.7 1.6-1.7 3.5-1.7 2.9-1.7 5.9-1.8-1.4-1.7 7.5-1.7 .4-1.7 6.9-1.7-.1-1.7-2.9-1.7 .9z" fill="#ff7f0e" fill-opacity=".3"/>
<path d="M249.4 135l1.7 2.8 1.7 2.4 1.7 1.4 1.7-3.4 1.7-3.3 1.7-2.8 1.8-.1 1.7-2.9 1.7-2.9 1.7-2.7 1.7-2.4 1.7-.4 1.7 3.4 1.7-3 1.7 1 1.7 .3 1.7 .3 1.7 1.4 1.7-.4 1.7-.3 1.7 .5 1.7 3 1.7-3.4 1.8 2.6 1.7 2.4" stroke="#ff7f0e" stroke-width="1.05" fill="none" stroke-linejoin="round"/>
</g>
<path d="M235.3 97.8l6.5 0 10.9-3.2 10.9-4.8 24.1 0 5.5 2.6 5.4 4.8 0 0" stroke="#1f77b4" stroke-width=".65" fill="none"/>
<use href="#o03" y="79.7"/>
<text x="238.6" y="162.5" class="st">DLFA.HN, 341 events</text>
<text transform="translate(312 93.9) rotate(-90)" class="vl" text-anchor="middle">Valid (#)</text>
<use href="#g00" y="159.4"/>
<clipPath id="k8"><rect x="21.3" y="179.4" width="64.3" height="66.8"/></clipPath><g clip-path="url(#k8)">
<path d="M27.8 209.4l1.7 5.5 1.7-16.1 1.8-3.7 1.7 .3 1.7 2.9 1.8 .6 1.7 3.2 1.7 7.2 1.8-1.5 1.7-.9 1.8-.4 1.7 4.6 1.7-.5 1.8-2.9 1.7 1.8 1.7-1.8 1.8 .6 1.7 1.6 1.7 1.4 1.8-2 1.7-3.1 1.8-.8 1.7 0 1.7 .8 1.8 1.1 1.7 .4 1.7-1.7 1.8 4 1.7-.5 1.8 1.7 1.7-.8 1.7 2 1.8-3.2 0 4.5-1.8 3.6-1.7-1.6-1.7 .7-1.8-1.4-1.7 .2-1.8-4.3-1.7 1.8-1.7 .4-1.8-1.7-1.7 .1-1.7-.5-1.8 1.6-1.7 3-1.8 2.5-1.7-1.3-1.7-.1-1.8 .1-1.7 2.8-1.7-2-1.8 4.4-1.7 3.3-1.7-4.7-1.8 1.8-1.7 6.8-1.8 2.9-1.7-6.4-1.7 1.3-1.8 1.2-1.7-3.3-1.7 7.3-1.8 4.4-1.7 24.5-1.7-6.3z" fill="#1f77b4" fill-opacity=".34"/>
<path d="M27.8 233.6l1.7 1.6 1.7-19.6 1.8-3.2 1.7-1.3 1.7 2.7 1.8-1.8 1.7 3.4 1.7 4.2 1.8-1.4 1.7-4.1 1.8-.4 1.7 4.7 1.7-2.2 1.8-3.2 1.7 1.9 1.7-2.4 1.8 .5 1.7 .6 1.7 1.1 1.8-2.4 1.7-2.6 1.8-1.3 1.7 .1 1.7 .1 1.8 1.5 1.7-.1 1.7-1.3 1.8 3.9 1.7-.1 1.8 1.3 1.7-.8 1.7 1.6 1.8-2.8" stroke="#1f77b4" stroke-width="1.05" fill="none" stroke-linejoin="round"/>
<path d="M37.6 201.4l1.7 2.5 1.8 7.4 1.7-1.5 1.7-4.1 1.8 1.5 1.7-2.3 1.7-.2 1.7-3.3 1.8-.9 1.7 2.7 1.7-2.6 1.8-.7 1.7-1 1.7 .4 1.8-2.8 1.7-1.9 1.7-.1 1.8-.9 1.7 1 1.7 1.6 1.8-.3 1.7 4.2 1.7-1.4 1.8-1.8 0 7.1-1.8 2.4-1.7-.1-1.7-3.9-1.8 .8-1.7 0-1.7-2.2-1.8 .6-1.7 1.5-1.7 1.4-1.8 3.9-1.7 .6-1.7 .9-1.8 1.7-1.7 3.5-1.7-1.1-1.8 1.2-1.7 2.7-1.7 .2-1.7 3.8-1.8 1.9-1.7 3.4-1.7 1-1.8-2.8-1.7-3.8z" fill="#ff7f0e" fill-opacity=".3"/>
<path d="M37.6 211.8l1.7 2.6 1.8 5 1.7-1.6 1.7-3.4 1.8-.7 1.7-1.9 1.7-.9 1.7-1.7 1.8-2 1.7 1 1.7-1.3 1.8-1.4 1.7-.7 1.7-1.3 1.8-2.9 1.7-1.5 1.7-1.1 1.8-.3 1.7 1.4 1.7 .4 1.8-.4 1.7 3.9 1.7-.5 1.8-1.7" stroke="#ff7f0e" stroke-width="1.05" fill="none" stroke-linejoin="round"/>
</g>
<path d="M21.3 177.8l4.3 0 8.7-4.3 8.8-3.7 32.8 0 9.7 8 0 0" stroke="#1f77b4" stroke-width=".65" fill="none"/>
<use href="#o00" y="159.4"/>
<text x="24.6" y="242.2" class="st">EVR.HN, 318 events</text>
<text x="19.1" y="208.7" class="tk" text-anchor="end">2.0</text>
<text x="19.1" y="220.6" class="tk" text-anchor="end">1.0</text>
<text x="19.1" y="232.5" class="tk" text-anchor="end">0.5</text>
<text transform="translate(10.7 213.5) rotate(-90)" class="yl" text-anchor="middle">HVSR</text>
<text transform="translate(9.1 173.6) rotate(-90)" class="vl" text-anchor="middle">Valid (%)</text>
<use href="#g01" y="159.4"/>
<clipPath id="k9"><rect x="92.2" y="179.4" width="64.4" height="66.8"/></clipPath><g clip-path="url(#k9)">
<path d="M102 211.5l1.8-8.7 1.7-3.1 1.7 .8 1.7 5.3 1.8 .7 1.7-3.6 1.7-1.9 1.8-.3 1.7 2.5 1.7 1.3 1.7-1.1 1.8-3.3 1.7 1.4 1.7-2.7 1.8-.2 1.7-2.7 1.7-.8 1.8-2.5 1.7 3.4 1.7-.9 1.7 2.9 1.8 7.4 1.7 11.1 1.7 4.2 1.8-9.4 1.7 .4 1.7-2.5 1.7-2.7 1.8 2.2 1.7 15.1 1.7 13.6 0 5.1-1.7-13.3-1.7-15.7-1.8-2.1-1.7 2.5-1.7 2.7-1.7 .4-1.8 8.8-1.7-3.3-1.7-11.5-1.8-6.8-1.7-2.8-1.7 1-1.7-2.8-1.8 3.7-1.7 .5-1.7 2.2-1.8 2.8-1.7 3.2-1.7-1.2-1.8 2.2-1.7 3.4-1.7-1.6-1.7-2.5-1.8 1.7-1.7 3.5-1.7 3.6-1.8 1.3-1.7-7.6-1.7 2.7-1.7 4.1-1.8 6.7z" fill="#1f77b4" fill-opacity=".34"/>
<path d="M102 219.4l1.8-5.9 1.7-4.7 1.7-1.2 1.7 5.4 1.8 .9 1.7-3.8 1.7-2.4 1.8-1.3 1.7 3.4 1.7-.4 1.7-1.3 1.8-2.2 1.7 .8 1.7-2.9 1.8-1.4 1.7-2.3 1.7-1.2 1.8-3 1.7 2.8 1.7 0 1.7 2.3 1.8 6.9 1.7 11.7 1.7 3.5 1.8-8.6 1.7-.2 1.7-2.8 1.7-2.8 1.8 2.7 1.7 15.1 1.7 13.7" stroke="#1f77b4" stroke-width="1.05" fill="none" stroke-linejoin="round"/>
<path d="M108.6 204.1l1.7 4.5 1.8-1.7 1.7-2.4 1.7-.7 1.8-3.7 1.7 .3 1.7-4.3 1.7-3.8 1.8-1.5 1.7 2.7 1.7 1.5 1.8-5.1 1.7-2.5 1.7 1.8 1.8-2.9 1.7 1.4 1.7 6.6 1.8 3.3 1.7 2.7 1.7-3.1 1.8-1.5 1.7 2.1 1.7 3 1.8-4.6 0 6.2-1.8 4.2-1.7-2.4-1.7-.9-1.8 1.3-1.7 5.2-1.7-3.2-1.8-4-1.7-4.1-1.7-2.3-1.8 4.4-1.7-1-1.7 2.7-1.8 5.5-1.7-3.2-1.7 1.9-1.8 1.8-1.7 1.9-1.7 6.1-1.7 .5-1.8 2-1.7 1.5-1.7 3.1-1.8 3.1-1.7-4.2z" fill="#ff7f0e" fill-opacity=".3"/>
<path d="M108.6 213.9l1.7 3 1.8-2.5 1.7-1.3 1.7-1.6 1.8-3.7 1.7 1.4 1.7-5.6 1.7-2.6 1.8-2.9 1.7 .9 1.7 1.4 1.8-4.5 1.7-1.6 1.7 .1 1.8-3.5 1.7 2.3 1.7 5 1.8 4.2 1.7 2.5 1.7-4 1.8-.8 1.7 .5 1.7 3.1 1.8-4" stroke="#ff7f0e" stroke-width="1.05" fill="none" stroke-linejoin="round"/>
</g>
<path d="M92.2 177.8l6.6 0 10.9-4.3 6.5-3.7 30.7 0 8.7 8 1 0" stroke="#1f77b4" stroke-width=".65" fill="none"/>
<use href="#o01" y="159.4"/>
<text x="95.5" y="242.2" class="st">GVD.HN, &#160;86 events</text>
<use href="#g02" y="159.4"/>
<clipPath id="k10"><rect x="163.4" y="179.4" width="64.1" height="66.8"/></clipPath><g clip-path="url(#k10)">
<path d="M178.5 204.2l1.7-1.2 1.8-3.4 1.7 1.5 1.7-.1 1.8-1.5 1.7-3.7 1.7-2.8 1.8-3.4 1.7-.8 1.7 6.2 1.8 4.9 1.7 4.3 1.7 2.9 1.8-2.3 1.7-.1 1.7 .9 1.8 2.3 1.7-.9 1.8 3.7 1.7 4.3 1.7 3.5 1.8-1.6 1.7-2.3 1.7 3.2 1.8-2.6 1.7 1 1.7 5.5 1.8 5.7 0 5.8-1.8-6.6-1.7-5.7-1.7-.7-1.8 2.2-1.7-2.7-1.7 2.3-1.8 2.7-1.7-3-1.7-5.7-1.8-3.2-1.7 1.2-1.8-1.7-1.7-1.4-1.7 0-1.8 3-1.7-4-1.7-4.3-1.8-3-1.7-4.2-1.7 2.3-1.8 1.8-1.7 7.1-1.7 3.1-1.8 .3-1.7 .5-1.7 .9-1.8 4.1-1.7-.4z" fill="#1f77b4" fill-opacity=".34"/>
<path d="M178.5 211.8l1.7-1.3 1.8-3.1 1.7-.3 1.7 .4 1.8-2.1 1.7-2.5 1.7-5.4 1.8-2.8 1.7-1.4 1.7 5.7 1.8 3.8 1.7 4.4 1.7 3.2 1.8-2.7 1.7 .2 1.7 .8 1.8 1.8 1.7-.9 1.8 4 1.7 4.8 1.7 3 1.8-2.1 1.7-1.8 1.7 2.5 1.8-2.6 1.7 1 1.7 5.4 1.8 6.5" stroke="#1f77b4" stroke-width="1.05" fill="none" stroke-linejoin="round"/>
<path d="M178.5 203.5l1.7 1.4 1.7 1.6 1.7-3 1.7-2.6 1.7-4.1 1.7-2.5 1.7-5.1 1.8-1.9 1.7-3.4 1.7 2.5 1.7 4.8 1.7 2.3 1.7 .1 1.7 .6 1.7 1 1.7-2.9 1.7-1.1 1.7 3.8 1.7 6.5 1.7 3.1 1.7-.1 1.7-1.9 1.7 2.2 1.7 6.3 1.8 2.3 0 5.9-1.8-2.1-1.7-4.6-1.7-3.8-1.7 2.4-1.7-.3-1.7-1.3-1.7-6.1-1.7-4-1.7 .8-1.7 4.6-1.7 0-1.7-2.7-1.7 .7-1.7-1.4-1.7-3.2-1.7-3.3-1.7 3.7-1.8 3.1-1.7 4.5-1.7 4.8-1.7 2.4-1.7 4-1.7 .8-1.7 2.4-1.7 .2z" fill="#ff7f0e" fill-opacity=".3"/>
<path d="M178.5 211.8l1.7 1.2 1.7-.7 1.7-1.5 1.7-3.6 1.7-3.3 1.7-4.3 1.7-4.9 1.8-2.1 1.7-3.3 1.7 3.1 1.7 4.3 1.7 1 1.7-.1 1.7 1.9 1.7 .7 1.7-4 1.7-.2 1.7 3.5 1.7 6.5 1.7 1.9 1.7-.3 1.7-2 1.7 3.1 1.7 5.3 1.8 2.1" stroke="#ff7f0e" stroke-width="1.05" fill="none" stroke-linejoin="round"/>
</g>
<path d="M163.4 177.8l8.5 0 13.2-4.3 4.3-3.7 26.3 0 10.9 8 .9 0" stroke="#1f77b4" stroke-width=".65" fill="none"/>
<use href="#o02" y="159.4"/>
<text x="166.7" y="242.2" class="st">IACM.HN, &#160;72 events</text>
<use href="#g03" y="159.4"/>
<clipPath id="k11"><rect x="235.3" y="179.4" width="63.3" height="66.8"/></clipPath><g clip-path="url(#k11)">
<path d="M241.8 207.1l1.7-1.3 1.7-7 1.7-7.4 1.7-.5 1.8 3.8 1.7 5.4 1.7-.6 1.7 2.4 1.8 1.4 1.7 2.6 1.7 .1 1.7 3.8 1.8-.2 1.7 .6 1.7-2.2 1.7-1.8 1.7 3.1 1.8 .8 1.7-3 1.7 2.6 1.7 2.1 1.8 .2 1.7 .2 1.7-1.6 1.7 2.1 1.8-3.4 1.7-4.7 1.7-1.6 1.7 8.2 1.8-2.9 1.7 1.7 1.7-.3 1.7 2.9 0 5-1.7-2.7-1.7-.1-1.7-1.1-1.8 3.2-1.7-8.8-1.7 2.4-1.7 4.8-1.8 4.1-1.7-2.9-1.7 2.3-1.7-.5-1.8 .6-1.7-2-1.7-2.2-1.7 3.7-1.8-.3-1.7-2.5-1.7 4.1-1.7 0-1.7-.1-1.8 3.2-1.7-1.1-1.7 2.3-1.7 .8-1.8 3.9-1.7 4.2-1.7 5.8-1.7-1.4-1.8 1.3-1.7-4.6-1.7-4.6-1.7 1.4-1.7-6.1z" fill="#1f77b4" fill-opacity=".34"/>
<path d="M241.8 216.1l1.7 .5 1.7-1.2 1.7-2.1 1.7 1.1 1.8 .6 1.7 2.9 1.7-2 1.7 .6 1.8-2.4 1.7 .7 1.7-.5 1.7 1.9 1.8-1.8 1.7 .3 1.7-1.1 1.7-2.3 1.7 2.4 1.8 .8 1.7-3 1.7 2.2 1.7 1.3 1.8 .6 1.7 0 1.7-2.2 1.7 2.5 1.8-3.8 1.7-4.5 1.7-1.9 1.7 8.1 1.8-3.3 1.7 2.1 1.7-.1 1.7 2.5" stroke="#1f77b4" stroke-width="1.05" fill="none" stroke-linejoin="round"/>
<path d="M250.5 209.3l1.7-.2 1.8 1.4 1.7-2.9 1.7 .1 1.8-.6 1.7-2.5 1.7-.8 1.8-2.5 1.7-2.5 1.7 2.2 1.7-1.8 1.8 1.6 1.7-3.1 1.7-2.5 1.8 3.9 1.7 .2 1.7-.5 1.8-1 1.7 1.7 1.7-2.1 1.8-3.1 1.7 .8 1.7-.8 1.8 3.8 0 7.4-1.8-3.2-1.7-.9-1.7 1-1.8 3-1.7 2.5-1.7-1.7-1.8 .9-1.7 .6-1.7 .4-1.8-4.3-1.7 3.9-1.7 2-1.8-1-1.7 4.7-1.7-2.7-1.7 1.1-1.8 4.1-1.7 1.8-1.7 2.8-1.8-.4-1.7 3.3-1.7 1.2-1.8 2.9-1.7 .4z" fill="#ff7f0e" fill-opacity=".3"/>
<path d="M250.5 217.2l1.7 1.2 1.8-.7 1.7-3 1.7-1.1 1.8 .8 1.7-3.1 1.7-2.1 1.8-2.3 1.7-2.4 1.7 2.8 1.7-3.3 1.8 1 1.7-2.7 1.7-2.5 1.8 3.4 1.7 .8 1.7-.3 1.8-1.2 1.7 1 1.7-2 1.8-3 1.7-.4 1.7 .3 1.8 3.5" stroke="#ff7f0e" stroke-width="1.05" fill="none" stroke-linejoin="round"/>
</g>
<path d="M235.3 177.8l4.3 0 10.9-3.2 10.9-4.8 30.7 0 6.5 2.6 0 0" stroke="#1f77b4" stroke-width=".65" fill="none"/>
<use href="#o03" y="159.4"/>
<text x="238.6" y="242.2" class="st">IDI.HN, 196 events</text>
<text transform="translate(312 173.6) rotate(-90)" class="vl" text-anchor="middle">Valid (#)</text>
<use href="#g00" y="239.1"/>
<clipPath id="k12"><rect x="21.3" y="259.1" width="64.3" height="66.8"/></clipPath><g clip-path="url(#k12)">
<path d="M31 273.4l1.8-3.1 1.7 1 1.8 2.5 1.7 5.1 1.7 .8 1.8 5.1 1.7-5.3 1.8 1.7 1.7-1.8 1.8 1.4 1.7-3.8 1.7 1.5 1.8 1.8 1.7-1 1.8 3.6 1.7-.4 1.8 .5 1.7-.8 1.7 3.3 1.8-1.9 1.7 5.4 1.8 .4 1.7 1.9 1.8-1.3 1.7 6.1 1.7 7.6 1.8 .9 1.7 .4 1.8 4.1 1.7-.4 1.8 4 0 4.2-1.8-3-1.7-.1-1.8-3.6-1.7-.1-1.8-.1-1.7-8.5-1.7-5.3-1.8 1.2-1.7-1.8-1.8-1.1-1.7-3.7-1.8 0-1.7-1.8-1.7 2.9-1.8-.7-1.7 1.1-1.8-2.1-1.7 .4-1.8 .5-1.7 .8-1.7 4.1-1.8 .6-1.7 2.3-1.8 2.4-1.7 4.3-1.8-.7-1.7 2.5-1.7-6.6-1.8 1.7-1.7-1.5-1.8 3.6z" fill="#1f77b4" fill-opacity=".34"/>
<path d="M31 287.5l1.8-.4 1.7-1.1 1.8 3.3 1.7 3.5 1.7 1 1.8 .5 1.7-4.6 1.8 0 1.7-.2 1.8-2.2 1.7-2.7 1.7-.4 1.8 .8 1.7-.1 1.8 2.7 1.7-1.2 1.8 1.1 1.7-1.6 1.7 2.3 1.8-.9 1.7 4.7 1.8 .7 1.7 1.5 1.8-.8 1.7 5.1 1.7 8.2 1.8 .3 1.7 .7 1.8 3.6 1.7-.3 1.8 3.8" stroke="#1f77b4" stroke-width="1.05" fill="none" stroke-linejoin="round"/>
<path d="M37.6 277l1.7 7.7 1.7-.3 1.7-3.5 1.7-.2 1.7-3 1.7-.1 1.7-1.3 1.7-2.2 1.7 .1 1.7-.3 1.7-2.1 1.7 3.2 1.8-1 1.7-2.8 1.7 4 1.7 1.2 1.7-1.9 1.7 3.5 1.7 1.6 1.7 3.5 1.7 1.5 1.7 4.1 1.7 7 1.7 1.8 0 6.2-1.7-1.1-1.7-6.9-1.7-2.7-1.7-2.6-1.7-.4-1.7-1.2-1.7-3.3-1.7 .4-1.7-.5-1.7-1.4-1.7 1.8-1.8 2.2-1.7-1-1.7-.6-1.7 .1-1.7 2-1.7 2.5-1.7 2.1-1.7 1.5-1.7 6.6-1.7 1.6-1.7 6.9-1.7-1.7-1.7-3.5z" fill="#ff7f0e" fill-opacity=".3"/>
<path d="M37.6 292.9l1.7 2.9 1.7 1 1.7-4.4 1.7-.9 1.7-4.7 1.7-1.1 1.7-2.4 1.7-2.4 1.7-1 1.7 .7 1.7-.9 1.7 .6 1.8-.4 1.7-2.1 1.7 2.3 1.7 1.2 1.7-1.9 1.7 4.2 1.7 1.4 1.7 1.8 1.7 2.5 1.7 2.9 1.7 6.5 1.7 1.9" stroke="#ff7f0e" stroke-width="1.05" fill="none" stroke-linejoin="round"/>
</g>
<path d="M21.3 256.8l5.4 0 14.2-4.3 10.9-3.7 21.9 1.5 8.7 5.5 2.9 1 .3 0" stroke="#1f77b4" stroke-width=".65" fill="none"/>
<use href="#o00" y="239.1"/>
<text x="24.6" y="321.9" class="st">IKRA.HN, &#160;77 events</text>
<text x="19.1" y="288.4" class="tk" text-anchor="end">2.0</text>
<text x="19.1" y="300.3" class="tk" text-anchor="end">1.0</text>
<text x="19.1" y="312.2" class="tk" text-anchor="end">0.5</text>
<text transform="translate(10.7 293.2) rotate(-90)" class="yl" text-anchor="middle">HVSR</text>
<text transform="translate(9.1 253.3) rotate(-90)" class="vl" text-anchor="middle">Valid (%)</text>
<use href="#g01" y="239.1"/>
<clipPath id="k13"><rect x="92.2" y="259.1" width="64.4" height="66.8"/></clipPath><g clip-path="url(#k13)">
<path d="M102 280.3l1.8-2.9 1.7-4.2 1.8-.5 1.7 .2 1.7 4.4 1.8 5.6 1.7-3.1 1.8 2.4 1.7-.8 1.8 .1 1.7 .9 1.7-.1 1.8 1.5 1.7 .1 1.8 2.6 1.7 .3 1.8 .8 1.7-.9 1.7 4.5 1.8-4.8 1.7 2.8 1.8 1.7 1.7 1.6 1.8-1 1.7 1.2 1.7 1 1.8 .1 1.7 .3 1.8 3.5 1.7-2 1.8-8.4 0 5.2-1.8 8.3-1.7 2-1.8-3.9-1.7 .3-1.8 .8-1.7-1.3-1.7-.7-1.8 0-1.7-1.6-1.8-1-1.7-3.1-1.8 5.2-1.7-3.6-1.7 .9-1.8 .2-1.7-.7-1.8-2-1.7 .8-1.8-1.7-1.7 1.4-1.7 .9-1.8 3.7-1.7 1.2-1.8 3.1-1.7 2-1.8-1.4-1.7 3-1.7 3.1-1.8-2.9-1.7-1.6-1.8-2.3z" fill="#1f77b4" fill-opacity=".34"/>
<path d="M102 289.7l1.8 2 1.7-1.9 1.8 1.7 1.7-.2 1.7-2 1.8 3.5 1.7-2.3 1.8 .5 1.7-2 1.8-1.6 1.7-.1 1.7-.5 1.8 1.2 1.7-.3 1.8 2.3 1.7 1.3 1.8-.2 1.7-1 1.7 3.8 1.8-4.4 1.7 2.9 1.8 1.2 1.7 1.2 1.8-.1 1.7 .8 1.7 1.3 1.8-.8 1.7 .4 1.8 4.1 1.7-2 1.8-8.8" stroke="#1f77b4" stroke-width="1.05" fill="none" stroke-linejoin="round"/>
<path d="M108.6 286.5l1.7-3 1.7 1.3 1.7-5.1 1.7-.3 1.7-2.1 1.7-2.1 1.7 .6 1.7-1.6 1.7-2.3 1.7-1.7 1.7 1 1.7-1.7 1.8 5.8 1.7 .3 1.7 .4 1.7 .3 1.7 2.2 1.7 3.7 1.7-2.1 1.7 2.5 1.7-2.6 1.7-.8 1.7 .3 1.7 5.4 0 6.7-1.7-4.5-1.7-.7-1.7 .5-1.7 3-1.7-1.9-1.7 2.2-1.7-2.9-1.7-1.6-1.7 0-1.7-.9-1.7 .6-1.8-4-1.7 1.2-1.7 0-1.7 4.1-1.7 1.6-1.7 2.4-1.7 2-1.7 1.9-1.7 1.7-1.7 1.3-1.7 2-1.7 .5-1.7 3.7z" fill="#ff7f0e" fill-opacity=".3"/>
<path d="M108.6 295.1l1.7-2.5 1.7-.7 1.7-2.4 1.7-2.5 1.7-1.5 1.7-1.5 1.7-.2 1.7-2.4 1.7-2.1 1.7-2.1 1.7-.9 1.7-.9 1.8 4.1 1.7 1.4 1.7 .2 1.7 0 1.7 1.5 1.7 3.6 1.7-1.5 1.7 1.3 1.7-2.4 1.7-1 1.7 .7 1.7 5.3" stroke="#ff7f0e" stroke-width="1.05" fill="none" stroke-linejoin="round"/>
</g>
<path d="M92.2 256.8l4.4 0 10.9-3.2 10.9-3.3 11-1.5 15.3 .4 11.6 7 .3 0" stroke="#1f77b4" stroke-width=".65" fill="none"/>
<use href="#o01" y="239.1"/>
<text x="95.5" y="321.9" class="st">IMMV.HN, 187 events</text>
<use href="#g02" y="239.1"/>
<clipPath id="k14"><rect x="163.4" y="259.1" width="64.1" height="66.8"/></clipPath><g clip-path="url(#k14)">
<path d="M169.8 284.4l1.7-4.1 1.7-13.6 1.8-.5 1.7 .5 1.7 7.3 1.8 3.8 1.7 .5 1.7 2.7 1.8-.3 1.7 4.8 1.8-.2 1.7 3.4 1.7 1.3 1.8 .8 1.7 1.1 1.7-1.9 1.8 .7 1.7-1.6 1.7-5 1.8 3.5 1.7-1.1 1.8-.3 1.7 .1 1.7 1.2 1.8-3.5 1.7 1.8 1.7-1.4 1.8 3.7 1.7 7.1 1.8 1.4 1.7 .5 1.7 3.4 1.8-.5 0 4.9-1.8 .5-1.7-3.7-1.7-.8-1.8-.3-1.7-6.8-1.8-3.7-1.7 .8-1.7-1-1.8 3.1-1.7-1.8-1.7 1.9-1.8 0-1.7 .9-1.8-2.6-1.7 4.3-1.7 2.8-1.8 .6-1.7 2.3-1.7-2-1.8 2.5-1.7-1.1-1.7-1.1-1.8 2.3-1.7 1.1-1.8-.3-1.7 2.9-1.7 2.3-1.8-3-1.7 5.4-1.7 2.3-1.8-5.5-1.7 1.3-1.7-4.2z" fill="#1f77b4" fill-opacity=".34"/>
<path d="M169.8 292.9l1.7-1 1.7-2.6 1.8-3.1 1.7-.5 1.7 3.8 1.8 2.2 1.7 .4 1.7-1.9 1.8 1.4 1.7 1 1.8-.6 1.7 3.1 1.7 .9 1.8-.8 1.7 1.3 1.7-1.6 1.8-.5 1.7-2.1 1.7-3.9 1.8 2.8 1.7-1.1 1.8-.6 1.7-.7 1.7 1.6 1.8-3.7 1.7 1.4 1.7-.6 1.8 3.5 1.7 6.8 1.8 1 1.7 .7 1.7 3.2 1.8 .1" stroke="#1f77b4" stroke-width="1.05" fill="none" stroke-linejoin="round"/>
<path d="M179.6 283.4l1.7 3.1 1.7-1.9 1.7-1.4 1.7-4.2 1.7 3.4 1.7-.7 1.7 2.1 1.7 2.8 1.7-1.3 1.7 .2 1.7-3.5 1.7-1.9 1.8 1.1 1.7-4.5 1.7-.2 1.7-.9 1.7-.7 1.7-3.1 1.7-.1 1.7-.1 1.7-.3 1.7 .2 1.7 9.3 1.7 3.5 0 5.6-1.7-3.4-1.7-7.7-1.7-1.3-1.7 .6-1.7 2.3-1.7-1.4-1.7 5.2-1.7-.8-1.7 2.9-1.7 .2-1.7 2.5-1.8 1.2-1.7 3.7-1.7 2.6-1.7 1-1.7 1.1-1.7-2.5-1.7-.9-1.7 .4-1.7-2.2-1.7 3.2-1.7 2.8-1.7 2.6-1.7-4z" fill="#ff7f0e" fill-opacity=".3"/>
<path d="M179.6 291.8l1.7 1.8 1.7-2.4 1.7-.4 1.7-4.6 1.7 3.2 1.7-1.2 1.7 2.7 1.7 1.9 1.7-1.5 1.7-.9 1.7-2.6 1.7-1.8 1.8-.9 1.7-3.5 1.7-.3 1.7-2 1.7 0 1.7-3.9 1.7 .6 1.7-1.1 1.7-.9 1.7 1.3 1.7 8.1 1.7 4.1" stroke="#ff7f0e" stroke-width="1.05" fill="none" stroke-linejoin="round"/>
</g>
<path d="M163.4 256.8l4.2 0 13.1-2.1 8.7-5.5 13.2-.4 15.3 0 9.4 8 .2 0" stroke="#1f77b4" stroke-width=".65" fill="none"/>
<use href="#o02" y="239.1"/>
<text x="166.7" y="321.9" class="st">ITM.HN, 227 events</text>
<use href="#g03" y="239.1"/>
<clipPath id="k15"><rect x="235.3" y="259.1" width="63.3" height="66.8"/></clipPath><g clip-path="url(#k15)">
<path d="M245 280.7l1.8-3.1 1.7 4.1 1.8 .2 1.7 4.5 1.7-1.5 1.8-.4 1.7-2.4 1.8 2.5 1.7 .7 1.8 1.3 1.7-1.3 1.7-.2 1.8-.3 1.7-.2 1.8-1.2 1.7-2 1.8 .5 1.7-1.5 1.7 1.5 1.8-1.1 1.7 .6 1.8 2.7 1.7 1.7 1.8-1.7 1.7 2.5 1.7 4.2 1.8-2.1 1.7-.5 1.8-1.9 1.7 4 1.8 22.5 0 4.9-1.8-22.4-1.7-3.8-1.8 1.9-1.7 .7-1.8 2.3-1.7-5-1.7-1.8-1.8 2-1.7-.8-1.8-3.3-1.7-.6-1.8 2.3-1.7-.9-1.7 .8-1.8 .2-1.7 2.7-1.8 .8-1.7 .7-1.8 .3-1.7 .5-1.7 4.9-1.8 1.1-1.7-1.9-1.8 .5-1.7 4.7-1.8 4-1.7 .2-1.7-4.1-1.8-1.5-1.7 4.1-1.8 4z" fill="#1f77b4" fill-opacity=".34"/>
<path d="M245 294l1.8-3 1.7 .7 1.8 2.4 1.7 2.1 1.7 .4 1.8-3 1.7-1.8 1.8-.6 1.7 1.7 1.8-.1 1.7-3.1 1.7-.9 1.8 .7 1.7-1 1.8-.6 1.7-2.1 1.8-.6 1.7-.5 1.7 1.3 1.8-2.1 1.7 .9 1.8 2.8 1.7 .9 1.8-1.9 1.7 2.4 1.7 4.1 1.8-1.4 1.7-1.1 1.8-2.1 1.7 4.3 1.8 22" stroke="#1f77b4" stroke-width="1.05" fill="none" stroke-linejoin="round"/>
<path d="M251.6 288.2l1.7-4 1.7-.3 1.7-2.5 1.7 1.1 1.7-3.1 1.7-.6 1.7-.7 1.7 1.9 1.7-3.3 1.7-1 1.7-2.5 1.7-1.1 1.8 .7 1.7-4.4 1.7 1.8 1.7 2.6 1.7 1.1 1.7-1.3 1.7 1.3 1.7 3.9 1.7-.1 1.7-4 1.7 3.4 1.7-1.3 0 5.9-1.7 2.5-1.7-4.1-1.7 5.5-1.7-.1-1.7-3.9-1.7-1.7-1.7 1.9-1.7-.8-1.7-.8-1.7-2.2-1.7 3.7-1.8 2.3-1.7 .2-1.7 3.5-1.7 1.3-1.7 3.5-1.7 .5-1.7 3.2-1.7 2.7-1.7 3.6-1.7 2.4-1.7 1.4-1.7 4.1-1.7 2.9z" fill="#ff7f0e" fill-opacity=".3"/>
<path d="M251.6 299.5l1.7-2 1.7-1.5 1.7-2 1.7-.8 1.7-2.6 1.7-2.4 1.7-2.6 1.7 .7 1.7-4 1.7-1.1 1.7-2.8 1.7-.7 1.8-.5 1.7-3.5 1.7 1.4 1.7 1.9 1.7 .8 1.7-1.9 1.7 2.5 1.7 2.9 1.7 .6 1.7-4.6 1.7 2.9 1.7-1.5" stroke="#ff7f0e" stroke-width="1.05" fill="none" stroke-linejoin="round"/>
</g>
<path d="M235.3 256.8l4.3 0 10.9-2.1 10.9-5.5 11-.4 15.3 0 10.9 7.4 0 0" stroke="#1f77b4" stroke-width=".65" fill="none"/>
<use href="#o03" y="239.1"/>
<text x="238.6" y="321.9" class="st">JAN.HN, 182 events</text>
<text transform="translate(312 253.3) rotate(-90)" class="vl" text-anchor="middle">Valid (#)</text>
<use href="#g00" y="318.8"/>
<clipPath id="k16"><rect x="21.3" y="338.8" width="64.3" height="66.8"/></clipPath><g clip-path="url(#k16)">
<path d="M27.8 367.5l1.7-7.2 1.7 .2 1.8-3.5 1.7-6.4 1.7-.3 1.8-2.5 1.7 3.8 1.7 5.5 1.8 2.8 1.7-1.2 1.8 1.4 1.7-.1 1.7 1 1.8 .4 1.7-2.2 1.7 5.5 1.8 .2 1.7 1.6 1.7-1.7 1.8 2.6 1.7 1.8 1.8-2.2 1.7 .7 1.7 1.1 1.8-2 1.7 2 1.7-1.2 1.8 1.3 1.7-1.9 1.8 2.2 1.7 .3 1.7 5.8 1.8 7.2 0 5.3-1.8-6.6-1.7-4.8-1.7-1.6-1.8-1.5-1.7 .7-1.8-.4-1.7 .1-1.7-1.2-1.8 2.3-1.7-1-1.7-1.6-1.8 3.4-1.7-.7-1.8-2.4-1.7 2.7-1.7-1.5-1.8 .9-1.7-2.3-1.7 6-1.8-1.3-1.7 1.4-1.7 2.4-1.8 1.7-1.7 1.2-1.8 7.2-1.7-3-1.7-1.1-1.8 5.8-1.7-4.7-1.7 1.4-1.8-3.3-1.7-1.6-1.7 .2z" fill="#1f77b4" fill-opacity=".34"/>
<path d="M27.8 375.1l1.7-2.5 1.7 1.1 1.8-3.4 1.7-1 1.7-1 1.8 1.9 1.7 1.7 1.7 1.2 1.8-1 1.7-2.4 1.8-.3 1.7 .3 1.7-.3 1.8 .4 1.7-3.6 1.7 3 1.8 .5 1.7 .7 1.7-2.2 1.8 3.5 1.7 1.2 1.8-3.2 1.7 1.3 1.7 .3 1.8-1.3 1.7 1.2 1.7-.2 1.8 .5 1.7-1 1.8 1.3 1.7 1.2 1.7 5.1 1.8 6.9" stroke="#1f77b4" stroke-width="1.05" fill="none" stroke-linejoin="round"/>
<path d="M37.6 360.7l1.7 5.8 1.7-3.7 1.7 2 1.7-3.8 1.7 .9 1.7-.1 1.7 1.5 1.7-.6 1.7-2.3 1.7-6 1.7 2 1.7 .3 1.8-2.2 1.7 .3 1.7 0 1.7 .2 1.7 1.8 1.7 1.1 1.7-1.4 1.7-2 1.7-.1 1.7 2.7 1.7-2.1 1.7 1.2 0 5.8-1.7-.7-1.7 1.4-1.7-1.5-1.7 .4-1.7 2.3-1.7 1.9-1.7-.9-1.7-1.4-1.7-.5-1.7 1-1.7 1-1.8 4-1.7-1.5-1.7 1.3-1.7 3.9-1.7 4.6-1.7 2.6-1.7-.6-1.7 .8-1.7-1.7-1.7 5.6-1.7 .1-1.7 1.2-1.7-3.4z" fill="#ff7f0e" fill-opacity=".3"/>
<path d="M37.6 371.8l1.7 3.7 1.7-1.3 1.7-.7 1.7-3.9 1.7 1.4 1.7 .2 1.7-.3 1.7-2.2 1.7-2.8 1.7-4.7 1.7 .1 1.7 1.8 1.8-3.7 1.7-.4 1.7 .1 1.7-.1 1.7 1.8 1.7 1.4 1.7-1.5 1.7-3 1.7-.4 1.7 2.7 1.7-2.4 1.7 1.1" stroke="#ff7f0e" stroke-width="1.05" fill="none" stroke-linejoin="round"/>
</g>
<path d="M21.3 336.8l4.3 0 13.1-2.1 10.9-4.4 13.2-1.5 15.3 .8 7.2 6.6 .3 0" stroke="#1f77b4" stroke-width=".65" fill="none"/>
<use href="#o00" y="318.8"/>
<text x="24.6" y="401.6" class="st">KARP.HN, 282 events</text>
<text x="19.1" y="368.1" class="tk" text-anchor="end">2.0</text>
<text x="19.1" y="380" class="tk" text-anchor="end">1.0</text>
<text x="19.1" y="391.9" class="tk" text-anchor="end">0.5</text>
<text transform="translate(10.7 372.9) rotate(-90)" class="yl" text-anchor="middle">HVSR</text>
<text transform="translate(9.1 332.9) rotate(-90)" class="vl" text-anchor="middle">Valid (%)</text>
<text x="34.9" y="412.1" class="tx" text-anchor="middle">0.1</text>
<text x="55" y="412.1" class="tx" text-anchor="middle">1</text>
<text x="75.1" y="412.1" class="tx" text-anchor="middle">10</text>
<text x="53.9" y="417.9" class="xl" text-anchor="middle">frequency (Hz)</text>
<use href="#g01" y="318.8"/>
<clipPath id="k17"><rect x="92.2" y="338.8" width="64.4" height="66.8"/></clipPath><g clip-path="url(#k17)">
<path d="M103.1 355l1.7 3.3 1.7 2.7 1.7 5.2 1.8 5.3 1.7-4 1.7-4.8 1.7 3.3 1.7-1.1 1.7-.5 1.7 .9 1.7-3.2 1.7 2.7 1.7-.4 1.7 .6 1.7 .6 1.7-.5 1.8-.2 1.7 3.4 1.7-3.5 1.7-1 1.7 1.5 1.7 2.9 1.7 .3 1.7 3.2 1.7-2.4 1.7-.1 1.7 4.9 1.7 2.4 1.7 .2 1.8 1.8 1.7 5.4 0 5-1.7-5.3-1.8-1.9-1.7 .2-1.7-2.9-1.7-3.5-1.7-.5-1.7 2.2-1.7-2.8-1.7-.3-1.7-2.8-1.7-1.6-1.7 1.2-1.7 3.6-1.7-3-1.8 .4-1.7 2.2-1.7-.6-1.7 1.6-1.7 .6-1.7-.1-1.7 2.3-1.7 .4-1.7 5.4-1.7 2.6-1.7-2.6-1.7 5.8-1.7 3.9-1.8-9-1.7 .1-1.7-5.1-1.7-6.8z" fill="#1f77b4" fill-opacity=".34"/>
<path d="M103.1 364.2l1.7 5 1.7 3.1 1.7 3 1.8 5.2 1.7-2.5 1.7-4.5 1.7 1.2 1.7-1.5 1.7-1.7 1.7 0 1.7-2.3 1.7 .7 1.7-.1 1.7-.2 1.7 .7 1.7-1.7 1.8-.4 1.7 3.2 1.7-3.1 1.7-1.2 1.7 .9 1.7 2.6 1.7 .6 1.7 2.9 1.7-1.7 1.7-.1 1.7 4.6 1.7 1.9 1.7 .7 1.8 1.5 1.7 5.1" stroke="#1f77b4" stroke-width="1.05" fill="none" stroke-linejoin="round"/>
<path d="M108.6 370.1l1.7 4.7 1.7-3.3 1.7-7.5 1.7-8.4 1.7-2 1.7 6.8 1.7 2.7 1.7-.8 1.7-3.9 1.7-.8 1.7-1.3 1.7 2 1.8-.4 1.7-2.7 1.7-.1 1.7-1.4 1.7 3.4 1.7 .7 1.7 1.3 1.7 1.3 1.7 .7 1.7-3 1.7 4.6 1.7 1.1 0 5.5-1.7 .1-1.7-5-1.7 2.9-1.7 .8-1.7-.8-1.7-.7-1.7-1.3-1.7-3.4-1.7 1.2-1.7 1.6-1.7 3-1.8 3.4-1.7-3.3-1.7 3.3-1.7 5.1-1.7 2.5-1.7 1.8-1.7-.7-1.7-7.7-1.7 3.9-1.7 7.6-1.7 6.3-1.7 5.9-1.7-2.2z" fill="#ff7f0e" fill-opacity=".3"/>
<path d="M108.6 380.6l1.7 4.7 1.7-4.9 1.7-7.2 1.7-8.8 1.7-1.7 1.7 6.9 1.7 2.7 1.7-.5 1.7-4.7 1.7-3.2 1.7-1.8 1.7 2.5 1.8-1.7 1.7-2.9 1.7-1.2 1.7-.4 1.7 2.2 1.7 1.6 1.7 .9 1.7 1.6 1.7-.5 1.7-2.8 1.7 4.9 1.7 .1" stroke="#ff7f0e" stroke-width="1.05" fill="none" stroke-linejoin="round"/>
</g>
<path d="M92.2 336.8l6.6 0 10.9-3.2 10.9-4.4 8.8-.4 15.3 .4 11.6 7 .3 0" stroke="#1f77b4" stroke-width=".65" fill="none"/>
<use href="#o01" y="318.8"/>
<text x="95.5" y="401.6" class="st">KASA.HN, &#160;73 events</text>
<text x="105.8" y="412.1" class="tx" text-anchor="middle">0.1</text>
<text x="126" y="412.1" class="tx" text-anchor="middle">1</text>
<text x="146.1" y="412.1" class="tx" text-anchor="middle">10</text>
<text x="124.9" y="417.9" class="xl" text-anchor="middle">frequency (Hz)</text>
<use href="#g02" y="318.8"/>
<clipPath id="k18"><rect x="163.4" y="338.8" width="64.1" height="66.8"/></clipPath><g clip-path="url(#k18)">
<path d="M169.8 347.3l1.7-.8 1.7 1.9 1.8 6.5 1.7-1.9 1.7 3.1 1.8-4.2 1.7 8.3 1.7-.5 1.8 1.6 1.7 .7 1.8 2.3 1.7-.7 1.7 3.4 1.8-1.8 1.7 5.6 1.7-1.2 1.8 0 1.7-.3 1.7 .5 1.8-2.3 1.7 2.2 1.8-1.8 1.7-1.3 1.7 2.2 1.8-4.6 1.7 1.4 1.7-.4 1.8 1.9 1.7 1.4 1.8 1 1.7-.1 1.7-.3 1.8 2.7 0 4.6-1.8-2.2-1.7 .6-1.7 0-1.8-.7-1.7-1.1-1.8-2-1.7-.2-1.7-.3-1.8 3.7-1.7-1.8-1.7 2-1.8 2.2-1.7 .4-1.8 1.7-1.7 .3-1.7 .9-1.8 3-1.7-.2-1.7-2.3-1.8 1.6-1.7 2.3-1.7-.6-1.8-.6-1.7 5.2-1.8 5.5-1.7 2.5-1.7-.1-1.8-.7-1.7-1.4-1.7-7.5-1.8-3.5-1.7-3.3-1.7 .8z" fill="#1f77b4" fill-opacity=".34"/>
<path d="M169.8 365.3l1.7-.5 1.7 3 1.8 2.8 1.7-.2 1.7 2.9 1.8 1.4 1.7 .9 1.7-.3 1.8-.5 1.7-2.4 1.8 .8 1.7 .2 1.7 1.3 1.8-1.8 1.7 3.9 1.7-.6 1.8-1.1 1.7-.1 1.7-1.2 1.8-1.4 1.7 .7 1.8-1.5 1.7-2.2 1.7 2.1 1.8-4.1 1.7 .8 1.7-.4 1.8 2.1 1.7 1.3 1.8 1.1 1.7-.6 1.7 .1 1.8 2.2" stroke="#1f77b4" stroke-width="1.05" fill="none" stroke-linejoin="round"/>
<path d="M179.6 359.5l1.7 7.5 1.7-4.8 1.7-.6 1.7-4.2 1.7-2.7 1.7 1.4 1.7 3.8 1.7-3.3 1.7 1.1 1.7 .5 1.7 1.4 1.7-3.6 1.8 1.1 1.7 2.1 1.7-3.2 1.7-1 1.7-1.5 1.7-3.9 1.7 5 1.7-1 1.7-5.1 1.7-1.3 1.7 10.8 1.7 2.1 0 6-1.7-1.9-1.7-10.3-1.7 1.5-1.7 5.3-1.7 1.6-1.7-4.6-1.7 4.4-1.7 0-1.7 2.7-1.7 5-1.7-3.1-1.8 2-1.7 2.2-1.7 .8-1.7-1.4-1.7 .6-1.7 .8-1.7 .8-1.7-.7-1.7 5.3-1.7 6.7-1.7 3.8-1.7 9-1.7-2.8z" fill="#ff7f0e" fill-opacity=".3"/>
<path d="M179.6 377.3l1.7 3.2 1.7-3.8 1.7-3.3 1.7-6.7 1.7-4.2 1.7 1.8 1.7 1.5 1.7-1.1 1.7-1.5 1.7 1.9 1.7-.2 1.7-2.6 1.8-.2 1.7 2.2 1.7-3.4 1.7-2.2 1.7-1.4 1.7-3.7 1.7 4.8 1.7-1.2 1.7-4.8 1.7-1.4 1.7 10.5 1.7 1.6" stroke="#ff7f0e" stroke-width="1.05" fill="none" stroke-linejoin="round"/>
</g>
<path d="M163.4 336.8l6.4 0 8.7-4.3 8.7-3.3 32.9-.4 7.2 5.9 .2 0" stroke="#1f77b4" stroke-width=".65" fill="none"/>
<use href="#o02" y="318.8"/>
<text x="166.7" y="401.6" class="st">KEK.HN, &#160;98 events</text>
<text x="177" y="412.1" class="tx" text-anchor="middle">0.1</text>
<text x="197" y="412.1" class="tx" text-anchor="middle">1</text>
<text x="217" y="412.1" class="tx" text-anchor="middle">10</text>
<text x="195.9" y="417.9" class="xl" text-anchor="middle">frequency (Hz)</text>
<use href="#g03" y="318.8"/>
<clipPath id="k19"><rect x="235.3" y="338.8" width="63.3" height="66.8"/></clipPath><g clip-path="url(#k19)">
<path d="M245 349.2l1.8 4.4 1.7 4.6 1.8 5.1 1.7 .4 1.7 4.2 1.8 2.5 1.7-3.1 1.8-.7 1.7 1.3 1.8-3.4 1.7 1.6 1.7 .2 1.8-1.2 1.7 .6 1.8-1.9 1.7-1.3 1.8 .1 1.7-1.9 1.7-.4 1.8-2.5 1.7 1.5 1.8 7.6 1.7 9.5 1.8 10 1.7 3.3 1.7-2.6 1.8-.9 1.7-4.6 1.8-1.3 1.7-5.5 1.8 6.7 0 4.7-1.8-6.7-1.7 5.5-1.8 1.8-1.7 4-1.8 2.2-1.7 2.1-1.7-3.1-1.8-10.8-1.7-8.2-1.8-6.9-1.7-1.8-1.8 3.3-1.7-.4-1.7 2.5-1.8 .3-1.7 1-1.8 3.4-1.7-.7-1.8 1.2-1.7 2.4-1.7-.6-1.8 5.4-1.7 .6-1.8 3.8-1.7 2.4-1.8-1.8-1.7-2.3-1.7-.5-1.8-6.9-1.7-1.5-1.8-7.9z" fill="#1f77b4" fill-opacity=".34"/>
<path d="M245 358.7l1.8 4.4 1.7 4 1.8 5.8 1.7 .4 1.7 4.3 1.8 1.6 1.7-2.2 1.8-3 1.7 0 1.8-2.6 1.7 .7 1.7-1 1.8-1.9 1.7 1.4 1.8-2.9 1.7-1.9 1.8 .1 1.7-2.4 1.7 .2 1.8-2.6 1.7 1.5 1.8 7.1 1.7 9.2 1.8 10 1.7 3.3 1.7-2.2 1.8-1.5 1.7-4.5 1.8-1.5 1.7-5.6 1.8 7" stroke="#1f77b4" stroke-width="1.05" fill="none" stroke-linejoin="round"/>
<path d="M251.6 361.2l1.7 4.3 1.7 2.6 1.7-3.4 1.7-2.9 1.7 .5 1.7-4.2 1.7-1 1.7-2.1 1.7-1.5 1.7 .5 1.7-2.2 1.7-2 1.8 .5 1.7-4.2 1.7-.9 1.7 .6 1.7 3.6 1.7 9.6 1.7 10.2 1.7 5.3 1.7 2.7 1.7-2.2 1.7-6.2 1.7 0 0 6.5-1.7 .6-1.7 6-1.7 3.1-1.7-1.5-1.7-5.8-1.7-8.5-1.7-8.9-1.7-3.3-1.7-.2-1.7 2.4-1.7 3.8-1.8 .6-1.7 1.6-1.7 2.1-1.7 1.2-1.7 .8-1.7 4.1-1.7 1.7-1.7 1.4-1.7 5.9-1.7 3.8-1.7 1.1-1.7-1.8-1.7 1.5z" fill="#ff7f0e" fill-opacity=".3"/>
<path d="M251.6 374l1.7 2.4 1.7 1.7 1.7-2.9 1.7-3.7 1.7-2 1.7-2.1 1.7-1.3 1.7-4.1 1.7-1.9 1.7 .1 1.7-2.9 1.7-1.1 1.8-.6 1.7-3 1.7-.8 1.7-.6 1.7 3.5 1.7 9.4 1.7 9.9 1.7 5.1 1.7 1.2 1.7-2 1.7-6.2 1.7-.3" stroke="#ff7f0e" stroke-width="1.05" fill="none" stroke-linejoin="round"/>
</g>
<path d="M235.3 336.8l4.3 0 10.9-3.2 15.3-4.4 11-.4 10.9 .8 10.9 6.6 0 0" stroke="#1f77b4" stroke-width=".65" fill="none"/>
<use href="#o03" y="318.8"/>
<text x="238.6" y="401.6" class="st">KLMA.HN, 257 events</text>
<text transform="translate(312 332.9) rotate(-90)" class="vl" text-anchor="middle">Valid (#)</text>
<text x="248.7" y="412.1" class="tx" text-anchor="middle">0.1</text>
<text x="268.5" y="412.1" class="tx" text-anchor="middle">1</text>
<text x="288.3" y="412.1" class="tx" text-anchor="middle">10</text>
<text x="267.5" y="417.9" class="xl" text-anchor="middle">frequency (Hz)</text>
<use href="#g10" y="0"/>
<clipPath id="k20"><rect x="21.2" y="437" width="64.3" height="67.6"/></clipPath><g clip-path="url(#k20)">
<path d="M27.8 453.9l1.7-5.1 1.7-1.6 1.8 5.3 1.7-5.4 1.7 .6 1.8 1.5 1.7 4.6 1.7 5 1.8 1.5 1.7-1 1.8-1 1.7 2.9 1.7 1.5 1.8 3 1.7 4.8 1.7-2.1 1.8 5.3 1.7-1.3 1.7-2.1 1.8 2.3 1.7-1.6 1.8 1.2 1.7 1.5 1.7-3.1 1.8-.7 1.7 2.5 1.7 0 1.8 .3 1.7 .7 1.8-1.9 1.7 .3 1.7-.4 1.8-1 0 4.9-1.8 .9-1.7 .4-1.7 .7-1.8 1.8-1.7-.4-1.8-1.1-1.7-.1-1.7-1.5-1.8 .2-1.7 3.4-1.7-1.6-1.8-.3-1.7 1.6-1.8-1.6-1.7 2.8-1.7 1.2-1.8-3.7-1.7 4.4-1.7-1.3-1.8-1.1-1.7 2.8-1.7 3.6-1.8-.1-1.7 4.3-1.8 5-1.7-4.4-1.7 6.4-1.8-5.9-1.7 1.5-1.7-.1-1.8-4.7-1.7 4.8-1.7-6.2z" fill="#1f77b4" fill-opacity=".34"/>
<path d="M27.8 470.9l1.7 .6 1.7-.1 1.8 .6 1.7-1.4 1.7 .8 1.8 1.6 1.7 .6 1.7 .6 1.8-.8 1.7-.9 1.8-.8 1.7-1 1.7-.5 1.8 3.8 1.7 2.6 1.7-3.1 1.8 3.7 1.7-.9 1.7-2.6 1.8 1.7 1.7-1.1 1.8 .7 1.7 1.5 1.7-2.9 1.8-.8 1.7 2 1.7 .5 1.8 .5 1.7 .4 1.8-1.7 1.7-.5 1.7-.2 1.8-.7" stroke="#1f77b4" stroke-width="1.05" fill="none" stroke-linejoin="round"/>
<path d="M37.6 456.7l1.7 5.2 1.7 1.4 1.7-2.6 1.7-.9 1.7-.6 1.7 4 1.7-.8 1.7-5.4 1.7 .8 1.7 .2 1.7-.9 1.7-.3 1.8 2.5 1.7-.7 1.7 .3 1.7 .5 1.7-2.7 1.7-1.1 1.7-1.6 1.7 2.4 1.7 2.7 1.7-4.3 1.7 1.7 1.7 6.3 0 5.8-1.7-5.6-1.7-1.7-1.7 5.7-1.7-3.2-1.7-2.5-1.7 2.4-1.7 1.5-1.7 3.3-1.7-2.2-1.7 1.4-1.7 3.2-1.8-3.3-1.7 2.5-1.7-.1-1.7 4.7-1.7-.4-1.7 5.7-1.7 .3-1.7 2.2-1.7 .1-1.7 7.5-1.7 .6-1.7 .8-1.7 2.1z" fill="#ff7f0e" fill-opacity=".3"/>
<path d="M37.6 475.3l1.7 2.7 1.7-1 1.7-3.1 1.7-2.9 1.7 .8 1.7 .3 1.7-2.2 1.7-3.6 1.7 0 1.7-2.3 1.7-.9 1.7-.6 1.8 3.2 1.7-2.7 1.7-.5 1.7 1.9 1.7-2.9 1.7-2.3 1.7-1.2 1.7 2.1 1.7 3.1 1.7-4.9 1.7 1.1 1.7 6.1" stroke="#ff7f0e" stroke-width="1.05" fill="none" stroke-linejoin="round"/>
</g>
<path d="M21.2 434.8l6.6 0 4.3-3.2 4.4-4.4 6.6-.4 35 0 7.2 2.6 .3 0" stroke="#1f77b4" stroke-width=".65" fill="none"/>
<use href="#o10" y="0"/>
<text x="24.6" y="500.6" class="st">KDZ.HN, 346 events</text>
<text x="19.1" y="466.7" class="tk" text-anchor="end">2.0</text>
<text x="19.1" y="478.7" class="tk" text-anchor="end">1.0</text>
<text x="19.1" y="490.7" class="tk" text-anchor="end">0.5</text>
<text transform="translate(10.7 471.6) rotate(-90)" class="yl" text-anchor="middle">HVSR</text>
<text transform="translate(9.1 431.1) rotate(-90)" class="vl" text-anchor="middle">Valid (%)</text>
<use href="#g11" y="0"/>
<clipPath id="k21"><rect x="93.1" y="437" width="64.4" height="67.6"/></clipPath><g clip-path="url(#k21)">
<path d="M99.8 441.1l1.7-2.4 1.7 3.7 1.8 7.3 1.7-5.2 1.7 2.8 1.8-2.6 1.7 7.9 1.7-.8 1.8 4.1 1.7 1.4 1.8 .6 1.7-.4 1.7 4.7 1.8 0 1.7 2 1.7 0 1.8-.2 1.7-1.2 1.7-.5 1.8 .4 1.7 3.7 1.8-1.2 1.7-.8 1.7 4.1 1.8 .6 1.7 4.5 1.7-.7 1.8 2 1.7 7.9 1.8-6.8 1.7-.7 1.7 2 1.8 5.7 0 4.6-1.8-5.2-1.7-1.8-1.7 .5-1.8 7-1.7-7.6-1.8-2.2-1.7 .1-1.7-3.5-1.8-1.5-1.7-3.8-1.7 1.4-1.8 1.3-1.7-1.8-1.8-1-1.7 .8-1.7 1.5-1.8 2.5-1.7-1.2-1.7 .9-1.8 .1-1.7 .1-1.7-.4-1.8 1.2-1.7 6-1.8 5.2-1.7 4.8-1.7 2.8-1.8-1.5-1.7 .5-1.7-4.7-1.8-2.3-1.7-4-1.7 4.3z" fill="#1f77b4" fill-opacity=".34"/>
<path d="M99.8 465.5l1.7-3.1 1.7 4.2 1.8 2.1 1.7-3.7 1.7 2 1.8 3 1.7-1 1.7-1.5 1.8 1 1.7-2.5 1.8-.8 1.7 .3 1.7 2.8 1.8-.1 1.7 .5 1.7 .5 1.8-1 1.7-1 1.7-1.6 1.8 1.1 1.7 2.6 1.8-.8 1.7-1.6 1.7 4.1 1.8 1.1 1.7 3.9 1.7-.7 1.8 2.3 1.7 7.7 1.8-6.7 1.7-1 1.7 2.4 1.8 5.2" stroke="#1f77b4" stroke-width="1.05" fill="none" stroke-linejoin="round"/>
<path d="M109.6 459.2l1.7 3.4 1.7-3.3 1.7 1.4 1.7-2.7 1.7-1.7 1.7 .4 1.7 1.4 1.7-4.7 1.7 4.3 1.7-6.2 1.7 .2 1.7-2.1 1.8 2.8 1.7-1.4 1.7 1 1.7 .5 1.7 .3 1.7 3.6 1.7 4.1 1.7 0 1.7-1.4 1.7 3 1.7 7.4 1.7-4.8 0 5.9-1.7 5.1-1.7-6.9-1.7-2.8-1.7 1.6-1.7 .5-1.7-3.6-1.7-3.1-1.7-1.8-1.7 1.2-1.7 .8-1.7 .3-1.8 .5-1.7 .5-1.7 2-1.7 5.5-1.7-2.7-1.7 2.2-1.7 3.1-1.7-.7-1.7 2.7-1.7 3.8-1.7 .3-1.7 5.5-1.7-.7z" fill="#ff7f0e" fill-opacity=".3"/>
<path d="M109.6 472l1.7 .6 1.7-2 1.7-.3 1.7-4.3 1.7-2.4 1.7 1.3 1.7-.9 1.7-2.5 1.7 1.8 1.7-4.9 1.7-1.4 1.7-1 1.8 1.3 1.7-1.2 1.7 .7 1.7-.6 1.7 .4 1.7 3.7 1.7 3.9 1.7-.1 1.7-1.1 1.7 2.9 1.7 7.1 1.7-5.3" stroke="#ff7f0e" stroke-width="1.05" fill="none" stroke-linejoin="round"/>
</g>
<path d="M93.1 434.8l6.7 0 10.9-4.3 8.7-3.3 13.2-.4 13.1 .4 11.6 7.6 .2 0" stroke="#1f77b4" stroke-width=".65" fill="none"/>
<use href="#o11" y="0"/>
<text x="96.4" y="500.6" class="st">KSL.HN, &#160;77 events</text>
<use href="#g12" y="0"/>
<clipPath id="k22"><rect x="165.2" y="437" width="64.3" height="67.6"/></clipPath><g clip-path="url(#k22)">
<path d="M178.3 461.5l1.8-5.3 1.7-1.8 1.8-1.4 1.7 6.2 1.8-3.1 1.7 .3 1.8 3.9 1.7 2.9 1.8-6.4 1.7 1 1.8 4 1.7-3.1 1.8 1.2 1.7 1.5 1.8 .2 1.7 2.4 1.8 2.9 1.7-.1 1.8 1.9 1.7 .5 1.8 1.7 1.7-.4 1.8 .1 1.7-1 1.8-2.6 1.7 4.5 1.8 4.1 1.7 3.2 1.8-5.2 0 4.9-1.8 5.4-1.7-2.7-1.8-4.3-1.7-4.8-1.8 2.8-1.7 .8-1.8 .7-1.7 1.2-1.8-2.2-1.7 .7-1.8-1.6-1.7 .4-1.8-2.1-1.7-.9-1.8-.1-1.7 .1-1.8-1.3-1.7 1.6-1.8-.8-1.7 1.1-1.8 5.7-1.7 1.4-1.8-2.6-1.7-2.6-1.8 3.9-1.7-2.8-1.8-2.1-1.7 7.9-1.8 .9z" fill="#1f77b4" fill-opacity=".34"/>
<path d="M178.3 472l1.8-3.3 1.7-5.1 1.8 .6 1.7 5.1 1.8-4.7 1.7 2.1 1.8 3.1 1.7 .7 1.8-5.1 1.7-1.3 1.8 3.1 1.7-2.2 1.8 .7 1.7 1.6 1.8-.2 1.7 1.1 1.8 2.8 1.7-.5 1.8 1.7 1.7 .4 1.8 1.9 1.7-.8 1.8-.5 1.7-1.1 1.8-2.7 1.7 4.9 1.8 4.1 1.7 2.6 1.8-4.6" stroke="#1f77b4" stroke-width="1.05" fill="none" stroke-linejoin="round"/>
<path d="M180.5 463.8l1.7-8.2 1.8-.9 1.8-1.2 1.7-1.3 1.7-.6 1.8 2.5 1.8-3.6 1.7-4.1 1.7 2.2 1.8 6.9 1.8-3.9 1.7 .4 1.7 2.8 1.8 3.1 1.8 2 1.7-3.1 1.7-1.3 1.8 1.1 1.8 .4 1.7 3.2 1.7 1.1 1.8-3.1 1.8-1.4 1.7 2.1 0 6.1-1.7-1.5-1.8 1.8-1.8 3.5-1.7-.6-1.7-4.5-1.8 1.1-1.8-.7-1.7 1.9-1.7 1.8-1.8-1.2-1.8-1.8-1.7 1.1-1.7 1-1.8 4.4-1.8-7-1.7 1.2-1.7 3.3-1.8 2-1.8-.7-1.7 4.8-1.7-1.3-1.8 3.7-1.8 1.8-1.7 7.2z" fill="#ff7f0e" fill-opacity=".3"/>
<path d="M180.5 473.1l1.7-7.2 1.8-1.1 1.8-.2 1.7-.3 1.7-4 1.8 1.7 1.8-1 1.7-4.7 1.7-.3 1.8 7.2 1.8-3.7 1.7-.3 1.7 .8 1.8 2 1.8 2 1.7-2.9 1.7-1.3 1.8 1 1.8-.5 1.7 3.9 1.7 1 1.8-3.1 1.8-1.6 1.7 1.7" stroke="#ff7f0e" stroke-width="1.05" fill="none" stroke-linejoin="round"/>
</g>
<path d="M165.2 434.8l15.3 0 4.4-1.5 6.5-6.1 28.5-.4 9.4 4.8 .2 0" stroke="#1f77b4" stroke-width=".65" fill="none"/>
<use href="#o12" y="0"/>
<text x="168.5" y="500.6" class="st">KSTE.HN, &#160;34 events</text>
<use href="#g13" y="0"/>
<clipPath id="k23"><rect x="236.6" y="437" width="65.1" height="67.6"/></clipPath><g clip-path="url(#k23)">
<path d="M245.9 454.1l1.8-10.3 1.7 6 1.7 2.4 1.7-3 1.8 .9 1.7 8.5 1.7 2.5 1.7-2.7 1.7-.6 1.8 2.9 1.7-.9 1.7 1.6 1.7-1.7 1.8-2 1.7-2.3 1.7-.4 1.7 1.1 1.7 .2 1.8 3.3 1.7-1.7 1.7 2.7 1.7 .2 1.8 .1 1.7 3.2 1.7 .8 1.7-2.7 1.7 .6 1.8 2.9 1.7-.9 1.7 3.9 1.7 2.3 1.8 2.8 0 5.4-1.8-3-1.7-2.1-1.7-3.2-1.7 .6-1.8-3.5-1.7-.3-1.7 3.7-1.7-1.5-1.7-2.7-1.8-.3-1.7-.9-1.7-1.8-1.7 2.4-1.8-2.5-1.7-.1-1.7 .1-1.7 .6-1.7 3.9-1.8 1.8-1.7 2.4-1.7-1.2-1.7 3.1-1.8 2.2-1.7 1.9-1.7 7.3-1.7-.5-1.7-6.1-1.8 1.7-1.7 2.6-1.7-.7-1.7-5.8-1.8 15.3z" fill="#1f77b4" fill-opacity=".34"/>
<path d="M245.9 474.2l1.8-11.1 1.7 .4 1.7 1.9 1.7 2 1.8-.8 1.7 5.1 1.7-.1 1.7-3.6 1.7-1.3 1.8 .7 1.7-1.1 1.7-.1 1.7-.9 1.8-2.3 1.7-2.9 1.7 0 1.7 0 1.7 .2 1.8 2.9 1.7-2.3 1.7 2.4 1.7 .9 1.8-.4 1.7 2.9 1.7 1.6 1.7-3.1 1.7 .5 1.8 2.5 1.7-.3 1.7 3.1 1.7 2.8 1.8 2.6" stroke="#1f77b4" stroke-width="1.05" fill="none" stroke-linejoin="round"/>
<path d="M252.5 457.5l1.7 5.6 1.8-1.7 1.8-5.1 1.7-1.4 1.7-1 1.8 1.3 1.8 .4 1.7-2 1.7-2.6 1.8-4.1 1.8-1.3 1.7 .6 1.7 2 1.8-1.4 1.8 .3 1.7 3.6 1.7-3.2 1.8 3.4 1.8 .6 1.7-1.7 1.7 3.6 1.8 1.7 1.8 .3 1.7 .3 0 5.6-1.7 .5-1.8-.8-1.8 0-1.7-3.2-1.7 1.3-1.8-.7-1.8-3.3-1.7 4.4-1.7-2.5-1.8 0-1.8 .7-1.7 .3-1.7 .1-1.8 2.6-1.8 3.2-1.7 3.2-1.7 1.7-1.8 4.6-1.8-5.1-1.7 4.7-1.7 2.7-1.8 4-1.8 .6-1.7-3.1z" fill="#ff7f0e" fill-opacity=".3"/>
<path d="M252.5 466.6l1.7 4.2 1.8-.5 1.8-4.6 1.7-1.8 1.7-2.6 1.8 2.9 1.8-2.1 1.7-1.7 1.7-2.3 1.8-3.9 1.8-1.9 1.7 0 1.7 1.1 1.8-1.8 1.8 .5 1.7 2.4 1.7-2.9 1.8 2.8 1.8 1.1 1.7-1.7 1.7 3.1 1.8 .9 1.8 1.1 1.7 0" stroke="#ff7f0e" stroke-width="1.05" fill="none" stroke-linejoin="round"/>
</g>
<path d="M236.6 434.8l7.2 0 8.7-2.1 10.9-3.3 15.4-2.6 13.1 0 9.4 7 .4 0" stroke="#1f77b4" stroke-width=".65" fill="none"/>
<use href="#o13" y="0"/>
<text x="239.9" y="500.6" class="st">KTHA.HN, &#160;76 events</text>
<text transform="translate(315.1 431.1) rotate(-90)" class="vl" text-anchor="middle">Valid (#)</text>
<use href="#g10" y="80.5"/>
<clipPath id="k24"><rect x="21.2" y="517.6" width="64.3" height="67.6"/></clipPath><g clip-path="url(#k24)">
<path d="M31 531.6l1.8 7.6 1.7-2.2 1.8 7.5 1.7 3.5 1.7-5.1 1.8-1.4 1.7-3.6 1.8 2.7 1.7 1.5 1.8 .3 1.7 1 1.7 1.6 1.8 .3 1.7 2.7 1.8-2.8 1.7-2.5 1.8 3.3 1.7-.1 1.7-3.1 1.8 4.2 1.7-3.2 1.8 2 1.7-1.7 1.8-3.9 1.7 4.9 1.7-2.4 1.8 3.9 1.7 4.6 1.8 2.5 1.7 8.1 1.8-7.6 0 4.9-1.8 7.4-1.7-7.6-1.8-2.5-1.7-3.8-1.8-3.5-1.7 1.1-1.7-4-1.8 5.1-1.7-.1-1.8-1.2-1.7 3.6-1.8-3.4-1.7 4.7-1.7 .7-1.8-3.9-1.7 4.2-1.8 2.7-1.7-1.8-1.8-.4-1.7 1.7-1.7-1-1.8 2.5-1.7-2.9-1.8 4.2-1.7 2.3-1.8 3.6-1.7 .9-1.7-3.5-1.8-6.9-1.7 .1-1.8-6.5z" fill="#1f77b4" fill-opacity=".34"/>
<path d="M31 542.1l1.8 5.4 1.7 1.4 1.8 5.4 1.7 4.2 1.7-3.5 1.8-2.9 1.7-2 1.8-1.4 1.7 .8 1.8 .5 1.7 .4 1.7 1 1.8 .1 1.7 1.1 1.8-1.6 1.7-4.4 1.8 4.1 1.7-.2 1.7-3.6 1.8 2.9 1.7-2.6 1.8 1.3 1.7-.8 1.8-4.6 1.7 4.4 1.7-1.6 1.8 3.6 1.7 4.6 1.8 2.4 1.7 8 1.8-8.2" stroke="#1f77b4" stroke-width="1.05" fill="none" stroke-linejoin="round"/>
<path d="M37.6 552.9l1.7-4.3 1.7-5.4 1.7-5.3 1.7-6.6 1.7 1.6 1.7 4.2 1.7 1.5 1.7 .9 1.7-2.3 1.7-5.1 1.7-2.4 1.7-.1 1.8 1.9 1.7 3.5 1.7 .3 1.7-1.3 1.7-4.4 1.7-1.6 1.7 3.4 1.7 .9 1.7-2.6 1.7 2.6 1.7-2.6 1.7 10.2 0 5.9-1.7-9.5-1.7 3.1-1.7-2.4-1.7 2.4-1.7 .4-1.7-3.5-1.7 1.6-1.7 4.9-1.7 1.5-1.7 1.7-1.7-3.4-1.8-1-1.7 2.1-1.7 2.3-1.7 4.8-1.7 4.6-1.7 1.7-1.7-2.5-1.7-3.4-1.7 3.6-1.7 3.2-1.7 5.3-1.7 8.1-1.7 2z" fill="#ff7f0e" fill-opacity=".3"/>
<path d="M37.6 562.9l1.7-3.9 1.7-4.6 1.7-4.7 1.7-6.4 1.7-2.4 1.7 6 1.7 .1 1.7-.1 1.7-3.6 1.7-4.6 1.7-1.5 1.7-.9 1.8 1.1 1.7 3.4 1.7-.6 1.7-2.1 1.7-4.1 1.7-1.6 1.7 3.4 1.7 .5 1.7-2.8 1.7 2.2 1.7-2.6 1.7 10.1" stroke="#ff7f0e" stroke-width="1.05" fill="none" stroke-linejoin="round"/>
</g>
<path d="M21.2 515.8l4.4 0 13.1-2.1 10.9-4.4 8.8-1.5 17.5 .4 9.4 6.6 .3 0" stroke="#1f77b4" stroke-width=".65" fill="none"/>
<use href="#o10" y="80.5"/>
<text x="24.6" y="581.1" class="st">KVLA.HN, &#160;58 events</text>
<text x="19.1" y="547.2" class="tk" text-anchor="end">2.0</text>
<text x="19.1" y="559.3" class="tk" text-anchor="end">1.0</text>
<text x="19.1" y="571.3" class="tk" text-anchor="end">0.5</text>
<text transform="translate(10.7 552.2) rotate(-90)" class="yl" text-anchor="middle">HVSR</text>
<text transform="translate(9.1 511.6) rotate(-90)" class="vl" text-anchor="middle">Valid (%)</text>
<use href="#g11" y="80.5"/>
<clipPath id="k25"><rect x="93.1" y="517.6" width="64.4" height="67.6"/></clipPath><g clip-path="url(#k25)">
<path d="M99.8 518.3l1.7 5 1.7 10.9 1.8 1.8 1.7 2 1.7 4.7 1.8-1.6 1.7 4.6 1.7-4.5 1.8 .5 1.7 1.6 1.8 .4 1.7-3.2 1.7 .3 1.8 1.4 1.7 2.5 1.7 0 1.8-2 1.7-1.5 1.7-.3 1.8 .1 1.7-1 1.8 .7 1.7 .1 1.7 .4 1.8 1.8 1.7-.5 1.7-1.6 1.8-2 1.7 7.5 1.8 2.7 1.7 4.1 1.7 .5 1.8-3.5 0 5.7-1.8 2.7-1.7-.2-1.7-4-1.8-2.1-1.7-7-1.8 1.7-1.7 1.4-1.7 .8-1.8-2-1.7 .8-1.7-.5-1.8 .3-1.7 .6-1.8 1.1-1.7 .9-1.7 1.3-1.8 4-1.7 2.8-1.7-1.9-1.8 1.5-1.7 3.5-1.7 1-1.8-1.3-1.7 4.2-1.8 .3-1.7 3.8-1.7-1.9-1.8-.5-1.7 .2-1.7-5.8-1.8-3.4-1.7-9.8-1.7-8.4z" fill="#1f77b4" fill-opacity=".34"/>
<path d="M99.8 529l1.7 7.7 1.7 7.8 1.8 5.8 1.7 1.6 1.7 3.5 1.8-1.7 1.7 3 1.7-1.7 1.8-2.6 1.7-.3 1.8-.2 1.7-.9 1.7-1.9 1.8 .8 1.7 1.7 1.7-1.6 1.8-2.9 1.7-1 1.7-1.6 1.8 .5 1.7-.5 1.8-.9 1.7 .8 1.7-.3 1.8 2 1.7-1.2 1.7-.8 1.8-2 1.7 7.3 1.8 2.5 1.7 3.7 1.7 .3 1.8-2.9" stroke="#1f77b4" stroke-width="1.05" fill="none" stroke-linejoin="round"/>
<path d="M109.6 545.4l1.7 2.8 1.7-1.8 1.7-.9 1.7-.1 1.7-1.6 1.7-2.4 1.7 .6 1.7-1.5 1.7-5.3 1.7 1.7 1.7-2.6 1.7-1.3 1.8-.1 1.7 1.3 1.7-.8 1.7-1.3 1.7-3.3 1.7 2.1 1.7-2 1.7 1.5 1.7 .7 1.7-1.6 1.7-2.6 1.7 8.4 0 6.3-1.7-7.4-1.7 2.6-1.7 2-1.7-.8-1.7-1.3-1.7 2.8-1.7-2.7-1.7 3-1.7 3-1.7 .2-1.7-1.5-1.8 1.3-1.7 2.9-1.7 1.4-1.7 1.2-1.7 6.2-1.7-.1-1.7 2.4-1.7 1.3-1.7 4.2-1.7 .4-1.7 1.9-1.7 3.3-1.7-1.9z" fill="#ff7f0e" fill-opacity=".3"/>
<path d="M109.6 555.2l1.7 2.5 1.7-1.5 1.7-1.7 1.7-1.5 1.7-2.5 1.7-1.9 1.7-.4 1.7-1.2 1.7-4.7 1.7-.2 1.7-3 1.7-1.5 1.8-.2 1.7 1.3 1.7-.4 1.7-2.8 1.7-2.9 1.7 2.6 1.7-2.7 1.7 2.3 1.7-.4 1.7-1.1 1.7-3.2 1.7 8.7" stroke="#ff7f0e" stroke-width="1.05" fill="none" stroke-linejoin="round"/>
</g>
<path d="M93.1 515.8l4.5 0 10.9-3.2 10.9-4.4 11-.4 15.3 0 11.6 7 .2 0" stroke="#1f77b4" stroke-width=".65" fill="none"/>
<use href="#o11" y="80.5"/>
<text x="96.4" y="581.1" class="st">KYMI.HN, &#160;99 events</text>
<use href="#g12" y="80.5"/>
<clipPath id="k26"><rect x="165.2" y="517.6" width="64.3" height="67.6"/></clipPath><g clip-path="url(#k26)">
<path d="M171.8 534l1.7-5.2 1.7 1.1 1.8 2 1.7 4.6 1.7 .2 1.8 3.2 1.7-4.6 1.7 2 1.8 1.6 1.7 3.9 1.8 1.5 1.7 1.4 1.7-1.6 1.8-2.4 1.7-1.5 1.7 .2 1.8-4.2 1.7 1.2 1.7 1.1 1.8-2 1.7 1.8 1.8-.1 1.7-2.6 1.7 3.6 1.8-1.1 1.7 .7 1.7 6.1 1.8 2.9 1.7 .6 1.8 .1 1.7-2.6 1.7-.1 1.8 7.9 0 5.1-1.8-7.6-1.7-.7-1.7 2.5-1.8 .9-1.7 .4-1.8-2.9-1.7-6.3-1.7-1.3-1.8 .8-1.7-3.5-1.7 3.7-1.8-.8-1.7-.2-1.8 3-1.7-1.6-1.7 2.3-1.8 4.7-1.7 .3-1.7 2.7-1.8 2.7-1.7 4.8-1.7 3-1.8 1.2-1.7 2.1-1.8 .2-1.7 2.3-1.7 .1-1.8 2.3-1.7 2-1.7-2.4-1.8-1-1.7 .1-1.7 4.5z" fill="#1f77b4" fill-opacity=".34"/>
<path d="M171.8 551.9l1.7-1.2 1.7 1.3 1.8 1.4 1.7 .9 1.7 1.4 1.8 .4 1.7-2.8 1.7-.4 1.8 0 1.7 2.2 1.8-1.6 1.7-.2 1.7-3.2 1.8-2.2 1.7-1.2 1.7-1.1 1.8-3.6 1.7-.9 1.7 1.9 1.8-2.8 1.7 .8 1.8 .1 1.7-2.9 1.7 3.8 1.8-.8 1.7 .6 1.7 6.3 1.8 2.9 1.7 0 1.8-.2 1.7-2.5 1.7 .1 1.8 7.9" stroke="#1f77b4" stroke-width="1.05" fill="none" stroke-linejoin="round"/>
<path d="M181.6 546.6l1.7 3.5 1.8-.9 1.7 .4 1.7-3.4 1.8-2.6 1.7-1.6 1.7-.9 1.7-1.8 1.8-.8 1.7-5.1 1.7 1.7 1.8-4.8 1.7 1.8 1.7 .1 1.8-3.7 1.7 2.2 1.7-1.8 1.8-1.8 1.7 2.5 1.7 3.3 1.8-1.6 1.7 1.3 1.7 5.9 1.8-1.2 0 5.3-1.8 1.3-1.7-4.3-1.7-2.3-1.8 3.2-1.7-3.2-1.7-3.6-1.8 2.1-1.7 3.4-1.7-2-1.8 4.7-1.7-.3-1.7 .7-1.8 2.9-1.7 .5-1.7 3.5-1.8 2.4-1.7 2.5-1.7 4.5-1.7 .8-1.8 3.7-1.7 1.8-1.7 1.1-1.8 1.8-1.7-.5z" fill="#ff7f0e" fill-opacity=".3"/>
<path d="M181.6 556.3l1.7 1.6 1.8-.4 1.7-.4 1.7-2.7 1.8-2.6 1.7-.9 1.7-3.2 1.7-2.8 1.8-1.1 1.7-3.3 1.7 .1 1.8-4.1 1.7 0 1.7 .6 1.8-4.5 1.7 2.6 1.7-2.9 1.8-1.9 1.7 3.3 1.7 3.3 1.8-2.7 1.7 1.8 1.7 5.3 1.8-1.5" stroke="#ff7f0e" stroke-width="1.05" fill="none" stroke-linejoin="round"/>
</g>
<path d="M165.2 515.8l4.4 0 10.9-3.2 6.6-4.4 32.8-.4 9.4 7.4 .2 0" stroke="#1f77b4" stroke-width=".65" fill="none"/>
<use href="#o12" y="80.5"/>
<text x="168.5" y="581.1" class="st">KZN.HN, 126 events</text>
<use href="#g13" y="80.5"/>
<clipPath id="k27"><rect x="236.6" y="517.6" width="65.1" height="67.6"/></clipPath><g clip-path="url(#k27)">
<path d="M243.8 533.2l1.7-1.3 1.7-4.6 1.8-.1 1.7 4.8 1.7 3 1.8-1.2 1.7 4.6 1.7-.9 1.8-.3 1.7 2.6 1.8-.4 1.7 2.5 1.7 2 1.8 .5 1.7 .5 1.7-2.8 1.8 2.7 1.7 .5 1.7-2.8 1.8 2 1.7-1.2 1.8-1.4 1.7 2.8 1.7-4.9 1.8 5.5 1.7 1.9 1.7-2 1.8 1.4 1.7 3.9 1.8 3.8 1.7-4.5 1.7-13.2 1.8 11.9 0 4.4-1.8-11.3-1.7 13.3-1.7 4.6-1.8-3.4-1.7-3.8-1.8-.9-1.7 1.9-1.7-3-1.8-4.5-1.7 5.4-1.7-2.4-1.8 .2-1.7 1.6-1.8-.3-1.7 3.6-1.7-.6-1.8-1.4-1.7 3.4-1.7-.9-1.8 .2-1.7-.3-1.7 1.8-1.8 2.6-1.7 1.3-1.8 1.9-1.7 4.6-1.7 1.1-1.8-3.9-1.7-4.9-1.7-2.1-1.8-3.2-1.7 3.3-1.7-1.3z" fill="#1f77b4" fill-opacity=".34"/>
<path d="M243.8 545.4l1.7-.7 1.7-2.9 1.8 .1 1.7 4.5 1.7 1.8 1.8 3.6 1.7-.2 1.7-2.1 1.8-.7 1.7 1.7 1.8-3.2 1.7 .1 1.7 1.7 1.8 .7 1.7-.5 1.7-2.9 1.8 3 1.7-.2 1.7-3.1 1.8 1.7 1.7-1.8 1.8-.9 1.7 3.1 1.7-5.2 1.8 4.7 1.7 2.1 1.7-1.3 1.8 1.1 1.7 3.3 1.8 4 1.7-4.1 1.7-13.3 1.8 11.3" stroke="#1f77b4" stroke-width="1.05" fill="none" stroke-linejoin="round"/>
<path d="M253.6 547.9l1.7 2.1 1.7-1.1 1.7-4 1.7-4 1.7 .6 1.7-7.7 1.7 1.4 1.7 11.2 1.7-3.6 1.7-2.7 1.7-5.4 1.7 .4 1.8 2.4 1.7-1.2 1.7-4.8 1.7 1.7 1.7 1.4 1.7 .5 1.7-3.6 1.7 0 1.7 2.9 1.7 2.8 1.7-2.4 1.7 3.3 0 5.5-1.7-2.2-1.7 2.5-1.7-2.8-1.7-3.4-1.7 2.2-1.7 2.8-1.7-.3-1.7 .4-1.7-2.8-1.7 5.2-1.7 2.9-1.8-2-1.7 .3-1.7 8-1.7 3.4-1.7 4.8-1.7-8-1.7-1.5-1.7 5.9-1.7 .4-1.7 3.7-1.7 4.6-1.7 1.8-1.7-4.7z" fill="#ff7f0e" fill-opacity=".3"/>
<path d="M253.6 556.3l1.7 3 1.7-.2 1.7-3.9 1.7-4.9 1.7 0 1.7-8.3 1.7 2.9 1.7 8.2 1.7-3.7 1.7-.8 1.7-7.6 1.7-.1 1.8 1.9 1.7-2.1 1.7-4.2 1.7 1.7 1.7 .3 1.7 .3 1.7-2.9 1.7-1.3 1.7 3.3 1.7 2.2 1.7-2.1 1.7 3" stroke="#ff7f0e" stroke-width="1.05" fill="none" stroke-linejoin="round"/>
</g>
<path d="M236.6 515.8l5 0 10.9-2.1 10.9-5.5 28.5-.4 9.4 5.9 .4 0" stroke="#1f77b4" stroke-width=".65" fill="none"/>
<use href="#o13" y="80.5"/>
<text x="239.9" y="581.1" class="st">LIA.HN, 112 events</text>
<text transform="translate(315.1 511.6) rotate(-90)" class="vl" text-anchor="middle">Valid (#)</text>
<use href="#g10" y="161.1"/>
<clipPath id="k28"><rect x="21.2" y="598.1" width="64.3" height="67.6"/></clipPath><g clip-path="url(#k28)">
<path d="M31 614l1.8-3.5 1.7 1.7 1.8-.1 1.7 5.4 1.7-.4 1.8-1.1 1.7-1.3 1.8 5.7 1.7 1.3 1.8 2.4 1.7 .3 1.7 2.6 1.8-4.5 1.7 1.1 1.8 1.1 1.7-2.7 1.8 .7 1.7-.2 1.7-1.3 1.8 1.4 1.7-4.3 1.8-5.8 1.7 1.2 1.8 5.1 1.7 4.6 1.7-3.3 1.8-2 1.7 3.7 1.8 5.7 1.7 5.4 1.8 9.3 0 5-1.8-8.9-1.7-4.8-1.8-5.7-1.7-2.8-1.8 1.3-1.7 4.3-1.7-4.1-1.8-4.7-1.7-2.5-1.8 6.6-1.7 3.5-1.8-.7-1.7 3.5-1.7-1-1.8 2.9-1.7 1.5-1.8-1.1-1.7 .6-1.8 3.8-1.7 2.2-1.7 2.3-1.8-3.5-1.7 .6-1.8 .8-1.7 4.1-1.8 1-1.7-1.9-1.7 2.1-1.8 1.4-1.7-2.2-1.8 1.3z" fill="#1f77b4" fill-opacity=".34"/>
<path d="M31 630.8l1.8-2.5 1.7 .7 1.8 1 1.7 1.7 1.7 0 1.8 .6 1.7-3 1.8 .4 1.7 .9 1.8 2.9 1.7-1 1.7 .3 1.8-3.2 1.7-.4 1.8 .3 1.7-1.6 1.8-1.2 1.7 .9 1.7-2.9 1.8 1.2 1.7-3.5 1.8-6.1 1.7 1.5 1.8 4.5 1.7 4.9 1.7-4.5 1.8-1.1 1.7 3.1 1.8 5.6 1.7 5.5 1.8 9.3" stroke="#1f77b4" stroke-width="1.05" fill="none" stroke-linejoin="round"/>
<path d="M37.6 622.2l1.7 .6 1.7-.4 1.7-.3 1.7-3.3 1.7-.3 1.7-3.9 1.7 .8 1.7-.6 1.7-.5 1.7-.3 1.7-1.1 1.7-.9 1.8-.7 1.7-4.3 1.7 .3 1.7-1.6 1.7-2.2 1.7-5.4 1.7 3.9 1.7 7.5 1.7 4.9 1.7-.3 1.7-4 1.7 2.3 0 6.3-1.7-1.6-1.7 4.1-1.7 1.6-1.7-4.6-1.7-7.8-1.7-2-1.7 6.5-1.7 1.7-1.7 2.5-1.7-.1-1.7 4-1.8 3-1.7 3.1-1.7 2.1-1.7-.3-1.7 .8-1.7 1.2-1.7-.1-1.7 4.2-1.7 1.5-1.7 5.3-1.7 1.6-1.7 .9-1.7 2.2z" fill="#ff7f0e" fill-opacity=".3"/>
<path d="M37.6 635.2l1.7 .6 1.7-1.8 1.7-.6 1.7-5 1.7-.2 1.7-3.1 1.7-.2 1.7-2.6 1.7-.4 1.7 .7 1.7-2.1 1.7-1.4 1.8-1.8 1.7-3.3 1.7-1.9 1.7-1.2 1.7-1.7 1.7-5.5 1.7 2.7 1.7 6.8 1.7 5.6 1.7-1.4 1.7-4.2 1.7 2.3" stroke="#ff7f0e" stroke-width="1.05" fill="none" stroke-linejoin="round"/>
</g>
<path d="M21.2 595.8l6.6 0 10.9-3.2 8.7-4.4 28.5-.4 9.4 7 .3 0" stroke="#1f77b4" stroke-width=".65" fill="none"/>
<use href="#o10" y="161.1"/>
<text x="24.6" y="661.7" class="st">LKR.HN, 121 events</text>
<text x="19.1" y="627.8" class="tk" text-anchor="end">2.0</text>
<text x="19.1" y="639.8" class="tk" text-anchor="end">1.0</text>
<text x="19.1" y="651.8" class="tk" text-anchor="end">0.5</text>
<text transform="translate(10.7 632.7) rotate(-90)" class="yl" text-anchor="middle">HVSR</text>
<text transform="translate(9.1 592.2) rotate(-90)" class="vl" text-anchor="middle">Valid (%)</text>
<use href="#g11" y="161.1"/>
<clipPath id="k29"><rect x="93.1" y="598.1" width="64.4" height="67.6"/></clipPath><g clip-path="url(#k29)">
<path d="M107.4 615.1l1.7 .8 1.7 5.2 1.7-.5 1.8 3.8 1.7 1.6 1.7 .2 1.7 .1 1.7 1.8 1.7-.7 1.7 1.8 1.7-.3 1.8-3.6 1.7 .4 1.7-2.8 1.7-.7 1.7 .6 1.7 1 1.7-2.1 1.7 2.1 1.8-2 1.7 .9 1.7 .6 1.7-2.4 1.7 2.8 1.7 .9 1.7 1.1 1.7 1.3 1.8 4.5 1.7 5.3 0 4.9-1.7-5.1-1.8-4-1.7-1.4-1.7-1.5-1.7-.6-1.7-3.1-1.7 3.2-1.7 .3-1.7-1.5-1.8 3.2-1.7-1.9-1.7 2.4-1.7-.3-1.7 .8-1.7 .8-1.7 4.5-1.7-.6-1.8 2-1.7 3.5-1.7 .2-1.7 .1-1.7 2.3-1.7 1.2-1.7-2.6-1.7 0-1.8 .8-1.7-2.4-1.7 2.8-1.7-5.2z" fill="#1f77b4" fill-opacity=".34"/>
<path d="M107.4 627.6l1.7 2.7 1.7 1 1.7 1.2 1.8 2 1.7-.3 1.7 2 1.7-.7 1.7-.3 1.7 .5 1.7-.4 1.7-1.2 1.8-2.6 1.7-.2 1.7-2.7 1.7-1 1.7-.7 1.7 1 1.7-2.5 1.7 1.9 1.8-2.1 1.7 1.2 1.7 .1 1.7-3 1.7 2.8 1.7 .7 1.7 1.6 1.7 1.2 1.8 3.9 1.7 5.9" stroke="#1f77b4" stroke-width="1.05" fill="none" stroke-linejoin="round"/>
<path d="M109.6 630.7l1.7-4.5 1.7 1 1.7-4.1 1.7-5.8 1.7 6.8 1.7-3 1.7-2.8 1.7-.3 1.7-.4 1.7-1.2 1.7-1.7 1.7-.6 1.8 2.9 1.7 .5 1.7-3.5 1.7 1.5 1.7-.9 1.7-1.6 1.7-.4 1.7 1.3 1.7-1.2 1.7-4.3 1.7 5.7 1.7 1.1 0 6.7-1.7-.1-1.7-5-1.7 5-1.7 2-1.7-2.8-1.7 2.3-1.7 2.5-1.7 1.7-1.7-3-1.7 3.9-1.7 .5-1.8 1.1-1.7 1.5-1.7 1.8-1.7 .6-1.7 3.5-1.7-.9-1.7 1-1.7 5.4-1.7-1.6-1.7 3.7-1.7 7.5-1.7 .9-1.7 4z" fill="#ff7f0e" fill-opacity=".3"/>
<path d="M109.6 641.8l1.7-3.7 1.7 .4 1.7-3.3 1.7-5.1 1.7 2.9 1.7-4.1 1.7-.2 1.7-.6 1.7-2.8 1.7-.7 1.7-1.3 1.7-1 1.8 .9 1.7-.6 1.7-3.1 1.7 1.5 1.7-.8 1.7-2 1.7-1.5 1.7 2.1 1.7-1.3 1.7-4.5 1.7 5.4 1.7 .4" stroke="#ff7f0e" stroke-width="1.05" fill="none" stroke-linejoin="round"/>
</g>
<path d="M93.1 595.8l13.2 0 8.8-3.2 8.7-4.4 26.3-.4 7.2 1.5 .2 0" stroke="#1f77b4" stroke-width=".65" fill="none"/>
<use href="#o11" y="161.1"/>
<text x="96.4" y="661.7" class="st">MGNA.HN, &#160;75 events</text>
<use href="#g12" y="161.1"/>
<clipPath id="k30"><rect x="165.2" y="598.1" width="64.3" height="67.6"/></clipPath><g clip-path="url(#k30)">
<path d="M165.2 623.8l1.7-3.8 1.7-.6 1.8-6.3 1.7 1.8 1.7-3.8 1.7-3.2 1.8 3.7 1.7 8.7 1.7 .9 1.8-1.9 1.7-1.5 1.7 .9 1.7 .6 1.8 .2 1.7 .6 1.7 .1 1.7 2.2 1.8-1.7 1.7 3.6 1.7 1.9 1.7-2.4 1.8-2.3 1.7 .8 1.7 .4 1.7 1.7 1.8-.4 1.7 .4 1.7-2.7 1.8 3.1 1.7-3.4 1.7-2.5 1.7 2.7 1.8 1.7 1.7-5.9 1.7 1.9 1.7 1.2 1.8 1 0 8.9-1.8-2.3-1.7-.2-1.7-2.8-1.7 5.3-1.8-1.9-1.7-2-1.7 1.8-1.7 3.2-1.8-3.8-1.7 2.9-1.7 .7-1.8-1-1.7-.8-1.7 1-1.7-1.5-1.8 2.8-1.7 2.1-1.7 .3-1.7-5.3-1.8 3.5-1.7 0-1.7-1-1.7 3.4-1.8 .8-1.7 2.1-1.7-.1-1.7 5.1-1.8 2.3-1.7 2.4-1.7 3.3-1.8 0-1.7 2.1-1.7-1.8-1.7-5-1.8-.4-1.7-3-1.7-.5z" fill="#1f77b4" fill-opacity=".34"/>
<path d="M165.2 634.1l1.7-1.4 1.7 .5 1.8-1.2 1.7-1.4 1.7 1.9 1.7-2.8 1.8 1.8 1.7 2.2 1.7-1.3 1.8-2 1.7-1.4 1.7 .2 1.7-2.1 1.8-1.1 1.7 .1 1.7 .6 1.7 .1 1.8-1.5 1.7 4 1.7 .3 1.7-2.3 1.8-1.8 1.7 .6 1.7-.2 1.7 1.3 1.8 .5 1.7-.1 1.7-2.8 1.8 3.5 1.7-3.8 1.7-1.4 1.7 1.6 1.8 2.5 1.7-6.4 1.7 2.6 1.7 .7 1.8 2.4" stroke="#1f77b4" stroke-width="1.05" fill="none" stroke-linejoin="round"/>
<path d="M181.6 627.6l1.7-1.4 1.7-3.2 1.7-5.9 1.7-2.8 1.7 3.9 1.7-1.5 1.7-1.1 1.7-.2 1.7-4.2 1.7 5.6 1.7-2.6 1.7-5.5 1.8 2.4 1.7 2 1.7-4.7 1.7 3 1.7-2.6 1.7-1.4 1.7 3.3 1.7 .6 1.7-1.6 1.7-.6 1.7-4 1.7 2.1 0 6.7-1.7-2.6-1.7 5.3-1.7-.2-1.7 2.6-1.7 .2-1.7-3.3-1.7 1.2-1.7 2.7-1.7-2-1.7 4.1-1.7-.9-1.8-1.5-1.7 4.5-1.7 5.5-1.7-3.8-1.7 3.6-1.7-.1-1.7 2.6-1.7 0-1.7-1.6-1.7 4.6-1.7 6.7-1.7 2-1.7 5.1z" fill="#ff7f0e" fill-opacity=".3"/>
<path d="M181.6 638.5l1.7-4.6 1.7-1.8 1.7-5.5 1.7-3.2 1.7 1.6 1.7-1.3 1.7-1.1 1.7-.5 1.7-3.6 1.7 3.9 1.7-3.3 1.7-4 1.8 .2 1.7 1.6 1.7-3.3 1.7 1.7 1.7-2 1.7-2 1.7 3.9 1.7-.5 1.7-1.6 1.7-.5 1.7-4.1 1.7 1.6" stroke="#ff7f0e" stroke-width="1.05" fill="none" stroke-linejoin="round"/>
</g>
<path d="M165.2 595.8l0 0 10.9-2.1 11-3.3 10.9-2.6 17.5 0 13.8 7.4 .2 0" stroke="#1f77b4" stroke-width=".65" fill="none"/>
<use href="#o12" y="161.1"/>
<text x="168.5" y="661.7" class="st">MHLO.HN, 204 events</text>
<use href="#g13" y="161.1"/>
<clipPath id="k31"><rect x="236.6" y="598.1" width="65.1" height="67.6"/></clipPath><g clip-path="url(#k31)">
<path d="M247 609.5l1.8 1.9 1.7-1 1.8 6.5 1.7 4.9 1.7 6.1 1.8-.2 1.7-3.5 1.8-1.4 1.7-1.2 1.8 3.2 1.7 .3 1.7-.9 1.8-1.1 1.7 .3 1.8-4.7 1.7-2.1 1.8 2.6 1.7-.5 1.7-2.1 1.8-3.4 1.7 5.6 1.8 4.1 1.7 5.5 1.8 1.1 1.7-1.9 1.7 2.8 1.8 6.7 1.7 .1 1.8-.5 1.7 .5 1.8 9.1 0 4.5-1.8-8.5-1.7-.4-1.8-.1-1.7 1-1.8-6.7-1.7-1.9-1.7 1.3-1.8-.6-1.7-5.6-1.8-4.2-1.7-4.2-1.8 2.6-1.7 3.2-1.7 1.7-1.8-2.7-1.7 3-1.8 4.4-1.7 2.2-1.8 1.5-1.7 1.4-1.7 .4-1.8 2.8-1.7-1-1.8 4-1.7 2.2-1.8 3.2-1.7-3.3-1.7-3.6-1.8 1.5-1.7-1.2-1.8-1.8z" fill="#1f77b4" fill-opacity=".34"/>
<path d="M247 627.6l1.8-1.1 1.7 1.1 1.8 3.9 1.7 2.4 1.7 3.6 1.8-.1 1.7-2.8 1.8-2.1 1.7-.9 1.8-.7 1.7 .6 1.7-1.3 1.8-1.2 1.7-.5 1.8-5.3 1.7-2.1 1.8 3.1 1.7-1 1.7-3.2 1.8-2.9 1.7 5.2 1.8 4.3 1.7 4.8 1.8 1 1.7-1.6 1.7 2.3 1.8 6.9 1.7-.6 1.8-.3 1.7 1 1.8 8.2" stroke="#1f77b4" stroke-width="1.05" fill="none" stroke-linejoin="round"/>
<path d="M253.6 631.2l1.7-7.6 1.7 1.1 1.7-3.9 1.7-2.3 1.7-.4 1.7-4.7 1.7 2.3 1.7-1.2 1.7-1.6 1.7-3.4 1.7-1.8 1.7 2.5 1.8 .5 1.7-2.5 1.7-.5 1.7 .7 1.7-4.5 1.7-2.6 1.7 9.7 1.7 5.2 1.7 3.3 1.7 .3 1.7 7.1 1.7-.9 0 6-1.7 .8-1.7-5.2-1.7 .4-1.7-3-1.7-3.5-1.7-9-1.7 1.7-1.7 4-1.7 1.5-1.7-.1-1.7 3.8-1.8 1-1.7-1.7-1.7 3-1.7 2.6-1.7 4.2-1.7-.8-1.7 2.9-1.7 2.5-1.7 .6-1.7 4.6-1.7 3.3-1.7 2.3-1.7 6z" fill="#ff7f0e" fill-opacity=".3"/>
<path d="M253.6 640.7l1.7-5.2 1.7-.9 1.7-3.1 1.7-3.5 1.7-1.3 1.7-3.2 1.7-.4 1.7-.8 1.7-2 1.7-2.7 1.7-1.7 1.7 2 1.8-1.3 1.7-2.2 1.7-.2 1.7-1.2 1.7-3.9 1.7-2.2 1.7 9.5 1.7 4 1.7 3.3 1.7 .1 1.7 5.9 1.7-1" stroke="#ff7f0e" stroke-width="1.05" fill="none" stroke-linejoin="round"/>
</g>
<path d="M236.6 595.8l7.2 0 10.9-3.2 8.7-4.4 28.5-.4 9.4 7.4 .4 0" stroke="#1f77b4" stroke-width=".65" fill="none"/>
<use href="#o13" y="161.1"/>
<text x="239.9" y="661.7" class="st">NEO.HN, 152 events</text>
<text transform="translate(315.1 592.2) rotate(-90)" class="vl" text-anchor="middle">Valid (#)</text>
<use href="#g10" y="241.6"/>
<clipPath id="k32"><rect x="21.2" y="678.7" width="64.3" height="67.6"/></clipPath><g clip-path="url(#k32)">
<path d="M31 725.8l1.8-17.2 1.7-11.2 1.8-1.4 1.7 8.3 1.7-6.5 1.8-2.5 1.7-.9 1.8-2.5 1.7 2.1 1.8-.4 1.7-1.5 1.7 2.2 1.8 3.2 1.7 10.7 1.8-2.2 1.7 1.5 1.8 .9 1.7-2.1 1.7-4.7 1.8-.8 1.7-4.9 1.8 1 1.7 .8 1.8-2 1.7-2.9 1.7 1.7 1.8 8.6 1.7 10.5 1.8 17.7 1.7 5.6 1.8-7.4 0 4.9-1.8 8.6-1.7-5.7-1.8-17.7-1.7-10.2-1.8-7.2-1.7-2.4-1.7 2.6-1.8 3.4-1.7-.3-1.8 .1-1.7 4.6-1.8 1.6-1.7 5.4-1.7 .6-1.8-.4-1.7-.8-1.8 1.3-1.7-8.4-1.8-4.2-1.7-.7-1.7 1.6-1.8 1-1.7 1.1-1.8 3.1-1.7 1.5-1.8 3.5-1.7 6.1-1.7-8.2-1.8 3.4-1.7 11.8-1.8 14.7z" fill="#1f77b4" fill-opacity=".34"/>
<path d="M31 734.8l1.8-15.6 1.7-12.7 1.8 .3 1.7 6.9 1.7-5.9 1.8-3.3 1.7-.2 1.8-2.6 1.7-1.3 1.8-.1 1.7-2.2 1.7 1.6 1.8 4.2 1.7 9.2 1.8-2.2 1.7 1.8 1.8 .5 1.7-1.3 1.7-4.8 1.8-1.9 1.7-4.3 1.8 .3 1.7 .7 1.8-2.7 1.7-2.4 1.7 1.4 1.8 7.5 1.7 11.4 1.8 17.2 1.7 5.7 1.8-8.5" stroke="#1f77b4" stroke-width="1.05" fill="none" stroke-linejoin="round"/>
<path d="M37.6 705.6l1.7-2.9 1.7-2.3 1.7-4.3 1.7-1.6 1.7 .3 1.7-.8 1.7-1.3 1.7-1.9 1.7 1.1 1.7 6.4 1.7-.2 1.7-1 1.8 1.4 1.7-2 1.7-3.9 1.7-3.9 1.7-.9 1.7 1.4 1.7-5.5 1.7-1.9 1.7 .8 1.7-2.9 1.7 7.2 1.7 5 0 6.8-1.7-6.6-1.7-5.7-1.7 2.4-1.7-.3-1.7 3.1-1.7 4.4-1.7-1.5-1.7 2.1-1.7 4.7-1.7 5.7-1.7 1.1-1.8-.4-1.7 .5-1.7 .8-1.7-6.1-1.7-2-1.7 3.3-1.7 .4-1.7 3-1.7-2.3-1.7 5.1-1.7 4.1-1.7 3.1-1.7 5z" fill="#ff7f0e" fill-opacity=".3"/>
<path d="M37.6 714l1.7-3.5 1.7-4.2 1.7-3.7 1.7-2.5 1.7 1 1.7-1.9 1.7-1.4 1.7-2.2 1.7 1.9 1.7 6.2 1.7-.3 1.7-.7 1.8 1.3 1.7-2.3 1.7-5.2 1.7-4.3 1.7-1.1 1.7 1.2 1.7-4.6 1.7-2.2 1.7 .2 1.7-3.1 1.7 6.9 1.7 5.9" stroke="#ff7f0e" stroke-width="1.05" fill="none" stroke-linejoin="round"/>
</g>
<path d="M21.2 676.8l4.4 0 10.9-2.1 10.9-5.5 24.1-.4 13.8 7.4 .3 0" stroke="#1f77b4" stroke-width=".65" fill="none"/>
<use href="#o10" y="241.6"/>
<text x="24.6" y="742.2" class="st">NISR.HN, 114 events</text>
<text x="19.1" y="708.3" class="tk" text-anchor="end">2.0</text>
<text x="19.1" y="720.4" class="tk" text-anchor="end">1.0</text>
<text x="19.1" y="732.4" class="tk" text-anchor="end">0.5</text>
<text transform="translate(10.7 713.3) rotate(-90)" class="yl" text-anchor="middle">HVSR</text>
<text transform="translate(9.1 672.7) rotate(-90)" class="vl" text-anchor="middle">Valid (%)</text>
<use href="#g11" y="241.6"/>
<clipPath id="k33"><rect x="93.1" y="678.7" width="64.4" height="67.6"/></clipPath><g clip-path="url(#k33)">
<path d="M103 684.8l1.8 11.6 1.7 1.8 1.7 26.2 1.8-11 1.7 2.6 1.7-6.1 1.8-7 1.7-3.2 1.7 1.2 1.8-9.5 1.7-4.4 1.8-2.7 1.7 1.6 1.7 2.5 1.8 2.4 1.7 2.2 1.7-.3 1.8 1.5 1.7 1.8 1.7 2.5 1.8 3.5 1.7 2 1.7 3.2 1.8 4.1 1.7 3.5 1.7 2.8 1.8 1.6 1.7 4.7 1.7 3.5 0 4.4-1.7-3.6-1.7-4.7-1.8-1.1-1.7-3.4-1.7-2.7-1.8-4.3-1.7-3.1-1.7-1.9-1.8-4.1-1.7-1.9-1.7-1.4-1.8-2.7-1.7 .9-1.7-1.4-1.8-3.2-1.7-2.9-1.7-.4-1.8 1.6-1.7 4.7-1.8 10.3-1.7-1.4-1.7 4.1-1.8 6.6-1.7 8-1.7-3.8-1.8 11.7-1.7-26.6-1.7-1.4-1.8-10.9z" fill="#1f77b4" fill-opacity=".34"/>
<path d="M103 688.9l1.8 11.2 1.7 1.8 1.7 25.8 1.8-11.4 1.7 3.6 1.7-7.4 1.8-6.1 1.7-4 1.7 1.5 1.8-10.2 1.7-4.6 1.8-2.1 1.7 1.1 1.7 2.3 1.8 3.1 1.7 2.1 1.7-.8 1.8 2 1.7 2 1.7 1.8 1.8 3.8 1.7 2.1 1.7 3.4 1.8 3.7 1.7 3.5 1.7 2.9 1.8 1.5 1.7 4.4 1.7 3.4" stroke="#1f77b4" stroke-width="1.05" fill="none" stroke-linejoin="round"/>
<path d="M109.6 715.6l1.7 .1 1.7-9.9 1.7-.8 1.7-.8 1.7-5.9 1.7-8.3 1.7-2.4 1.7-5.3 1.7-4.5 1.7-2.1 1.7-.3 1.7 3.3 1.8 2.3 1.7 1.3 1.7 1.1 1.7 2.9 1.7 4 1.7 3.6 1.7 2.5 1.7 2.1 1.7 4.1 1.7 2 1.7 2.2 1.7 3.5 0 5.8-1.7-2.8-1.7-2.6-1.7-1.1-1.7-5.7-1.7-1.5-1.7-1.9-1.7-3.3-1.7-5.2-1.7-2.5-1.7-1.1-1.7-1.1-1.8-1.3-1.7-3.3-1.7 .9-1.7 2.6-1.7 4.9-1.7 4.3-1.7 3.4-1.7 9.5-1.7 5.8-1.7-.3-1.7 2.2-1.7 10.2-1.7 .2z" fill="#ff7f0e" fill-opacity=".3"/>
<path d="M109.6 721.7l1.7-.9 1.7-9.4 1.7-2.4 1.7-.1 1.7-5.3 1.7-9.2 1.7-3.2 1.7-4.7 1.7-4.6 1.7-1.9 1.7-.4 1.7 2.6 1.8 2.1 1.7 1.2 1.7 1.4 1.7 2.3 1.7 4.3 1.7 3.4 1.7 2.6 1.7 1.7 1.7 4.9 1.7 1.2 1.7 2.8 1.7 2.8" stroke="#ff7f0e" stroke-width="1.05" fill="none" stroke-linejoin="round"/>
</g>
<path d="M93.1 676.8l4.5 0 10.9-2.1 10.9-4.4 11-1.5 17.5 1.5 9.4 6.5 .2 0" stroke="#1f77b4" stroke-width=".65" fill="none"/>
<use href="#o11" y="241.6"/>
<text x="96.4" y="742.2" class="st">NISR2.HN, &#160;11 events</text>
<use href="#g12" y="241.6"/>
<clipPath id="k34"><rect x="165.2" y="678.7" width="64.3" height="67.6"/></clipPath><g clip-path="url(#k34)">
<path d="M171.8 699.7l1.7-3 1.7-5.2 1.8-4.4 1.7 6.2 1.7-4.8 1.8 5.9 1.7 5.6 1.7 1.1 1.8 3.5 1.7-.9 1.8-2.5 1.7 2 1.7 1.4 1.8 .9 1.7-2.6 1.7-1.1 1.8-1.4 1.7 1.5 1.7 1.4 1.8-2.2 1.7 .3 1.8-1.7 1.7-1.5 1.7 2.9 1.8 2.9 1.7 6.7 1.7 2.7 1.8 2.3 1.7-6.4 1.8 4.7 1.7 .9 1.7 2.7 1.8 5.4 0 6-1.8-5.3-1.7-3-1.7-.9-1.8-3.5-1.7 5.3-1.8-1.1-1.7-3.6-1.7-7.1-1.8-1.8-1.7-2.6-1.7 1.4-1.8 2.6-1.7 .4-1.8 2.2-1.7-1.7-1.7 1.2-1.8 3.2-1.7-.3-1.7 3.7-1.8 2.3-1.7 .7-1.7 0-1.8 2.5-1.7 4.8-1.8 .1-1.7 .8-1.7-.4-1.8-5.7-1.7 7.6-1.7-5.8-1.8 0-1.7 4.8-1.7-3.8z" fill="#1f77b4" fill-opacity=".34"/>
<path d="M171.8 714l1.7-2.1 1.7-3 1.8-2.3 1.7 2.5 1.7-1 1.8 4.1 1.7 2.7 1.7-.3 1.8 .6 1.7-2.5 1.8-1.3 1.7-.5 1.7 1.7 1.8-.7 1.7-3.7 1.7-.2 1.8-2.8 1.7 .8 1.7 1.5 1.8-2.7 1.7 .9 1.8-2.2 1.7-1.6 1.7 2.8 1.8 2.4 1.7 6.6 1.7 3.3 1.8 1.4 1.7-5.5 1.8 4.2 1.7 .3 1.7 2.8 1.8 5.9" stroke="#1f77b4" stroke-width="1.05" fill="none" stroke-linejoin="round"/>
<path d="M181.6 713.2l1.7 2.9 1.7-.6 1.7-6.6 1.7-8.2 1.7-4.6 1.7 4.3 1.7-.1 1.7-2.7 1.7-1.7 1.7 2 1.7-4.1 1.7 .3 1.8-3.4 1.7 3.5 1.7-.5 1.7-4.1 1.7-3.1 1.7-3.9 1.7 6.7 1.7 8.4 1.7 10.5 1.7 4.4 1.7-7 1.7-3.4 0 5.9-1.7 3.9-1.7 8.1-1.7-4.1-1.7-9.6-1.7-8.6-1.7-5.4-1.7 4.6-1.7 4.2-1.7 3.9-1.7 1.5-1.7-2.6-1.8 3-1.7 0-1.7 2-1.7 .8-1.7 3.4-1.7 .5-1.7 3.1-1.7-3.3-1.7 3.3-1.7 5.9-1.7 10.1-1.7 1.5-1.7-1.4z" fill="#ff7f0e" fill-opacity=".3"/>
<path d="M181.6 721.7l1.7 3.6 1.7-2.2 1.7-7.4 1.7-5.8 1.7-5.7 1.7 4.1 1.7-1.4 1.7-1.5 1.7-1.2 1.7-.7 1.7-3.7 1.7 .3 1.8-2.2 1.7 1.8 1.7 .4 1.7-5 1.7-3.2 1.7-4.1 1.7 6.2 1.7 8.5 1.7 9.3 1.7 4.5 1.7-7.5 1.7-3.5" stroke="#ff7f0e" stroke-width="1.05" fill="none" stroke-linejoin="round"/>
</g>
<path d="M165.2 676.8l4.4 0 10.9-3.2 10.9-4.4 28.5-.4 9.4 7.4 .2 0" stroke="#1f77b4" stroke-width=".65" fill="none"/>
<use href="#o12" y="241.6"/>
<text x="168.5" y="742.2" class="st">NOAC.HN, 152 events</text>
<use href="#g13" y="241.6"/>
<clipPath id="k35"><rect x="236.6" y="678.7" width="65.1" height="67.6"/></clipPath><g clip-path="url(#k35)">
<path d="M245.9 712.2l1.8-8.8 1.7-2.1 1.7-4.9 1.7-.3 1.8-5.3 1.7 8.1 1.7 .4 1.7-2.8 1.7 4.6 1.8 1.6 1.7 .2 1.7-.6 1.7 .3 1.8-2.6 1.7 2.2 1.7-.7 1.7 2.3 1.7 4.4 1.8-1.2 1.7 0 1.7 1.4 1.7 2.9 1.8 .9 1.7 1.4 1.7-1.6 1.7 0 1.7 1.8 1.8-2.5 1.7 .5 1.7-1.1 1.7-2.1 1.8-.9 0 6.3-1.8 .6-1.7 2.8-1.7 .4-1.7-.6-1.8 2.3-1.7-.5-1.7-.6-1.7 .8-1.7-.6-1.8-1.1-1.7-3-1.7 1.5-1.7 .2-1.8 1.1-1.7-2.9-1.7-1.1-1.7 .7-1.7 1.8-1.8 3.7-1.7-2.2-1.7 4.3-1.7 3.7-1.8-.9-1.7 1.4-1.7 4.4-1.7 2.6-1.7 4.4-1.8 3.2-1.7-3.9-1.7-.1-1.7-6-1.8 .6z" fill="#1f77b4" fill-opacity=".34"/>
<path d="M245.9 721.7l1.8-5.3 1.7-.6 1.7 2.7 1.7-2.6 1.8-1.5 1.7-1 1.7-.1 1.7-1.1 1.7-.1 1.8 1.1 1.7-1.7 1.7-1.9 1.7 1.2 1.8-2.7 1.7 0 1.7-.8 1.7 2.3 1.7 3.3 1.8-1.2 1.7-.3 1.7 .2 1.7 2.4 1.8 1.7 1.7 .9 1.7-1 1.7-.1 1.7 1.4 1.8-3.1 1.7 1.1 1.7-.9 1.7-2 1.8-1.2" stroke="#1f77b4" stroke-width="1.05" fill="none" stroke-linejoin="round"/>
<path d="M252.5 698.6l1.7-1.4 1.8 3.1 1.8-1.1 1.7-1.3 1.7 3.1 1.8-9.9 1.8 4.7 1.7 1.8 1.7-2.9 1.8-7.3 1.8 1.4 1.7 5.8 1.7-.9 1.8-2 1.8-2.8 1.7 4.1 1.7 2.8 1.8-1.2 1.8-1.6 1.7 4.2 1.7 2.7 1.8 1.6 1.8-.3 1.7-2 0 5.2-1.7 2.8-1.8 1.7-1.8-.8-1.7-2.5-1.7-2.6-1.8 .9-1.8 2.2-1.7-1.2-1.7-4.2-1.8 4.4-1.8 4.3-1.7 .1-1.7-2.7-1.8-1.4-1.8 7.5-1.7 2.8-1.7 .2-1.8-1.4-1.8 10-1.7-1.9-1.7 1-1.8 1.2-1.8 4.5-1.7 7z" fill="#ff7f0e" fill-opacity=".3"/>
<path d="M252.5 717.3l1.7-3.4 1.8-1.8 1.8-.5 1.7-2.4 1.7 1.7 1.8-6.1 1.8 2 1.7 0 1.7-3.3 1.8-6.5 1.8 1.4 1.7 3.8 1.7 0 1.8-3.1 1.8-4.4 1.7 4.6 1.7 2.2 1.8-2.8 1.8-.4 1.7 3.6 1.7 2.3 1.8 .8 1.8-.6 1.7-2.4" stroke="#ff7f0e" stroke-width="1.05" fill="none" stroke-linejoin="round"/>
</g>
<path d="M236.6 676.8l2.8 0 13.1-3.2 8.7-3.3 8.8-1.5 21.9 0 9.4 4.8 .4 0" stroke="#1f77b4" stroke-width=".65" fill="none"/>
<use href="#o13" y="241.6"/>
<text x="239.9" y="742.2" class="st">NPS.HN, &#160;97 events</text>
<text transform="translate(315.1 672.7) rotate(-90)" class="vl" text-anchor="middle">Valid (#)</text>
<use href="#g10" y="322.2"/>
<clipPath id="k36"><rect x="21.2" y="759.2" width="64.3" height="67.6"/></clipPath><g clip-path="url(#k36)">
<path d="M31 769.4l1.8 9.7 1.7-2.1 1.8 5.9 1.7 3.2 1.7 .2 1.8-.3 1.7-2.9 1.8-.1 1.7 6.4 1.8-1.1 1.7 1.4 1.7-4.3 1.8 2.3 1.7 3.2 1.8-2.5 1.7 .4 1.8-.7 1.7-.4 1.7 .1 1.8 .4 1.7-3.1 1.8 .2 1.7-1 1.8 .5 1.7 2.7 1.7 .6 1.8 4 1.7 3.5 1.8 .6 1.7-6.1 1.8 7.9 0 5.5-1.8-8.1-1.7 5.8-1.8-.1-1.7-3.5-1.8-4.3-1.7-.1-1.7-2.7-1.8 .4-1.7-.5-1.8 .6-1.7 4.4-1.8-.1-1.7 .2-1.7 .7-1.8 1.6-1.7 .9-1.8 1.1-1.7-2.9-1.8 .6-1.7 4.8-1.7 .9-1.8 3.3-1.7-3.2-1.8 1.8-1.7 4-1.8 1.7-1.7-2.9-1.7-5.4-1.8-2.7-1.7-1.2-1.8-7.7z" fill="#1f77b4" fill-opacity=".34"/>
<path d="M31 779.8l1.8 9.2 1.7 1.2 1.8 2.3 1.7 4.1 1.7 3.1 1.8-3.7 1.7-.9 1.8-1.3 1.7 2.8 1.8-1.5 1.7 .4 1.7-3.6 1.8 .3 1.7 3.2 1.8-1.6 1.7 0 1.8-1.8 1.7 .2 1.7-.2 1.8 .3 1.7-4.1 1.8-.3 1.7-.1 1.8-.6 1.7 3.4 1.7 .4 1.8 3.9 1.7 3.4 1.8 .4 1.7-6 1.8 7.9" stroke="#1f77b4" stroke-width="1.05" fill="none" stroke-linejoin="round"/>
<path d="M37.6 777.4l1.7 14.1 1.7-4.4 1.7-7.5 1.7 1.1 1.7 2.6 1.7-2.6 1.7 3.2 1.7-2.4 1.7-3.8 1.7-5.4 1.7 3.1 1.7 .5 1.8 2.1 1.7-.2 1.7 2.3 1.7 1.8 1.7-2 1.7-4.3 1.7-4.1 1.7-2.8 1.7 1.8 1.7 4.1 1.7 .8 1.7 8.6 0 5.1-1.7-7.8-1.7-.5-1.7-2.9-1.7-1.2-1.7 3.3-1.7 3.3-1.7 4.8-1.7 3.5-1.7-3.7-1.7-.7-1.7 .8-1.8 1.9-1.7-1.3-1.7-2.5-1.7 7.8-1.7 5.6-1.7 1.2-1.7-.2-1.7 2.2-1.7-.9-1.7 1.6-1.7 6.2-1.7 8.1-1.7-9.7z" fill="#ff7f0e" fill-opacity=".3"/>
<path d="M37.6 792.9l1.7 9.4 1.7-2.6 1.7-8.1 1.7-2.1 1.7 3.2 1.7-1.5 1.7 .3 1.7-.4 1.7-5.2 1.7-5.6 1.7 1.4 1.7 1.3 1.8-.4 1.7-.3 1.7 1.5 1.7 2.8 1.7-2.8 1.7-4.7 1.7-3.1 1.7-3 1.7 1.5 1.7 3 1.7 .9 1.7 8" stroke="#ff7f0e" stroke-width="1.05" fill="none" stroke-linejoin="round"/>
</g>
<path d="M21.2 756.8l4.4 0 10.9-3.2 8.7-4.4 30.7-.4 9.4 8 .3 0" stroke="#1f77b4" stroke-width=".65" fill="none"/>
<use href="#o10" y="322.2"/>
<text x="24.6" y="822.8" class="st">NVR.HN, &#160;92 events</text>
<text x="19.1" y="788.9" class="tk" text-anchor="end">2.0</text>
<text x="19.1" y="800.9" class="tk" text-anchor="end">1.0</text>
<text x="19.1" y="812.9" class="tk" text-anchor="end">0.5</text>
<text transform="translate(10.7 793.8) rotate(-90)" class="yl" text-anchor="middle">HVSR</text>
<text transform="translate(9.1 753.3) rotate(-90)" class="vl" text-anchor="middle">Valid (%)</text>
<text x="34.9" y="832" class="tx" text-anchor="middle">0.1</text>
<text x="55" y="832" class="tx" text-anchor="middle">1</text>
<text x="75.1" y="832" class="tx" text-anchor="middle">10</text>
<text x="53.9" y="837.7" class="xl" text-anchor="middle">frequency (Hz)</text>
<use href="#g11" y="322.2"/>
<clipPath id="k37"><rect x="93.1" y="759.2" width="64.4" height="67.6"/></clipPath><g clip-path="url(#k37)">
<path d="M97.6 764.1l1.7 .4 1.7 .8 1.7 6.4 1.7-4.4 1.7 1 1.7-1.6 1.7 8.2 1.7 7.4 1.7-6.1 1.7 .8 1.7-.4 1.7-1 1.7-1.7 1.7 0 1.7 2.1 1.7-2.1 1.7-.2 1.7 .9 1.7 1.1 1.7 .5 1.7-1 1.7 .3 1.7-3.4 1.7-.8 1.7 2.3 1.7 2.3 1.7 .9 1.7 2.2 1.7-3 1.7 2.8 1.7 5.1 1.7 4 1.7 7.3 1.7 7.7 1.7 5.2 0 5-1.7-5.6-1.7-6.2-1.7-8-1.7-3.7-1.7-4.4-1.7-3.3-1.7 3.3-1.7-1.6-1.7-1.5-1.7-1.7-1.7-1.6-1.7 2.2-1.7 1.4-1.7 1.5-1.7-.3-1.7 1.7-1.7 .1-1.7 1.7-1.7-.1-1.7 4.9-1.7 2.2-1.7-1.3-1.7 7.3-1.7-1.9-1.7 6.6-1.7-.6-1.7 5.1-1.7 1.6-1.7-6.6-1.7-4.3-1.7 1.4-1.7 1.5-1.7-6.6-1.7-3.1-1.7-6.5z" fill="#1f77b4" fill-opacity=".34"/>
<path d="M97.6 775.4l1.7 2.3 1.7 2.7 1.7 4 1.7 2.1 1.7-2.1 1.7 3.9 1.7 4 1.7 3.8 1.7-4.3 1.7-2.1 1.7-1.8 1.7 .2 1.7-3.2 1.7-.8 1.7 0 1.7-2.9 1.7-1.4 1.7-.8 1.7 1.2 1.7-.6 1.7 .3 1.7-1.2 1.7-2.3 1.7-.8 1.7 1.7 1.7 1.9 1.7 1.4 1.7 1 1.7-2.7 1.7 3.3 1.7 4.6 1.7 3.9 1.7 7.5 1.7 6.9 1.7 5.3" stroke="#1f77b4" stroke-width="1.05" fill="none" stroke-linejoin="round"/>
<path d="M109.6 790.1l1.7 5.1 1.7-5.9 1.7-4.5 1.7-4.3 1.7-5.7 1.7-.1 1.7-1.9 1.7-.2 1.7-5.8 1.7 6.1 1.7-1.9 1.7 .3 1.8-.2 1.7-1.5 1.7-3.4 1.7 .9 1.7 .6 1.7-2.1 1.7 .8 1.7 .8 1.7-1.9 1.7-.9 1.7 7 1.7 5 0 6-1.7-4.9-1.7-6-1.7 .3-1.7 1.8-1.7 .3-1.7-1.1-1.7 2.4-1.7 .4-1.7 .6-1.7 3-1.7 2.6-1.8-.3-1.7 1.9-1.7 2.2-1.7-6.2-1.7 6.5-1.7 1.8-1.7 2.3-1.7-.6-1.7 7.1-1.7 6.6-1.7 2.5-1.7 7.1-1.7-.9z" fill="#ff7f0e" fill-opacity=".3"/>
<path d="M109.6 800.6l1.7 2.7 1.7-5.6 1.7-4.2 1.7-6.1 1.7-4.4 1.7-1.6 1.7-1.5 1.7-1 1.7-5.1 1.7 4.7 1.7-1.5 1.7-1.4 1.8 .5 1.7-2.4 1.7-2.3 1.7 .6 1.7-1.1 1.7-1.5 1.7 .6 1.7 .6 1.7-2.2 1.7-.6 1.7 6.3 1.7 5.7" stroke="#ff7f0e" stroke-width="1.05" fill="none" stroke-linejoin="round"/>
</g>
<path d="M93.1 756.8l4.5 0 10.9-2.1 8.7-5.5 13.2-.4 21.8 0 5.1 2.6 .2 0" stroke="#1f77b4" stroke-width=".65" fill="none"/>
<use href="#o11" y="322.2"/>
<text x="96.4" y="822.8" class="st">ORTH.HN, &#160;75 events</text>
<text x="106.7" y="832" class="tx" text-anchor="middle">0.1</text>
<text x="126.9" y="832" class="tx" text-anchor="middle">1</text>
<text x="147" y="832" class="tx" text-anchor="middle">10</text>
<text x="125.8" y="837.7" class="xl" text-anchor="middle">frequency (Hz)</text>
<use href="#g12" y="322.2"/>
<clipPath id="k38"><rect x="165.2" y="759.2" width="64.3" height="67.6"/></clipPath><g clip-path="url(#k38)">
<path d="M177.2 773.9l1.7 3.6 1.8 6.8 1.7 1.4 1.7-.6 1.8 4.1 1.7-1.5 1.7 1.1 1.7-2.9 1.8 2.4 1.7-.8 1.7 .1 1.8-1.4 1.7 .8 1.7 .9 1.7-3.6 1.8 .7 1.7 4.3 1.7-2.5 1.8-1.1 1.7 1.6 1.7 1.3 1.7-2.6 1.8 1.5 1.7 2 1.7 1.8 1.8-3.5 1.7-.3 1.7-.9 1.7 7.4 1.8 18.7 0 4.3-1.8-18.6-1.7-6.1-1.7 .1-1.7 .8-1.8 3.3-1.7-1.2-1.7-1.2-1.8-2.6-1.7 3.6-1.7-1.1-1.7-1.1-1.8 1.4-1.7 2.4-1.7-2.4-1.8 .3-1.7 2.7-1.7 1.8-1.7-.4-1.8 2.4-1.7-2-1.7 3.7-1.8 .7-1.7 .8-1.7 3.5-1.7-1.8-1.8 1-1.7-4-1.7-3.1-1.8-2.4-1.7-3.6z" fill="#1f77b4" fill-opacity=".34"/>
<path d="M177.2 783.1l1.7 3.1 1.8 6 1.7 3.2 1.7 1 1.8 .7 1.7 .6 1.7-2.3 1.7-.6 1.8-.1 1.7-1.4 1.7 1 1.8-2 1.7 .9 1.7-1.2 1.7-2.5 1.8 .7 1.7 2.4 1.7-2 1.8-1.2 1.7 1.5 1.7 .5 1.7-2.6 1.8 2.2 1.7 1.5 1.7 1.1 1.8-3.4 1.7-.2 1.7-.6 1.7 6.7 1.8 18.7" stroke="#1f77b4" stroke-width="1.05" fill="none" stroke-linejoin="round"/>
<path d="M181.6 781.6l1.7 11 1.7-3.7 1.7 2 1.7-5.2 1.7-2.8 1.7-.5 1.7-1.4 1.7-1.9 1.7-3.6 1.7-.2 1.7-2 1.7 1 1.8 .7 1.7-1.7 1.7 2.9 1.7-.1 1.7 .6 1.7-3.6 1.7 2.7 1.7 .2 1.7 1.9 1.7-.6 1.7-2.7 1.7 4.8 0 7.3-1.7-4.1-1.7 1.8-1.7 1.9-1.7-1.6-1.7 .6-1.7-2.1-1.7 2.4-1.7 2.7-1.7 0-1.7-2.2-1.7 1.5-1.8 .6-1.7 .6-1.7 4.5-1.7 .2-1.7 1.1-1.7 4.5-1.7 5.1-1.7-2.2-1.7 5.5-1.7 1.3-1.7 1.6-1.7 1.5-1.7-5.6z" fill="#ff7f0e" fill-opacity=".3"/>
<path d="M181.6 795.1l1.7 6.7 1.7-2.2 1.7 .5 1.7-2.5 1.7-5.4 1.7 .9 1.7-1.6 1.7-4.9 1.7-2.8 1.7 .2 1.7-2.2 1.7-.6 1.8-.8 1.7 0 1.7 1.8 1.7 0 1.7-1 1.7-2.6 1.7 2 1.7 .2 1.7 1.9 1.7-1.5 1.7-2.4 1.7 4.3" stroke="#ff7f0e" stroke-width="1.05" fill="none" stroke-linejoin="round"/>
</g>
<path d="M165.2 756.8l6.6 0 10.9-2.1 8.7-4.4 11-1.5 15.3 .4 11.6 7 .2 0" stroke="#1f77b4" stroke-width=".65" fill="none"/>
<use href="#o12" y="322.2"/>
<text x="168.5" y="822.8" class="st">PENT.HN, &#160;55 events</text>
<text x="178.8" y="832" class="tx" text-anchor="middle">0.1</text>
<text x="198.9" y="832" class="tx" text-anchor="middle">1</text>
<text x="219" y="832" class="tx" text-anchor="middle">10</text>
<text x="197.8" y="837.7" class="xl" text-anchor="middle">frequency (Hz)</text>
<use href="#g13" y="322.2"/>
<clipPath id="k39"><rect x="236.6" y="759.2" width="65.1" height="67.6"/></clipPath><g clip-path="url(#k39)">
<path d="M243.8 771.3l1.7 1.4 1.7 5.7 1.8 3.6 1.7-2 1.7-.1 1.8-4.4 1.7 2.7 1.7-.7 1.8 1.5 1.7-.2 1.8 1.5 1.7 3 1.7-.1 1.8-2 1.7 1.4 1.7 2.4 1.8-1.3 1.7 1.8 1.7 4.4 1.8-2.9 1.7 .4 1.8-.1 1.7-.6 1.7-2.6 1.8 .4 1.7 .8 1.7 1.7 1.8 1.5 1.7 2.1 1.8-6.9 1.7 6.8 1.7 5.6 1.8 2.9 0 5.2-1.8-2.2-1.7-5.9-1.7-6.5-1.8 6.6-1.7-2.2-1.8 .2-1.7-1.9-1.7-.2-1.8 .4-1.7 2.9-1.7 .6-1.8-.1-1.7-.7-1.8 2.7-1.7-2.3-1.7-.2-1.8 1.3-1.7-.9-1.7 1.7-1.8 1.8-1.7 .6-1.7 .3-1.8 3.2-1.7 1.6-1.8 1.8-1.7-1.2-1.7 1.7-1.8 4.9-1.7-2.5-1.7 3.4-1.8-4-1.7 .6-1.7-5.2z" fill="#1f77b4" fill-opacity=".34"/>
<path d="M243.8 788.6l1.7 3 1.7 1.1 1.8 3.5 1.7-.4 1.7-1.5 1.8-2.9 1.7 .6 1.7 .2 1.8 .2 1.7-1.3 1.8 .3 1.7-.9 1.7 .7 1.8-2.1 1.7-.5 1.7 2.8 1.8-1.7 1.7 1 1.7 3.2 1.8-3.2 1.7 1.1 1.8-.6 1.7-.3 1.7-2.2 1.8-.4 1.7 .4 1.7 1.7 1.8 .7 1.7 2.6 1.8-7.3 1.7 6.9 1.7 5.8 1.8 2.6" stroke="#1f77b4" stroke-width="1.05" fill="none" stroke-linejoin="round"/>
<path d="M252.5 788.7l1.7-1.1 1.8-2.3 1.8 1.1 1.7-2.5 1.7-2.6 1.8 3.4 1.8-5 1.7-3.1 1.7-.3 1.8-2.1 1.8-.6 1.7 3 1.7-.9 1.8 .3 1.8-1.9 1.7 .7 1.7 .1 1.8 0 1.8 1.1 1.7-.4 1.7-4.8 1.8 1.6 1.8 2.1 1.7 4.5 0 6.7-1.7-4.2-1.8-1.4-1.8-.9-1.7 5.5-1.7 1.1-1.8-.9-1.8 2.5-1.7-1.8-1.7 .9-1.8 2.2-1.8 .8-1.7 1.9-1.7-3.7-1.8 1.3-1.8 6.7-1.7-2-1.7 5.7-1.8 3.8-1.8-2-1.7 4.7-1.7 1.4-1.8 1.9-1.8 5.3-1.7 2.3z" fill="#ff7f0e" fill-opacity=".3"/>
<path d="M252.5 803.9l1.7-3.8 1.8-3.6 1.8-.8 1.7 .1 1.7-3.9 1.8 1.7 1.8-4.3 1.7-3 1.7-.2 1.8-4.3 1.8-1.1 1.7 2.5 1.7-.2 1.8-.3 1.8-1.6 1.7-.4 1.7 .4 1.8-1.6 1.8 1 1.7 .3 1.7-6 1.8 1.9 1.8 .6 1.7 4.7" stroke="#ff7f0e" stroke-width="1.05" fill="none" stroke-linejoin="round"/>
</g>
<path d="M236.6 756.8l5 0 13.1-2.1 10.9-5.5 6.6-.4 19.7 0 9.4 5.9 .4 0" stroke="#1f77b4" stroke-width=".65" fill="none"/>
<use href="#o13" y="322.2"/>
<text x="239.9" y="822.8" class="st">PLG.HN, &#160;58 events</text>
<text transform="translate(315.1 753.3) rotate(-90)" class="vl" text-anchor="middle">Valid (#)</text>
<text x="250.4" y="832" class="tx" text-anchor="middle">0.1</text>
<text x="270.7" y="832" class="tx" text-anchor="middle">1</text>
<text x="291.1" y="832" class="tx" text-anchor="middle">10</text>
<text x="269.6" y="837.7" class="xl" text-anchor="middle">frequency (Hz)</text>
<use href="#g20" y="0"/>
<clipPath id="k40"><rect x="22.4" y="858.8" width="63.4" height="66.8"/></clipPath><g clip-path="url(#k40)">
<path d="M28.8 868.3l1.7-1.7 1.7-3.4 1.7 4.9 1.7-2.1 1.8 6.4 1.7 .9 1.7 2.7 1.7-2.3 1.8-1.9 1.7 1.1 1.7 3.1 1.7 2.4 1.8-1.8 1.7 .9 1.7-3.4 1.7 2.1 1.7 5 1.8 3.7 1.7 5.3 1.7-4 1.7 .6 1.8 .9 1.7-.4 1.7-.9 1.7 4.9 1.8 1.7 1.7 1.7 1.7-1.1 1.7 3 1.8 1.8 1.7-1.2 1.7 5.1 1.7 7.1 0 4.4-1.7-6.3-1.7-5.2-1.7 2.2-1.8-2-1.7-3.5-1.7 1.7-1.7-1.9-1.8-1.8-1.7-3.5-1.7 1-1.7 .6-1.8-1.4-1.7 .5-1.7 5.7-1.7-3.5-1.8-4.4-1.7-5.3-1.7 .7-1.7 4.2-1.7 3-1.8 3.1-1.7-2.1-1.7 3.1-1.7 .7-1.8 4.4-1.7 4.3-1.7-1-1.7-.5-1.8 2-1.7 1.9-1.7-1.7-1.7-5.6-1.7 2z" fill="#1f77b4" fill-opacity=".34"/>
<path d="M28.8 887.5l1.7-2 1.7-.2 1.7 .7 1.7 .4 1.8 2.6 1.7 3 1.7 1.6 1.7-2.3 1.8-5.1 1.7 .5 1.7-1.1 1.7 1.1 1.8-.1 1.7-2.9 1.7-3.1 1.7 1.1 1.7 5 1.8 4 1.7 4.6 1.7-5.6 1.7 .5 1.8 1.1 1.7-.2 1.7-1.2 1.7 4.2 1.8 1.9 1.7 1.9 1.7-1.6 1.7 3.4 1.8 1.6 1.7-1.2 1.7 4.4 1.7 7" stroke="#1f77b4" stroke-width="1.05" fill="none" stroke-linejoin="round"/>
<path d="M38.6 888.6l1.7-2.1 1.7 .5 1.7-7.5 1.7-4.8 1.7-2.5 1.7-.8 1.7-1.2 1.7-2.8 1.7-2.9 1.7 1.7 1.7 .8 1.7 7.8 1.8 1.1 1.7 2.9 1.7-5.7 1.7 1.7 1.7 1.9 1.7-1.1 1.7 1.6 1.7 1.9 1.7 2.3 1.7 2.3 1.7 2.5 1.7 .1 0 6.1-1.7 .2-1.7-1-1.7-3-1.7 .4-1.7-2.1-1.7-1.3-1.7 1.4-1.7-.9-1.7 0-1.7 3.9-1.7-1-1.8 .9-1.7-5.3-1.7-2.5-1.7 .6-1.7 3.7-1.7 7.7-1.7-.2-1.7-1.1-1.7 8.1-1.7 6.3-1.7 5.2-1.7 3.2-1.7 7.4z" fill="#ff7f0e" fill-opacity=".3"/>
<path d="M38.6 905l1.7-3.9 1.7-2.4 1.7-3.9 1.7-6 1.7-7 1.7 2.9 1.7-2.2 1.7-4.4 1.7-3.1 1.7-.5 1.7 2.1 1.7 5.4 1.8 1.1 1.7 1.4 1.7-4.5 1.7 .6 1.7 1.7 1.7-1.7 1.7 1.2 1.7 2.3 1.7 .8 1.7 3.1 1.7 1.9 1.7-.2" stroke="#ff7f0e" stroke-width="1.05" fill="none" stroke-linejoin="round"/>
</g>
<path d="M22.4 856.8l4.2 0 10.9-2.1 10.9-4.4 8.8-1.5 17.5 .4 11.1 6.6 0 0" stroke="#1f77b4" stroke-width=".65" fill="none"/>
<use href="#o20" y="0"/>
<text x="25.7" y="921.6" class="st">PRK.HN, 101 events</text>
<text x="20.2" y="888.2" class="tk" text-anchor="end">2.0</text>
<text x="20.2" y="900" class="tk" text-anchor="end">1.0</text>
<text x="20.2" y="911.9" class="tk" text-anchor="end">0.5</text>
<text transform="translate(11.8 892.9) rotate(-90)" class="yl" text-anchor="middle">HVSR</text>
<text transform="translate(10.2 853) rotate(-90)" class="vl" text-anchor="middle">Valid (%)</text>
<use href="#g21" y="0"/>
<clipPath id="k41"><rect x="93.4" y="858.8" width="63.2" height="66.8"/></clipPath><g clip-path="url(#k41)">
<path d="M103 872.5l1.8 6 1.7-1 1.7 3.2 1.7 2.7 1.8 1.5 1.7 .4 1.7-1.7 1.8 2.5 1.7-1.9 1.7-2.4 1.7 3.4 1.8-1.7 1.7-2.3 1.7 1.4 1.8-.1 1.7-4.1 1.7 1.1 1.8-1.6 1.7-3.9 1.7-1.5 1.7 1.8 1.8 5 1.7 5.5 1.7-4.6 1.8 6.7 1.7 3.2 1.7 6.1 1.7 5.9 1.8-1.5 1.7 6.8 1.7 11.4 0 5.1-1.7-11.5-1.7-6.4-1.8 1.6-1.7-6.1-1.7-5.8-1.7-1.8-1.8-7.8-1.7 5.6-1.7-6.3-1.8-3.9-1.7-2.5-1.7 2.8-1.7 4.2-1.8 3.1-1.7 .2-1.7 2.9-1.8 .1-1.7 1-1.7 2.2-1.8 4-1.7-3.8-1.7 5.1-1.7 1.3-1.8 1-1.7 .2-1.7 2.7-1.8-5-1.7-.3-1.7-4.8-1.7-1.5-1.8-7.2z" fill="#1f77b4" fill-opacity=".34"/>
<path d="M103 879.8l1.8 5.2 1.7 1.5 1.7 4.3 1.7 2.6 1.8 1.9 1.7-1.5 1.7-.8 1.8-.3 1.7 .2 1.7-3.4 1.7 2.4 1.8-3.4 1.7-1.3 1.7 .1 1.8-.4 1.7-2.9 1.7 0 1.8-2 1.7-3.7 1.7-2.8 1.7 2.2 1.8 4.8 1.7 5.8 1.7-5.7 1.8 7.8 1.7 2.4 1.7 6 1.7 5.7 1.8-1.3 1.7 7 1.7 11.2" stroke="#1f77b4" stroke-width="1.05" fill="none" stroke-linejoin="round"/>
<path d="M109.6 886.7l1.7-.6 1.7 1.6 1.7-4.4 1.7-.4 1.7-2.8 1.7 2.1 1.7-3 1.7-3.1 1.7-.8 1.7-3.6 1.7-.1 1.7-2.1 1.8 .9 1.7 .5 1.7-6.3 1.7-2.5 1.7-.7 1.7-3.9 1.7 12.2 1.7-2.1 1.7 1.2 1.7 4.8 1.7 8.2 1.7 10.6 0 5.4-1.7-8.8-1.7-8.4-1.7-3.7-1.7-.4-1.7 1.7-1.7-12.2-1.7 4.2-1.7 2.8-1.7 5.1-1.7 5.9-1.7-1.1-1.8 2.1-1.7 .9-1.7 2-1.7 2.7-1.7 .4-1.7 7.8-1.7 1.4-1.7 1.1-1.7 4.4-1.7-.6-1.7 2.1-1.7 2.7-1.7-1.3z" fill="#ff7f0e" fill-opacity=".3"/>
<path d="M109.6 896.2l1.7 2.1 1.7-1 1.7-1.7 1.7-1 1.7-3.7 1.7-.7 1.7-1.8 1.7-5.2 1.7-1.2 1.7-3 1.7 0 1.7-2.2 1.8 .6 1.7-.4 1.7-5.4 1.7-3.6 1.7-2.5 1.7-4.1 1.7 12.4 1.7-1.8 1.7 1 1.7 4 1.7 8.4 1.7 9.7" stroke="#ff7f0e" stroke-width="1.05" fill="none" stroke-linejoin="round"/>
</g>
<path d="M93.4 856.8l4.2 0 13.1-3.2 8.7-3.3 11-1.5 15.3 0 10.9 7 0 0" stroke="#1f77b4" stroke-width=".65" fill="none"/>
<use href="#o21" y="0"/>
<text x="96.7" y="921.6" class="st">PSRA.HN, &#160;71 events</text>
<use href="#g22" y="0"/>
<clipPath id="k42"><rect x="164.4" y="858.8" width="63.1" height="66.8"/></clipPath><g clip-path="url(#k42)">
<path d="M170.8 862.8l1.7 3.5 1.7 1.2 1.7 3.4 1.7-5.3 1.8-1.3 1.7 6.6 1.7 5.1 1.7-2.5 1.8 3 1.7 5.8 1.7-4.9 1.7 4.1 1.8-1.8 1.7 .9 1.7-1 1.7 2.7 1.7 3.8 1.8-1 1.7-2 1.7 1.1 1.7 .6 1.8-1.5 1.7 3 1.7-.1 1.7 1.9 1.8 .5 1.7 3.2 1.7-2.3 1.7 4.9 1.8-1.6 1.7 .3 1.7 .1 1.7-1.9 0 5.4-1.7 2.8-1.7-.4-1.7-.3-1.8 2-1.7-4.9-1.7 2.9-1.7-3.1-1.8-1.1-1.7-1.7-1.7 .5-1.7-2-1.8 2.8-1.7-.7-1.7-.7-1.7 4.1-1.8-.9-1.7 .9-1.7-3.6-1.7 2.6-1.7 5.4-1.8 3.2-1.7-2.5-1.7 6.8-1.7-1-1.8 .8-1.7 .3-1.7 2.4-1.7-2.4-1.8 2.8-1.7-1.2-1.7-5.1-1.7 .8-1.7-5.2z" fill="#1f77b4" fill-opacity=".34"/>
<path d="M170.8 884.2l1.7 2.8 1.7 .6 1.7 2.9 1.7-2.9 1.8 2.3 1.7 1.3 1.7-.3 1.7 .4 1.8 2.6 1.7 .7 1.7-2.8 1.7 .6 1.8-.9 1.7-3.4 1.7-1.4 1.7 2.6 1.7 1.5 1.8-.1 1.7-2.8 1.7 .8 1.7 .5 1.8-1.3 1.7 1.5 1.7-.2 1.7 1.9 1.8 1.5 1.7 2.6 1.7-2.5 1.7 4.5 1.8-1.3 1.7 0 1.7 .3 1.7-2.2" stroke="#1f77b4" stroke-width="1.05" fill="none" stroke-linejoin="round"/>
<path d="M180.6 887.1l1.7 .3 1.7-3.6 1.7-1.3 1.7 1.4 1.7 2.2 1.7-5.8 1.7 2.9 1.7-3.5 1.7-4.3 1.7-2.5 1.7 1.3 1.7 .1 1.8-2.8 1.7-.8 1.7 1 1.7 2.9 1.7-.4 1.7-5.1 1.7 4.7 1.7 3.1 1.7-1.3 1.7-.8 1.7 4 1.7 4.1 0 6.7-1.7-4-1.7-2.4-1.7 .9-1.7 2.1-1.7-2.5-1.7-3.3-1.7 3.1-1.7 2.7-1.7-3.3-1.7 1.1-1.7 0-1.8 4-1.7 .9-1.7-.7-1.7 5.2-1.7 2.7-1.7 5-1.7 .9-1.7 2.5-1.7 .5-1.7 1-1.7-.5-1.7 5.5-1.7-1.4z" fill="#ff7f0e" fill-opacity=".3"/>
<path d="M180.6 897.3l1.7 1.8 1.7-3.8 1.7-1.4 1.7 0 1.7 .4 1.7-3.5 1.7 0 1.7-2.8 1.7-3.1 1.7-3.1 1.7 .4 1.7-2.2 1.8-2.3 1.7-.3 1.7 .6 1.7 2.1 1.7-1.1 1.7-4.5 1.7 3.7 1.7 2.7 1.7-1.4 1.7-.2 1.7 2.7 1.7 4.4" stroke="#ff7f0e" stroke-width="1.05" fill="none" stroke-linejoin="round"/>
</g>
<path d="M164.4 856.8l2 0 8.7-2.1 8.8-4.4 10.9-1.5 21.9 0 10.8 5.9 0 0" stroke="#1f77b4" stroke-width=".65" fill="none"/>
<use href="#o22" y="0"/>
<text x="167.7" y="921.6" class="st">PTL.HN, 142 events</text>
<use href="#g23" y="0"/>
<clipPath id="k43"><rect x="234.7" y="858.8" width="63.2" height="66.8"/></clipPath><g clip-path="url(#k43)">
<path d="M239.6 869.7l1.7 1.8 1.7-.6 1.7-.1 1.8 5.1 1.7 5.9 1.7 1.2 1.7 1.2 1.8-3.9 1.7-.5 1.7 4 1.7-1 1.8 .5 1.7 .1 1.7-1.3 1.7 .9 1.8 1.4 1.7 .8 1.7 .8 1.7 0 1.7-1 1.8 1.6 1.7-3.9 1.7-1.4 1.7 2.2 1.8 .8 1.7-.2 1.7-2.2 1.7 1.7 1.8-.9 1.7 4.3 1.7 3 1.7 5.7 1.8-7.8 1.7-11.4 0 4.5-1.7 12.5-1.8 6.7-1.7-4.1-1.7-3.1-1.7-4.2-1.8 1.4-1.7-2.1-1.7 2.7-1.7-.3-1.8 .2-1.7-2.5-1.7 3.3-1.7 2.3-1.8-.4-1.7 .4-1.7 2.5-1.7 1.9-1.7-.9-1.8 1.1-1.7-.6-1.7 5.7-1.7-.5-1.8 4.7-1.7-.5-1.7-3.3-1.7 1.8-1.8 5.1-1.7-.5-1.7-6.3-1.7-2.3-1.8-10.7-1.7-.4-1.7-1.3-1.7-2.5z" fill="#1f77b4" fill-opacity=".34"/>
<path d="M239.6 877.6l1.7 2.7 1.7 .8 1.7 .7 1.8 5.5 1.7 5.3 1.7 4.5 1.7-1.7 1.8-4.2 1.7 2.4 1.7 3.1 1.7-1.5 1.8-2.6 1.7 .8 1.7-2.8 1.7-.5 1.8-.2 1.7 2.3 1.7-.9 1.7-1.5 1.7 0 1.8 .3 1.7-2.7 1.7-2.4 1.7 1.7 1.8 .6 1.7 .4 1.7-2.3 1.7 1.7 1.8-1.6 1.7 4.1 1.7 3.2 1.7 5.2 1.8-7.2 1.7-12.1" stroke="#1f77b4" stroke-width="1.05" fill="none" stroke-linejoin="round"/>
<path d="M250.5 887.6l1.7-1.2 1.7-1.4 1.7-2.8 1.8 2.5 1.7 2.9 1.7-.4 1.7-7.4 1.7-2.5 1.7-4.7 1.7 1.5 1.7-.6 1.8-1.8 1.7 2.8 1.7-.1 1.7-3.4 1.7-.9 1.7-3.7 1.7-.1 1.8 5 1.7 2.4 1.7-.3 1.7-1.3 1.7 2.8 1.7 .5 0 6.5-1.7-.7-1.7-2.4-1.7 3.1-1.7-.2-1.7-2-1.8-3.5-1.7 2.2-1.7 2.3-1.7 3-1.7 2.3-1.7 1.2-1.7-.8-1.8 1.3-1.7 4.4-1.7-2.4-1.7 3.1-1.7 7-1.7 5.5-1.7 2.2-1.7-2.9-1.8-3.1-1.7 2.4-1.7-1.8-1.7 6.5z" fill="#ff7f0e" fill-opacity=".3"/>
<path d="M250.5 897.3l1.7-3.2 1.7-1.1 1.7-1.4 1.8 4.3 1.7 .9 1.7-1.3 1.7-5.5 1.7-5.3 1.7-3 1.7 1.2 1.7-2.2 1.8-.5 1.7-.2 1.7 .1 1.7-1.9 1.7-3 1.7-3.2 1.7-.5 1.8 3.8 1.7 2.3 1.7 .5 1.7-2.5 1.7 2.4 1.7 .7" stroke="#ff7f0e" stroke-width="1.05" fill="none" stroke-linejoin="round"/>
</g>
<path d="M234.7 856.8l2.7 0 8.7-2.1 6.6-5.5 8.7-.4 28.5 0 8 4.8 0 0" stroke="#1f77b4" stroke-width=".65" fill="none"/>
<use href="#o23" y="0"/>
<text x="238" y="921.6" class="st">RDO.HN, &#160;58 events</text>
<text transform="translate(311.3 853) rotate(-90)" class="vl" text-anchor="middle">Valid (#)</text>
<use href="#g20" y="78.9"/>
<clipPath id="k44"><rect x="22.4" y="937.7" width="63.4" height="66.8"/></clipPath><g clip-path="url(#k44)">
<path d="M28.8 936.2l1.7 1.4 1.7 2.2 1.7 1.5 1.7 2.5 1.7-1.4 1.7 5.8 1.7 .6 1.7 2.4 1.7 2.7 1.8 4 1.7 2.3 1.7 .3 1.7-1 1.7-.6 1.7-.2 1.7-.2 1.7 3.1 1.7-2.2 1.7 1.3 1.8 2 1.7-2 1.7-1 1.7 3.8 1.7-1.4 1.7-.5 1.7 2.2 1.7-1.6 1.7 1.2 1.7-2.1 1.8 5.4 1.7 3 1.7-4.1 1.7 11.5 0 5-1.7-10.6-1.7 4.3-1.7-2.6-1.8-4.9-1.7 1.4-1.7-.4-1.7 .3-1.7-1.1-1.7 .5-1.7 1.7-1.7-3.2-1.7 2.8-1.7 1.5-1.8-1.6-1.7 .1-1.7 2.5-1.7-.6-1.7 4.6-1.7 2.6-1.7 2.3-1.7 5.8-1.7 .3-1.7 .7-1.8 2-1.7 1.3-1.7 4.4-1.7-1.5-1.7 2.2-1.7-1.7-1.7-.2-1.7-1.6-1.7-5-1.7-2.6z" fill="#1f77b4" fill-opacity=".34"/>
<path d="M28.8 961l1.7 4.7 1.7 2.7 1.7 3.5 1.7-2.8 1.7 3.2 1.7 1.8 1.7-2.9 1.7 .1 1.7 3.5 1.8-1.2 1.7-.4 1.7 0 1.7-1 1.7-3.4 1.7-.3 1.7-2.8 1.7 1.7 1.7-2.4 1.7 .3 1.8 1.3 1.7-.9 1.7-2.4 1.7 3.1 1.7-1.1 1.7 .4 1.7 1.1 1.7-.7 1.7 .3 1.7-1.3 1.8 4.5 1.7 3.1 1.7-4 1.7 10.9" stroke="#1f77b4" stroke-width="1.05" fill="none" stroke-linejoin="round"/>
<path d="M38.6 958.6l1.7 3 1.7-3.3 1.7 .9 1.7-.6 1.7 .2 1.7 .7 1.7-.5 1.7-3.5 1.7-4.1 1.7-.3 1.7-2.9 1.7 1.8 1.8 3 1.7-4.9 1.7 1.3 1.7 2.7 1.7 1.1 1.7-3.1 1.7 .1 1.7-1.5 1.7 2.8 1.7-2.2 1.7-.6 1.7 6.2 0 6.6-1.7-5.6-1.7 .5-1.7 2.8-1.7-2.2-1.7 1.4-1.7 .1-1.7 5.3-1.7-.1-1.7-1.8-1.7-.8-1.7 4.5-1.8 1.2-1.7-1.6-1.7 5.6-1.7 .2-1.7 2.3-1.7 3.8-1.7 6.9-1.7-1.8-1.7 4.3-1.7-.6-1.7 1.1-1.7 5.2-1.7-3.4z" fill="#ff7f0e" fill-opacity=".3"/>
<path d="M38.6 975.2l1.7 0 1.7-1.6 1.7 .7 1.7-.4 1.7-3.7 1.7 .5 1.7-2.6 1.7-4.3 1.7-2.4 1.7-.9 1.7-2.4 1.7 .7 1.8 .2 1.7-4.2 1.7 1.2 1.7 2 1.7 .4 1.7-4 1.7-.2 1.7-.8 1.7 1.6 1.7-2.4 1.7 .1 1.7 5" stroke="#ff7f0e" stroke-width="1.05" fill="none" stroke-linejoin="round"/>
</g>
<path d="M22.4 935.8l4.2 0 10.9-4.3 6.6-3.3 32.8-.4 8.9 8 0 0" stroke="#1f77b4" stroke-width=".65" fill="none"/>
<use href="#o20" y="78.9"/>
<text x="25.7" y="1000.5" class="st">RLS.HN, 355 events</text>
<text x="20.2" y="967.1" class="tk" text-anchor="end">2.0</text>
<text x="20.2" y="978.9" class="tk" text-anchor="end">1.0</text>
<text x="20.2" y="990.8" class="tk" text-anchor="end">0.5</text>
<text transform="translate(11.8 971.8) rotate(-90)" class="yl" text-anchor="middle">HVSR</text>
<text transform="translate(10.2 931.9) rotate(-90)" class="vl" text-anchor="middle">Valid (%)</text>
<use href="#g21" y="78.9"/>
<clipPath id="k45"><rect x="93.4" y="937.7" width="63.2" height="66.8"/></clipPath><g clip-path="url(#k45)">
<path d="M105.2 959.5l1.7 1.5 1.7 .9 1.8-.7 1.7-.1 1.7-1 1.7-.9 1.7-.2 1.7 2.7 1.7-6.1 1.8 1.4 1.7-3.9 1.7 .1 1.7-2.2 1.7 4.4 1.7-.3 1.7 3.9 1.7 6.6 1.8 2.6 1.7-7.1 1.7-1.9 1.7-.1 1.7 0 1.7 8.5 1.7 4.8 1.8 3.4 1.7 3.2 1.7 5.7 1.7 .1 1.7 1.5 1.7 .1 0 5.7-1.7 .9-1.7-1.3-1.7-1-1.7-5.7-1.7-3.6-1.8-2.3-1.7-6.3-1.7-7-1.7-.5-1.7 1-1.7 1.9-1.7 7.5-1.8-1.2-1.7-7.7-1.7-3.3-1.7 1.3-1.7-3.6-1.7 2.9-1.7 2-1.7 1.6-1.8 1.5-1.7 3.8-1.7 1.4-1.7-.4-1.7 .8-1.7 4.3-1.7-1.9-1.8-.6-1.7 5-1.7-2.7z" fill="#1f77b4" fill-opacity=".34"/>
<path d="M105.2 969.8l1.7 1.3 1.7-1.8 1.8 0 1.7 .4 1.7-3 1.7-.5 1.7 0 1.7 1 1.7-4.1 1.8-.5 1.7-2.7 1.7-1.4 1.7-3.2 1.7 5.2 1.7-1.1 1.7 3.6 1.7 7.3 1.8 2.3 1.7-7.4 1.7-2.6 1.7-.1 1.7-.3 1.7 8 1.7 5.2 1.8 2.9 1.7 4.2 1.7 4.6 1.7 1 1.7 1.6 1.7-.3" stroke="#1f77b4" stroke-width="1.05" fill="none" stroke-linejoin="round"/>
<path d="M108.5 967.6l1.7-6 1.8-2.4 1.7 .7 1.7-3.7 1.8 .2 1.7-.7 1.7-3.3 1.8-1.5 1.7-3.4 1.7-1.2 1.7-2.4 1.8 .7 1.7 4.4 1.7-1 1.8 2.6 1.7-.9 1.7-4.3 1.8-.6 1.7-1.1 1.7 6.1 1.8 6.3 1.7 3 1.7 4.3 1.8 2.8 0 6.4-1.8-2.3-1.7-3.1-1.7-2.7-1.8-6.4-1.7-5.1-1.7 2.8-1.8-.4-1.7 5.2-1.7 3.7-1.8-2-1.7-2.1-1.7-2.4-1.8-.5-1.7 1.8-1.7 2.8-1.7 4.7-1.8-.4-1.7 4.7-1.7 4-1.8-4-1.7 5.4-1.7-.8-1.8 5.7-1.7 3.8z" fill="#ff7f0e" fill-opacity=".3"/>
<path d="M108.5 976.3l1.7-4.7 1.8-3.3 1.7-.5 1.7-4.1 1.8 1.8 1.7-3.6 1.7-1.7 1.8-.8 1.7-4.3 1.7-2.5 1.7-1.3 1.8-.3 1.7 3.7 1.7 .5 1.8 2 1.7-2.5 1.7-4.1 1.8-.6 1.7-2.3 1.7 6.8 1.8 5.2 1.7 3.3 1.7 3.7 1.8 3.1" stroke="#ff7f0e" stroke-width="1.05" fill="none" stroke-linejoin="round"/>
</g>
<path d="M93.4 935.8l4.2 0 13.1-4.3 8.7-3.3 26.3-.4 10.9 8 0 0" stroke="#1f77b4" stroke-width=".65" fill="none"/>
<use href="#o21" y="78.9"/>
<text x="96.7" y="1000.5" class="st">SIVA.HN, &#160;78 events</text>
<use href="#g22" y="78.9"/>
<clipPath id="k46"><rect x="164.4" y="937.7" width="63.1" height="66.8"/></clipPath><g clip-path="url(#k46)">
<path d="M174 945.2l1.8 4.6 1.7 6.5 1.8 2.7 1.7 4.4 1.8-5.5 1.7 2.8 1.8 .5 1.7-.6 1.8 1 1.7-2.4 1.8 1.4 1.7-2.1 1.8 2 1.7-4.9 1.8-2.2 1.7 3.1 1.8-2.3 1.7-2.3 1.8-.2 1.7-.3 1.8-3.5 1.7-.2 1.8 11.4 1.7 6.7 1.8-4.1 1.7-1.8 1.8-10.1 1.7-15.2 1.8 5.9 1.7-9.6 1.8 15.8 0 92.1-1.8-21.6-1.7-5.7-1.8-11.5-1.7-5.9-1.8-7.7-1.7-8.9-1.8 .3-1.7-9.9-1.8-9.1-1.7-1.4-1.8 2.1-1.7 2-1.8-1-1.7 3.8-1.8 2.3-1.7-2.3-1.8 2.4-1.7 5.6-1.8-1.6-1.7 4.2-1.8-1.7-1.7 2.1-1.8 .7-1.7 1.1-1.8 4.4-1.7-3-1.8 4.3-1.7-4.6-1.8-2.5-1.7-3.5-1.8-6.4z" fill="#1f77b4" fill-opacity=".34"/>
<path d="M174 956.6l1.8 5 1.7 4.4 1.8 2.9 1.7 2.8 1.8-2.3 1.7 2.3 1.8-2.3 1.7-1.3 1.8 .3 1.7-1 1.8 .6 1.7-2.8 1.8 .3 1.7-3.8 1.8-2.6 1.7 2.2 1.8-2.8 1.7-2.3 1.8 0 1.7-.7 1.8-2.4 1.7-.1 1.8 10.5 1.7 7.6 1.8-1.2 1.7 2.1 1.8-1.2 1.7 1.9 1.8 2.3 1.7-4.8 1.8 21.4" stroke="#1f77b4" stroke-width="1.05" fill="none" stroke-linejoin="round"/>
<path d="M180.6 964.9l1.7-3.2 1.7-2.1 1.7 .9 1.7 .8 1.7-6.8 1.7 6.1 1.7-4.3 1.7-1.8 1.7 2.6 1.7-2.5 1.7-1.5 1.7-2.7 1.8-.1 1.7-.6 1.7-1.7 1.7-2 1.7-3.4 1.7-3.4 1.7 4 1.7 12 1.7 3.9 1.7-1.4 1.7-1.6 1.7 1.4 0 6.5-1.7-1.7-1.7 1.8-1.7 1.9-1.7-3.6-1.7-11.6-1.7-4.7-1.7 4.9-1.7 3.7-1.7 3.3-1.7 .6-1.7 2.4-1.8-.3-1.7 4.2-1.7 2.4-1.7 4.6-1.7 .2-1.7-.6-1.7 6.8-1.7-.9-1.7 2.5-1.7 4.3-1.7 .5-1.7 1.8-1.7 1.7z" fill="#ff7f0e" fill-opacity=".3"/>
<path d="M180.6 976.3l1.7-2.1 1.7-2.2 1.7 .4 1.7-2.5 1.7-3.8 1.7 2.2 1.7-3.9 1.7-1.5 1.7 1.3 1.7-3.6 1.7-1.2 1.7-3.5 1.8-1.3 1.7-.4 1.7-1.4 1.7-2.8 1.7-3.3 1.7-3.9 1.7 4.5 1.7 11.5 1.7 4.2 1.7-2.2 1.7-1.8 1.7 2" stroke="#ff7f0e" stroke-width="1.05" fill="none" stroke-linejoin="round"/>
</g>
<path d="M164.4 935.8l2 0 8.7-2.1 11-2.2 8.7-3.3 21.9-.4 6.5 3.7 4.3 4.3 0 0" stroke="#1f77b4" stroke-width=".65" fill="none"/>
<use href="#o22" y="78.9"/>
<text x="167.7" y="1000.5" class="st">SKY.HN, &#160;70 events</text>
<use href="#g23" y="78.9"/>
<clipPath id="k47"><rect x="234.7" y="937.7" width="63.2" height="66.8"/></clipPath><g clip-path="url(#k47)">
<path d="M245 964.8l1.7-5.5 1.8-1.6 1.7 .5 1.7 7 1.7 5.6 1.7-3.1 1.7-1.3 1.7-3 1.8 1.9 1.7-5.6 1.7 .4 1.7-.1 1.7 .8 1.7-1.9 1.8 1.8 1.7-3.6 1.7 .3 1.7-.2 1.7-1.4 1.7-.1 1.7 3 1.8 5.2 1.7 3.9 1.7 1.4 1.7-3.1 1.7-.2 1.7 4.1 1.7 5.2 1.8 2.2 1.7-7.2 1.7-9.6 0 6-1.7 10.6-1.7 7-1.8-2.5-1.7-3.8-1.7-4.6-1.7 .5-1.7 2.8-1.7-1.6-1.7-3.2-1.8-4.5-1.7-2.6-1.7 .2-1.7 1.8-1.7 .9-1.7-.2-1.7 2.2-1.8-.2-1.7 2.7-1.7 1.6-1.7-1-1.7 .4-1.7 5.6-1.8 1.9-1.7 4.9-1.7-.4-1.7 5-1.7-6.5-1.7-7.2-1.7-1.7-1.8 2.8-1.7 6.1z" fill="#1f77b4" fill-opacity=".34"/>
<path d="M245 973l1.7-4.2 1.8-2.8 1.7 2.7 1.7 6.5 1.7 4.9 1.7-2.8 1.7-1.4 1.7-4.2 1.8 .3 1.7-5.1 1.7 .2 1.7-.4 1.7-.1 1.7-2.4 1.8 .9 1.7-2.8 1.7 .7 1.7-.3 1.7-1.8 1.7-.1 1.7 2.9 1.8 4.3 1.7 3.5 1.7 1.7 1.7-2.7 1.7-.3 1.7 3.7 1.7 5 1.8 2.4 1.7-7.6 1.7-10.5" stroke="#1f77b4" stroke-width="1.05" fill="none" stroke-linejoin="round"/>
<path d="M250.5 970.4l1.8 1.8 1.7 2.7 1.8-.3 1.7-7.9 1.8 .7 1.8-8.4 1.7-.3 1.8-4.5 1.7-.6 1.8-.5 1.8-1.9 1.7-.6 1.8-3.4 1.7 1.5 1.8 .6 1.8-4.2 1.7 1.3 1.8 5.2 1.7 3.7 1.8 1.8 1.7 4.2 1.8 3.5 1.8 .9 0 6.2-1.8-.7-1.8-1.9-1.7-4.4-1.8-2.2-1.7-2.9-1.8-5.1-1.7 .7-1.8 3.2-1.8-.4-1.7-.2-1.8 5.5-1.7-.8-1.8 1.9-1.8 3-1.7 2.6-1.8 2.4-1.7 1.6-1.8 9.5-1.8 1.1-1.7 5.4-1.8 2.6-1.7-2.4-1.8-3z" fill="#ff7f0e" fill-opacity=".3"/>
<path d="M250.5 979.6l1.8 1 1.7 3.4 1.8-1.5 1.7-5.9 1.8-2.4 1.8-6.4 1.7-1.6 1.8-3.6 1.7-2.6 1.8-1.4 1.8-2 1.7 .3 1.8-3.5 1.7 .3 1.8 .4 1.8-4.4 1.7 1.2 1.8 4.3 1.7 3.6 1.8 1.9 1.7 4.4 1.8 3.5 1.8 .1" stroke="#ff7f0e" stroke-width="1.05" fill="none" stroke-linejoin="round"/>
</g>
<path d="M234.7 935.8l2.7 0 13.1-2.1 13.1-4.4 11-1.5 13.1 .4 10.2 6.6 0 0" stroke="#1f77b4" stroke-width=".65" fill="none"/>
<use href="#o23" y="78.9"/>
<text x="238" y="1000.5" class="st">SMG.HN, &#160;58 events</text>
<text transform="translate(311.3 931.9) rotate(-90)" class="vl" text-anchor="middle">Valid (#)</text>
<use href="#g20" y="157.8"/>
<clipPath id="k48"><rect x="22.4" y="1016.6" width="63.4" height="66.8"/></clipPath><g clip-path="url(#k48)">
<path d="M32 1019.1l1.8 6.1 1.7 8.9 1.8 2 1.7-.2 1.7 2.9 1.8 2 1.7-2.2 1.8 1 1.7 1.4 1.8 1.3 1.7 3.3 1.7-.5 1.8 1.3 1.7-1.5 1.8-.8 1.7 2.4 1.8 2.4 1.7-2 1.7-2.1 1.8-.5 1.7 .5 1.8 3.8 1.7-2.3 1.8-1 1.7 2.7 1.7 1.9 1.8 1.5 1.7 1.3 1.8 2.9 1.7 7.6 1.8-15.5 0 4.5-1.8 16-1.7-7.3-1.8-2.7-1.7-.8-1.8-1.2-1.7-1.2-1.7-3.5-1.8 1.4-1.7 1.6-1.8-1.9-1.7-.7-1.8 1.2-1.7 1.1-1.7 2-1.8-1.2-1.7-1.8-1.8 3.9-1.7 1-1.8-.3-1.7 .3-1.7-2-1.8 1.1-1.7-1-1.8 0-1.7 1.4-1.8 5.2-1.7-3.8-1.7-1.4-1.8-4.7-1.7-7.3-1.8-7.1z" fill="#1f77b4" fill-opacity=".34"/>
<path d="M32 1028l1.8 8.6 1.7 5.8 1.8 4.6 1.7-.1 1.7 3.7 1.8-1.2 1.7-1.3 1.8-1 1.7 2.7 1.8-1.4 1.7 3.1 1.7-.5 1.8 .4 1.7-.4 1.8-2.3 1.7 1.7 1.8 2.4 1.7-2 1.7-2.3 1.8-.5 1.7 .6 1.8 2.8 1.7-1.9 1.8-1.4 1.7 3.3 1.7 2 1.8 1.3 1.7 .7 1.8 3.4 1.7 7.3 1.8-16.3" stroke="#1f77b4" stroke-width="1.05" fill="none" stroke-linejoin="round"/>
<path d="M38.6 1037.3l1.7-3.4 1.7 5.5 1.7 .2 1.7-2.7 1.7 .1 1.7 4.6 1.7-4.9 1.7-1.8 1.7-2.5 1.7-2.3 1.7 1.3 1.7 .9 1.8 2.5 1.7-1.4 1.7 1.6 1.7-3.6 1.7 1.3 1.7 1.7 1.7-2.1 1.7 2.7 1.7 2.8 1.7-.9 1.7 2.4 1.7 2.3 0 5.9-1.7-.2-1.7-2.9-1.7 1-1.7-.7-1.7-3.5-1.7 3.5-1.7-1.3-1.7-1-1.7 2.8-1.7 1.7-1.7 2.7-1.8-1.9-1.7-.7-1.7 3.9-1.7 3.3-1.7 .8-1.7 7-1.7-1.8-1.7 .4-1.7 3.5-1.7 1.2-1.7 .6-1.7-3.6-1.7 8.6z" fill="#ff7f0e" fill-opacity=".3"/>
<path d="M38.6 1052l1.7-2.5 1.7 1.9 1.7-.1 1.7-2.4 1.7 .6 1.7 1.3 1.7-1.5 1.7-4.8 1.7-1.2 1.7-2.8 1.7-.6 1.7 0 1.8 1.4 1.7-.8 1.7-.2 1.7-3.1 1.7 .4 1.7 1.5 1.7-1.9 1.7 2.8 1.7 1.1 1.7-.3 1.7 2.5 1.7 1.1" stroke="#ff7f0e" stroke-width="1.05" fill="none" stroke-linejoin="round"/>
</g>
<path d="M22.4 1014.8l6.4 0 8.7-3.2 10.9-4.4 28.5-.4 8.9 5.9 0 0" stroke="#1f77b4" stroke-width=".65" fill="none"/>
<use href="#o20" y="157.8"/>
<text x="25.7" y="1079.4" class="st">SMTH.HN, &#160;71 events</text>
<text x="20.2" y="1046" class="tk" text-anchor="end">2.0</text>
<text x="20.2" y="1057.8" class="tk" text-anchor="end">1.0</text>
<text x="20.2" y="1069.7" class="tk" text-anchor="end">0.5</text>
<text transform="translate(11.8 1050.7) rotate(-90)" class="yl" text-anchor="middle">HVSR</text>
<text transform="translate(10.2 1010.8) rotate(-90)" class="vl" text-anchor="middle">Valid (%)</text>
<use href="#g21" y="157.8"/>
<clipPath id="k49"><rect x="93.4" y="1016.6" width="63.2" height="66.8"/></clipPath><g clip-path="url(#k49)">
<path d="M104.1 1034.2l1.7 1.8 1.7 1.8 1.7-.2 1.8 3.4 1.7-5.9 1.7 4.6 1.7-3.8 1.7 4.2 1.7-1.7 1.7-2.1 1.7 0 1.7-3.2 1.7 4.1 1.7-3.6 1.7-1.2 1.7 2.9 1.8 .6 1.7-2.9 1.7-.7 1.7 .2 1.7-.1 1.7-4.5 1.7 4.4 1.7 5.8 1.7 5.7 1.7 1.6 1.7 6 1.7-3.7 1.7-4.8 1.8 4.3 1.7 12.2 0 6.9-1.7-12.9-1.8-3.9-1.7 3.8-1.7 5-1.7-5.3-1.7-2.6-1.7-4.9-1.7-4.9-1.7-3.9-1.7 4.1-1.7-.2-1.7 3.2-1.7 .3-1.7 3.6-1.8-1-1.7 .4-1.7 1.1-1.7 3.7-1.7-.5-1.7 4.3-1.7 1.9-1.7 1.3-1.7 .4-1.7 2.7-1.7 .6-1.7-.7-1.7 4-1.8-1.1-1.7 .8-1.7-8-1.7 0z" fill="#1f77b4" fill-opacity=".34"/>
<path d="M104.1 1046.6l1.7 .4 1.7 4 1.7 1.6 1.8-1 1.7-2.7 1.7 .3 1.7-.2 1.7 .7 1.7-2.2 1.7-.6 1.7-1 1.7-3.2 1.7 .9 1.7-2.1 1.7-1.1 1.7 0 1.8 1.3 1.7-2.8 1.7-1.2 1.7-1.1 1.7-.4 1.7-3.5 1.7 3.7 1.7 4.8 1.7 5.8 1.7 1.8 1.7 6.3 1.7-4.7 1.7-4.8 1.8 5.1 1.7 12.3" stroke="#1f77b4" stroke-width="1.05" fill="none" stroke-linejoin="round"/>
<path d="M109.6 1039.7l1.7-3.7 1.7 1.9 1.7-3.5 1.7-2.9 1.7-1.8 1.7 2.7 1.7 2 1.7-3.8 1.7-1.2 1.7-.7 1.7-1.8 1.7 .6 1.8-.9 1.7 .4 1.7-4.5 1.7 .3 1.7-1.7 1.7-.8 1.7-2.5 1.7 .5 1.7 8 1.7 5.6 1.7 7.7 1.7 2.9 0 5.7-1.7-2.9-1.7-5.6-1.7-4.7-1.7-7.3-1.7-1.5-1.7 4-1.7 1-1.7 2.7-1.7 .3-1.7 3.2-1.7 3.7-1.8 .9-1.7 .1-1.7 1.4-1.7 2-1.7 3.1-1.7 6.5-1.7-2.1-1.7-5.8-1.7 4.6-1.7 6.9-1.7 .3-1.7 1-1.7-.6z" fill="#ff7f0e" fill-opacity=".3"/>
<path d="M109.6 1049.8l1.7-.8 1.7-.8 1.7-1.8 1.7-3.1 1.7-5.1 1.7 3.7 1.7 2.5 1.7-3.9 1.7-3.1 1.7-2.4 1.7 .4 1.7-.8 1.8-.7 1.7-1.6 1.7-3.5 1.7-.4 1.7-1.7 1.7-.7 1.7-3.5 1.7 .8 1.7 7.4 1.7 4.7 1.7 7.2 1.7 2.9" stroke="#ff7f0e" stroke-width="1.05" fill="none" stroke-linejoin="round"/>
</g>
<path d="M93.4 1014.8l4.2 0 10.9-2.1 8.7-5.5 30.7-.4 8.7 8 0 0" stroke="#1f77b4" stroke-width=".65" fill="none"/>
<use href="#o21" y="157.8"/>
<text x="96.7" y="1079.4" class="st">TETR.HN, &#160;72 events</text>
<use href="#g22" y="157.8"/>
<clipPath id="k50"><rect x="164.4" y="1016.6" width="63.1" height="66.8"/></clipPath><g clip-path="url(#k50)">
<path d="M170.8 1030.9l1.7-9.8 1.7 4.3 1.7-7.7 1.7 5 1.8 1.6 1.7 6.9 1.7-2.1 1.7 2.4 1.8 6.6 1.7-2.7 1.7 1.9 1.7 2 1.8-.4 1.7 2.1 1.7-.5 1.7 2.9 1.7 .9 1.8-3.1 1.7 2 1.7-1.3 1.7 1.6 1.8-.7 1.7-1.6 1.7 .8 1.7 2.1 1.8-.5 1.7-.4 1.7 2.2 1.7-2.1 1.8 1.2 1.7 2.8 1.7-3.7 1.7 2.8 0 4.8-1.7-1.2-1.7 3.8-1.7-3-1.8-1.3-1.7 4-1.7-2.9-1.7 .6-1.8 .6-1.7-2.3-1.7-.2-1.7 4-1.8 0-1.7-1.4-1.7 2.1-1.7 .4-1.8 1.4-1.7 .6-1.7-.9-1.7 5-1.7 1.4-1.8-2.2-1.7 1.7-1.7 3.8-1.7 3.8-1.8-2.9-1.7 3.8-1.7 0-1.7-3.4-1.8-3.4-1.7-4-1.7 2.2-1.7 2.9-1.7 6.3z" fill="#1f77b4" fill-opacity=".34"/>
<path d="M170.8 1048.8l1.7-5.8 1.7-1.1 1.7-1.5 1.7 1.8 1.8 3.3 1.7 2.9 1.7 1 1.7 .7 1.8 3.6 1.7-3.4 1.7-1.7 1.7 .3 1.8 1.9 1.7-1.3 1.7-1.2 1.7 1.3 1.7 .4 1.8-2.1 1.7-.1 1.7-.9 1.7 1.4 1.8-.5 1.7-2 1.7 0 1.7 2.1 1.8-.3 1.7-.4 1.7 2.3 1.7-3.6 1.8 1.7 1.7 2.8 1.7-4 1.7 2.4" stroke="#1f77b4" stroke-width="1.05" fill="none" stroke-linejoin="round"/>
<path d="M179.5 1038.1l1.7 4.4 1.8 .9 1.8-3.8 1.7-5.9 1.7 1.3 1.8 2.9 1.8 3 1.7-1.4 1.7-2.3 1.8-.3 1.8-1 1.7-.6 1.7-3.3 1.8-.6 1.8-3.2 1.7 7.7 1.7-1.6 1.8-2.1 1.8-.9 1.7 2.4 1.7 3.3 1.8-1.4 1.8-3.5 1.7-2.3 0 7.5-1.7 2.9-1.8 2.9-1.8 2.3-1.7-2.4-1.7-1.2-1.8 1.6-1.8 2.8-1.7 .5-1.7-5.4-1.8 1.9-1.8 4.4-1.7-.2-1.7 3.3-1.8 1.8-1.8 2.5-1.7 3.4-1.7 1.5-1.8-4.2-1.8 .4-1.7 1.3-1.7 2.7-1.8 6.4-1.8-.9-1.7-.1z" fill="#ff7f0e" fill-opacity=".3"/>
<path d="M179.5 1050.9l1.7 3 1.8 .5 1.8-4.5 1.7-3.3 1.7-1.4 1.8 2.8 1.8 3.3 1.7-1.7 1.7-2.6 1.8-3.6 1.8-.7 1.7-1.3 1.7-1.6 1.8-1.8 1.8-3.8 1.7 7.7 1.7-2 1.8-2.5 1.8-1.3 1.7 1.7 1.7 3 1.8-1 1.8-3.5 1.7-2.9" stroke="#ff7f0e" stroke-width="1.05" fill="none" stroke-linejoin="round"/>
</g>
<path d="M164.4 1014.8l4.2 0 10.9-3.2 6.6-4.4 30.6-.4 10.8 7 0 0" stroke="#1f77b4" stroke-width=".65" fill="none"/>
<use href="#o22" y="157.8"/>
<text x="167.7" y="1079.4" class="st">THERA.HN, 104 events</text>
<use href="#g23" y="157.8"/>
<clipPath id="k51"><rect x="234.7" y="1016.6" width="63.2" height="66.8"/></clipPath><g clip-path="url(#k51)">
<path d="M243.9 1037.5l1.7 3.1 1.8-2 1.7 4.6 1.7-.5 1.7-.5 1.7 .9 1.7 1.8 1.7-4.7 1.7-1.5 1.7 4.1 1.7-1.7 1.7-3.1 1.8-.4 1.7 .1 1.7 4.6 1.7-1.7 1.7-1.4 1.7-1.4 1.7 3.4 1.7-.2 1.7 1.8 1.7 2.6 1.7-4 1.8 .9 1.7 4 1.7 .3 1.7 2.7 1.7 .6 1.7 1.9 1.7 .5 1.7 .8 1.7 1.6 0 6.1-1.7-1.1-1.7-.6-1.7-.9-1.7-1.5-1.7-1.6-1.7-1.6-1.7-.1-1.7-3.4-1.8-.5-1.7 2.9-1.7-1-1.7-1.6-1.7 .9-1.7-1.6-1.7 .2-1.7 1.8-1.7 4.5-1.7-5-1.7 3.7-1.8 3-1.7 1.1-1.7 3.8-1.7-4.3-1.7 4.1-1.7 2.7-1.7 1.9-1.7 1.6-1.7-3.9-1.7-.5-1.7-3.3-1.8-1-1.7-2z" fill="#1f77b4" fill-opacity=".34"/>
<path d="M243.9 1047.7l1.7 1.2 1.8 1.4 1.7 3.8 1.7 .1 1.7 .7 1.7 .5 1.7-.8 1.7-3.7 1.7-1.4 1.7 2.8 1.7-2.1 1.7-2.5 1.8-1.2 1.7-1.8 1.7 3.3 1.7-1.9 1.7-1.1 1.7-1.3 1.7 3 1.7-1.2 1.7 1.8 1.7 1.5 1.7-2.9 1.8 .5 1.7 3.3 1.7 .2 1.7 2.2 1.7 1.1 1.7 1.5 1.7 .7 1.7 .9 1.7 1.2" stroke="#1f77b4" stroke-width="1.05" fill="none" stroke-linejoin="round"/>
<path d="M250.5 1056.2l1.7-3 1.7-6.1 1.7-5.1 1.8-2.4 1.7-.2 1.7 7.2 1.7-2.6 1.7-8.1 1.7-4.5 1.7-2.2 1.7 1 1.8 2.3 1.7-.6 1.7-.7 1.7-.1 1.7 .7 1.7 2.3 1.7-5 1.8 3.9 1.7-1 1.7 2.1 1.7 3.3 1.7-.7 1.7 3 0 7.2-1.7-3.2-1.7 1.2-1.7-2.4-1.7-1.1-1.7 .8-1.8-3.4-1.7 3.8-1.7-.7-1.7-.8-1.7 .8-1.7 1.8-1.7 1.3-1.8-2.2-1.7 2.8-1.7 2-1.7 7.5-1.7 6.4-1.7 1.3-1.7-7.8-1.7 3.9-1.8 4.6-1.7 4.1-1.7 3.9-1.7 3.6z" fill="#ff7f0e" fill-opacity=".3"/>
<path d="M250.5 1066.2l1.7-5.4 1.7-3.5 1.7-4.3 1.8-3.4 1.7-2.5 1.7 7.7 1.7-1.1 1.7-8.3 1.7-5.1 1.7-1.9 1.7-1.5 1.8 2.1 1.7-1.1 1.7-.8 1.7-.8 1.7 1.1 1.7 .6 1.7-4.4 1.8 3.9 1.7-1.1 1.7 2 1.7 2.5 1.7-.7 1.7 3.1" stroke="#ff7f0e" stroke-width="1.05" fill="none" stroke-linejoin="round"/>
</g>
<path d="M234.7 1014.8l7.1 0 6.5-3.2 6.6-4.4 37.2-.4 5.8 8 0 0" stroke="#1f77b4" stroke-width=".65" fill="none"/>
<use href="#o23" y="157.8"/>
<text x="238" y="1079.4" class="st">THL.HN, 119 events</text>
<text transform="translate(311.3 1010.8) rotate(-90)" class="vl" text-anchor="middle">Valid (#)</text>
<use href="#g20" y="236.7"/>
<clipPath id="k52"><rect x="22.4" y="1095.5" width="63.4" height="66.8"/></clipPath><g clip-path="url(#k52)">
<path d="M28.8 1108.4l1.7-2.9 1.7 1.8 1.7 .5 1.7 1.5 1.8 1.7 1.7 3 1.7-3.7 1.7 2.4 1.8 3.3 1.7 1.6 1.7 .7 1.7-5.7 1.8 2.2 1.7 6.5 1.7 3.9 1.7 4.9 1.7 1.5 1.8-5.9 1.7 0 1.7-1.5 1.7 1.8 1.8 1.8 1.7-7.8 1.7 4 1.7 .5 1.8 1.7 1.7 1.5 1.7 1.9 1.7-2.5 1.8-3.1 1.7-1.2 1.7 2.7 1.7 16.9 0 6.3-1.7-16.9-1.7-3.3-1.7 2.5-1.8 2.6-1.7 2.9-1.7-1.4-1.7-2.4-1.8-.9-1.7 .7-1.7-4-1.7 7.3-1.8 0-1.7-2.6-1.7 3.1-1.7-.9-1.8 7.6-1.7-.8-1.7-3.8-1.7-5.6-1.7-5.5-1.8 1.8-1.7 4.1-1.7 3.7-1.7 .1-1.8-2-1.7 1.8-1.7 3.2-1.7-1.9-1.8-1.6-1.7-.2-1.7-2-1.7 4-1.7 .1z" fill="#1f77b4" fill-opacity=".34"/>
<path d="M28.8 1121.2l1.7-.1 1.7 1 1.7 1.5 1.7-2.2 1.8 3.7 1.7 .6 1.7-1.3 1.7-2.1 1.8 2.6 1.7 1.2 1.7-.7 1.7-4.1 1.8 .3 1.7 5.6 1.7 3.8 1.7 4.9 1.7 1 1.8-6.1 1.7 .3 1.7-2.9 1.7 2.2 1.8 1.2 1.7-7 1.7 3.9 1.7 .3 1.8 .9 1.7 2.1 1.7 1.7 1.7-3.6 1.8-2.4 1.7-1.8 1.7 2.8 1.7 16.7" stroke="#1f77b4" stroke-width="1.05" fill="none" stroke-linejoin="round"/>
<path d="M38.6 1117.7l1.7-.9 1.7 .9 1.7-3.5 1.7-3.5 1.7 3.2 1.7-1.4 1.7-3.1 1.7-4.9 1.7 5.9 1.7 2.8 1.7 8.7 1.7 .9 1.8-5.9 1.7-6.4 1.7 2.1 1.7 .5 1.7 2.1 1.7-1.8 1.7-3.1 1.7 .8 1.7 1.5 1.7 2.4 1.7 2.2 1.7 3.1 0 6.9-1.7-1.8-1.7-2.5-1.7-2.5-1.7-2.4-1.7 1.7-1.7 1.9-1.7 4.4-1.7-3.1-1.7-.7-1.7 .7-1.7 5.5-1.8 7.9-1.7-.1-1.7-8.3-1.7-3.6-1.7-2.1-1.7 6-1.7 3.1-1.7 1.5-1.7 3.1-1.7 4.7-1.7 1.5-1.7 5.2-1.7-7.1z" fill="#ff7f0e" fill-opacity=".3"/>
<path d="M38.6 1128.8l1.7 3.2 1.7-2.6 1.7-2 1.7-4.1 1.7 .9 1.7-2.5 1.7-4 1.7-3.9 1.7 3.8 1.7 3.4 1.7 7.4 1.7 .6 1.8-5.8 1.7-6.3 1.7 0 1.7 1.3 1.7 2.4 1.7-3.3 1.7-1.8 1.7-.9 1.7 1.9 1.7 2.4 1.7 2.4 1.7 2.1" stroke="#ff7f0e" stroke-width="1.05" fill="none" stroke-linejoin="round"/>
</g>
<path d="M22.4 1093.8l4.2 0 10.9-3.2 10.9-4.4 24.1-.4 13.3 8 0 0" stroke="#1f77b4" stroke-width=".65" fill="none"/>
<use href="#o20" y="236.7"/>
<text x="25.7" y="1158.3" class="st">THVB.HN, &#160;46 events</text>
<text x="20.2" y="1124.9" class="tk" text-anchor="end">2.0</text>
<text x="20.2" y="1136.7" class="tk" text-anchor="end">1.0</text>
<text x="20.2" y="1148.6" class="tk" text-anchor="end">0.5</text>
<text transform="translate(11.8 1129.6) rotate(-90)" class="yl" text-anchor="middle">HVSR</text>
<text transform="translate(10.2 1089.7) rotate(-90)" class="vl" text-anchor="middle">Valid (%)</text>
<use href="#g21" y="236.7"/>
<clipPath id="k53"><rect x="93.4" y="1095.5" width="63.2" height="66.8"/></clipPath><g clip-path="url(#k53)">
<path d="M103 1117.1l1.8-6 1.7 7.3 1.8 2.3 1.7 3.9 1.7 1.2 1.8-1.3 1.7-1.8 1.8 1 1.7 .5 1.8-.6 1.7-2.7 1.7 2.3 1.8 3 1.7-2.3 1.8-2.7 1.7 1 1.8 .5 1.7-2.7 1.7 .4 1.8 .4 1.7-.8 1.8-.4 1.7 .2 1.8-1.4 1.7 2.6 1.7 2.7 1.8-.3 1.7 4.2 1.8 5.5 1.7 1.5 1.8 3 0 6-1.8-2.5-1.7-2.4-1.8-5.1-1.7-3.5-1.8 .7-1.7-2.6-1.7-2.4-1.8 1.3-1.7 .9-1.8-1-1.7 1.9-1.8 1-1.7-.8-1.7 2.8-1.8 1.7-1.7-1.2-1.8 3.3-1.7 2.3-1.8-.2-1.7-4-1.7 5.1-1.8 1.3-1.7-2.7-1.8 .6-1.7 6.3-1.8 1.1-1.7-4.1-1.7 1.6-1.8-2.5-1.7-1-1.8 3.6z" fill="#1f77b4" fill-opacity=".34"/>
<path d="M103 1129.9l1.8-4 1.7 3.3 1.8 4 1.7 .3 1.7 2.6 1.8-1.8 1.7-3.1 1.8-.5 1.7 2.2 1.8-2.4 1.7-3.2 1.7 3.8 1.8 .2 1.7-2.5 1.8-1.9 1.7 .7 1.8 0 1.7-3 1.7 1.1 1.8-.8 1.7-1.2 1.8 .4 1.7-.5 1.8-1.6 1.7 2.1 1.7 2.9 1.8 .2 1.7 3.6 1.8 5.2 1.7 1.5 1.8 3.4" stroke="#1f77b4" stroke-width="1.05" fill="none" stroke-linejoin="round"/>
<path d="M109.6 1132.5l1.7-6 1.7-1.8 1.7-1.5 1.7-6.2 1.7-1.5 1.7 .3 1.7-2.2 1.7-2.2 1.7 2 1.7-.2 1.7-1 1.7-.9 1.8 3.2 1.7-2.7 1.7 .3 1.7-1.2 1.7-1.2 1.7 4 1.7-6.5 1.7 3.2 1.7 2.1 1.7 1 1.7 1.8 1.7 1 0 7.3-1.7-1.1-1.7 .2-1.7-.3-1.7-2.9-1.7-2-1.7 5.9-1.7-3.2-1.7 1.2-1.7 4.4-1.7-2.1-1.7 2.6-1.8 .3-1.7 1.7-1.7-.8-1.7 1.3-1.7 2.4-1.7 1.3-1.7 .8-1.7 .3-1.7 2.8-1.7 5.3-1.7 6.7-1.7-.2-1.7 6.2z" fill="#ff7f0e" fill-opacity=".3"/>
<path d="M109.6 1144.2l1.7-5.1 1.7-2.4 1.7-3.9 1.7-4.5 1.7-3.8 1.7 1.1 1.7-2.1 1.7-1.8 1.7-1.1 1.7-.4 1.7-.6 1.7-.4 1.8 1.6 1.7-3.2 1.7 1.3 1.7-2 1.7-2 1.7 3 1.7-5.1 1.7 2.4 1.7 2.2 1.7 .7 1.7 .3 1.7 1.7" stroke="#ff7f0e" stroke-width="1.05" fill="none" stroke-linejoin="round"/>
</g>
<path d="M93.4 1093.8l4.2 0 10.9-2.1 19.7-5.9 17.5 .4 10.9 7.6 0 0" stroke="#1f77b4" stroke-width=".65" fill="none"/>
<use href="#o21" y="236.7"/>
<text x="96.7" y="1158.3" class="st">TNSA.HN, 152 events</text>
<use href="#g22" y="236.7"/>
<clipPath id="k54"><rect x="164.4" y="1095.5" width="63.1" height="66.8"/></clipPath><g clip-path="url(#k54)">
<path d="M170.8 1121.4l1.7 .2 1.7-8.3 1.7-7.9 1.7-1.9 1.8 .1 1.7 1.7 1.7 9.6 1.7 .9 1.8-3.7 1.7 3 1.7-1.2 1.7 1.2 1.8 2.6 1.7 .2 1.7-5.7 1.7 .7 1.7 2.5 1.8 5.2 1.7-.1 1.7-4 1.7 2.6 1.8-.1 1.7 1.1 1.7-1.1 1.7 1.9 1.8 .6 1.7 3.7 1.7 3.2 1.7-2.2 1.8 1.7 1.7 2.9 1.7-.3 1.7-.8 0 6.7-1.7 .1-1.7 .4-1.7-2.5-1.8-1.1-1.7 1.2-1.7-3.3-1.7-2.5-1.8-.5-1.7-1.3-1.7 1.2-1.7-1.1-1.8 1.5-1.7-1.4-1.7 5.8-1.7-1.7-1.8-1-1.7-1.9-1.7-.6-1.7 10.9-1.7 1.6-1.8-4.4-1.7-.7-1.7 7.8-1.7 .9-1.8 4.6-1.7-.2-1.7 3-1.7-1.1-1.8-11.3-1.7 2.4-1.7 6.1-1.7 3.1-1.7-.3z" fill="#1f77b4" fill-opacity=".34"/>
<path d="M170.8 1136.5l1.7-1.7 1.7-4.3 1.7-4.3 1.7-3.7 1.8 5.6 1.7 0 1.7 2 1.7-.7 1.8 .9 1.7-3.6 1.7-2.9 1.7 1.7 1.8 3.5 1.7-1.1 1.7-7.1 1.7-.7 1.7 3.1 1.8 2.7 1.7 .4 1.7-3.5 1.7 .9 1.8-.9 1.7 .8 1.7-1.1 1.7 2.5 1.8 .3 1.7 3 1.7 3 1.7-1.4 1.8 1.4 1.7 3 1.7-1 1.7-.1" stroke="#1f77b4" stroke-width="1.05" fill="none" stroke-linejoin="round"/>
<path d="M180.6 1131.8l1.8-4.7 1.7-4.5 1.8-.7 1.7-3.3 1.8-3.5 1.8-.8 1.7-3.2 1.8 .1 1.7-3 1.8-1.6 1.7 5.1 1.8-2.4 1.8-1.2 1.7 1.6 1.8-4.3 1.7-1.9 1.8 3.2 1.8 .2 1.7-.2 1.8 4.9 1.7 2.9 1.8 2.2 1.8 1.7 0 7.5-1.8-2.2-1.8-1.9-1.7-2.2-1.8-4.6-1.7 .9-1.8-.2-1.8 0-1.7 .7-1.8 5.8-1.7-.6-1.8 1.4-1.8 3.8-1.7-6.7-1.8 5-1.7 2.8-1.8-.7-1.7 7.8-1.8-1.4-1.8 4.7-1.7 1.7-1.8 4.6-1.7 1.3-1.8 7.5z" fill="#ff7f0e" fill-opacity=".3"/>
<path d="M180.6 1142l1.8-5.3 1.7-1.3 1.8-3.8 1.7-3.5 1.8-2.2 1.8-1.7 1.7-4.3 1.8-1.6 1.7-.5 1.8-3.9 1.7 5.9 1.8-4 1.8-.3 1.7-.6 1.8-4.5 1.7-1.1 1.8 2.1 1.8-.1 1.7-.2 1.8 4.4 1.7 3 1.8 1.7 1.8 2.1" stroke="#ff7f0e" stroke-width="1.05" fill="none" stroke-linejoin="round"/>
</g>
<path d="M164.4 1093.8l4.2 0 10.9-2.1 17.5-5.5 6.6-.4 13.1 0 10.8 8 0 0" stroke="#1f77b4" stroke-width=".65" fill="none"/>
<use href="#o22" y="236.7"/>
<text x="167.7" y="1158.3" class="st">VAM.HN, 171 events</text>
<use href="#g23" y="236.7"/>
<clipPath id="k55"><rect x="234.7" y="1095.5" width="63.2" height="66.8"/></clipPath><g clip-path="url(#k55)">
<path d="M235.2 1115.7l1.7 1.2 1.7-.7 1.7-2.1 1.7-2.1 1.8 4.3 1.7-4.3 1.7 3.9 1.7 3 1.7 .2 1.7 1 1.7-4 1.8 1.3 1.7-.9 1.7 2.3 1.7-2.4 1.7 .3 1.7-1.8 1.7-2 1.8-3 1.7 4.4 1.7 5.4 1.7 .4 1.7-1 1.7 3.9 1.8 .8 1.7-.1 1.7 2.2 1.7 2.6 1.7-.2 1.7 1.3 1.7 0 1.8 .7 1.7-.2 1.7 3.2 1.7 0 1.7 2.6 1.7-4.8 0 6.5-1.7 3.5-1.7-1.5-1.7 .9-1.7-4.2-1.7 .5-1.8-.4-1.7 .4-1.7-1.8-1.7 .1-1.7-2.1-1.7-1.3-1.7-.7-1.8 .8-1.7-4.7-1.7 2.8-1.7 .4-1.7-4.4-1.7-4.8-1.8 3.5-1.7 1.9-1.7 5.3-1.7 1.5-1.7 4.1-1.7 2.2-1.7 5.3-1.8 1.4-1.7-1.8-1.7 4.8-1.7-.6-1.7-4.3-1.7 1.7-1.7-2.8-1.8-2.7-1.7-4.6-1.7 1.4-1.7-3.3-1.7-3.2z" fill="#1f77b4" fill-opacity=".34"/>
<path d="M235.2 1123.4l1.7 2 1.7 1.2 1.7 .1 1.7-.7 1.8 4 1.7 .3 1.7 1 1.7 1.1 1.7 2 1.7-2.6 1.7-.3 1.8-1.7 1.7-1 1.7-1 1.7-2.9 1.7-1.4 1.7-2.9 1.7-2.4 1.8-1.9 1.7 3.2 1.7 5.2 1.7 1 1.7-2.3 1.7 4.1 1.8-.1 1.7 .1 1.7 1.4 1.7 2.9 1.7-.4 1.7 1.5 1.7 0 1.8 1.3 1.7-1 1.7 3.7 1.7 .1 1.7 1.4 1.7-4.1" stroke="#1f77b4" stroke-width="1.05" fill="none" stroke-linejoin="round"/>
<path d="M251.6 1124.8l1.8 .8 1.7-2.5 1.8-3 1.7 .2 1.8-.4 1.8-.4 1.7-4.4 1.8-4.7 1.7-2.1 1.8-4.8 1.7 8.3 1.8 1.9 1.8-2.8 1.7 2.4 1.8 2.1 1.7-2.3 1.8 2.5 1.8 2.2 1.7-.8 1.8 2.8 1.7 1.6 1.8-1.9 1.8 2.2 0 6.5-1.8-2.2-1.8 2.5-1.7-.7-1.8-3.5-1.7 2.5-1.8-1.6-1.8-3.1-1.7 1.9-1.8-.4-1.7-1.1-1.8 4.6-1.8 .2-1.7-10.5-1.8 5.4-1.7 4.9-1.8 4.6-1.7 5.7-1.8 1.4-1.8 2.4-1.7 2.2-1.8 .7-1.7 2.4-1.8 1.2z" fill="#ff7f0e" fill-opacity=".3"/>
<path d="M251.6 1135.4l1.8-.9 1.7-1.9 1.8-1.2 1.7-1.3 1.8 .3 1.8-1.8 1.7-5.5 1.8-5.4 1.7-2.9 1.8-4.6 1.7 9.8 1.8-.3 1.8-2.3 1.7 .9 1.8 1.4 1.7-1.9 1.8 2.5 1.8 1.4 1.7-.9 1.8 2.4 1.7 1.2 1.8-1.5 1.8 1.6" stroke="#ff7f0e" stroke-width="1.05" fill="none" stroke-linejoin="round"/>
</g>
<path d="M234.7 1093.8l.5 0 10.9-2.1 13.1-3.3 8.8-2.2 19.7-.4 10.2 5.9 0 0" stroke="#1f77b4" stroke-width=".65" fill="none"/>
<use href="#o23" y="236.7"/>
<text x="238" y="1158.3" class="st">VLI.HN, 150 events</text>
<text transform="translate(311.3 1089.7) rotate(-90)" class="vl" text-anchor="middle">Valid (#)</text>
<use href="#g20" y="315.6"/>
<clipPath id="k56"><rect x="22.4" y="1174.4" width="63.4" height="66.8"/></clipPath><g clip-path="url(#k56)">
<path d="M38.6 1196l1.8-1.6 1.7 4.3 1.8-2.5 1.7-.8 1.8 3.8 1.7-4.2 1.8-.1 1.8-2.2 1.7-1.2 1.8 4 1.7-5.9 1.8 4.3 1.7-.2 1.8-1.3 1.8 .2 1.7 .9 1.8-2.1 1.7 1.5 1.8-1.2 1.8 2.9 1.7 4.2 1.8-.9 1.7 3.9 1.8 7.1 1.7 1.6 1.8-1.3 1.8 3.6 0 5.4-1.8-3.6-1.8 1.7-1.7-.3-1.8-8.7-1.7-2.3-1.8 .8-1.7-3.4-1.8-4-1.8 2.8-1.7-.1-1.8 2.1-1.7-.7-1.8 0-1.8 1.7-1.7 .3-1.8-2.6-1.7 7.5-1.8-2-1.7 1.1-1.8 3.3-1.8 3.8-1.7 4.7-1.8-3.6-1.7-2.3-1.8 2.8-1.7-2.8-1.8 5.4z" fill="#1f77b4" fill-opacity=".34"/>
<path d="M38.6 1206.8l1.8-1.8 1.7 3.3 1.8-3 1.7-.1 1.8 3.9 1.7-3.6 1.8-2.2 1.8-1.3 1.7-2 1.8 2.9 1.7-6.9 1.8 3.2 1.7 .2 1.8-2.1 1.8 1.1 1.7-.1 1.8-2.2 1.7 .4 1.8-1.3 1.8 3.2 1.7 3.3 1.8-.5 1.7 3.5 1.8 7.7 1.7 1.1 1.8-1.4 1.8 3.4" stroke="#1f77b4" stroke-width="1.05" fill="none" stroke-linejoin="round"/>
<path d="M38.6 1202.1l1.7-6.5 1.7 3.7 1.7-3.9 1.7 1 1.7 5.6 1.7-5.8 1.7-3.2 1.7-4.5 1.7-2.8 1.7 6.3 1.7-4.1 1.7-2 1.8 1 1.7 2 1.7-1.2 1.7-2.2 1.7-1.7 1.7-5.5 1.7 2.6 1.7 1.1 1.7 1.6 1.7 3.5 1.7 2.8 1.7 5.4 0 6.8-1.7-3.9-1.7-2.7-1.7-3.4-1.7-1.8-1.7 .2-1.7-1-1.7 6.2-1.7 1.3-1.7 2.6-1.7 .8-1.7-1.2-1.8-.3-1.7 4.7-1.7 2.5-1.7-4.4-1.7 4.3-1.7 4.4-1.7 6.3-1.7 6.7-1.7-5.6-1.7 4.1-1.7 .3-1.7-.8-1.7 6z" fill="#ff7f0e" fill-opacity=".3"/>
<path d="M38.6 1213.3l1.7-2.4 1.7 .2 1.7-2.8 1.7-.4 1.7 4.7 1.7-6.6 1.7-3.6 1.7-6.4 1.7-1.3 1.7 3.7 1.7-2.5 1.7-3.1 1.8-.6 1.7 1.8 1.7-1.1 1.7-2.3 1.7-1.1 1.7-5.9 1.7 2.8 1.7-.2 1.7 1.7 1.7 3.4 1.7 2.7 1.7 5.1" stroke="#ff7f0e" stroke-width="1.05" fill="none" stroke-linejoin="round"/>
</g>
<path d="M22.4 1172.8l10.7 0 11-4.3 8.7-3.7 24.1 0 8.9 3.7 0 0" stroke="#1f77b4" stroke-width=".65" fill="none"/>
<use href="#o20" y="315.6"/>
<text x="25.7" y="1237.2" class="st">VLMN.HN, &#160;56 events</text>
<text x="20.2" y="1203.8" class="tk" text-anchor="end">2.0</text>
<text x="20.2" y="1215.6" class="tk" text-anchor="end">1.0</text>
<text x="20.2" y="1227.5" class="tk" text-anchor="end">0.5</text>
<text transform="translate(11.8 1208.5) rotate(-90)" class="yl" text-anchor="middle">HVSR</text>
<text transform="translate(10.2 1168.6) rotate(-90)" class="vl" text-anchor="middle">Valid (%)</text>
<text x="35.8" y="1248.1" class="tx" text-anchor="middle">0.1</text>
<text x="55.6" y="1248.1" class="tx" text-anchor="middle">1</text>
<text x="75.4" y="1248.1" class="tx" text-anchor="middle">10</text>
<text x="54.6" y="1253.6" class="xl" text-anchor="middle">frequency (Hz)</text>
<use href="#g21" y="315.6"/>
<clipPath id="k57"><rect x="93.4" y="1174.4" width="63.2" height="66.8"/></clipPath><g clip-path="url(#k57)">
<path d="M99.8 1177.1l1.7 0 1.7 12.3 1.8-1.6 1.7-.8 1.7 4.9 1.8-6.8 1.7 5.3 1.7 .2 1.8 2.9 1.7-2 1.8 3.3 1.7 1 1.7 .1 1.8 2.1 1.7 1.7 1.7-4 1.8 2.3 1.7 1.3 1.7-1.8 1.8 0 1.7-1.6 1.8-1.6 1.7-.8 1.7 .4 1.8-.2 1.7-.2 1.7-.7 1.8-1.3 1.7-1.9 1.8-5 1.7-.6 1.7 5.7 1.8 10.2 0 6.4-1.8-11.1-1.7-4.5-1.7 1.5-1.8 2.9-1.7 2.3-1.8 2.8-1.7 .7-1.7 .1-1.8 1.3-1.7 .5-1.7 2.4-1.8 1.1-1.7 2.2-1.8 2.5-1.7-.2-1.7 3.8-1.8 .5-1.7 3.9-1.7-2.8-1.8 2.8-1.7 2-1.7 5-1.8-.7-1.7 4.4-1.8 .6-1.7-2.2-1.7 1-1.8-2.7-1.7 6.6-1.7-9.4-1.8 3.2-1.7-6.8-1.7-3.6z" fill="#1f77b4" fill-opacity=".34"/>
<path d="M99.8 1194.7l1.7 4.4 1.7 6.7 1.8 .7 1.7 2.5 1.7-.2 1.8-.3 1.7 2 1.7 .3 1.8-.8 1.7-2.5 1.8 2 1.7-.8 1.7-.3 1.8-.7 1.7 1.5 1.7-3.9 1.8 .3 1.7-.5 1.7-.9 1.8-.7 1.7-1.4 1.8-2.3 1.7-1.4 1.7-.2 1.8-1.4 1.7 .9 1.7-1.4 1.8-2 1.7-2 1.8-3.9 1.7-1.2 1.7 4.9 1.8 11.4" stroke="#1f77b4" stroke-width="1.05" fill="none" stroke-linejoin="round"/>
<path d="M109.6 1209.2l1.7-5.2 1.7-1.1 1.7-4 1.7 .7 1.7 2 1.7-2.8 1.7 .4 1.7-.6 1.7-2.4 1.7 2 1.7-2.9 1.7-1 1.8-1.2 1.7 .5 1.7-1 1.7 0 1.7-3.5 1.7 .1 1.7-.5 1.7-.1 1.7-3.9 1.7-.3 1.7 1.5 1.7-2.7 0 6.3-1.7 3.2-1.7 .5-1.7-.9-1.7 4.4-1.7 1-1.7 1.1-1.7-.3-1.7 5-1.7 2-1.7-.5-1.7 .6-1.8 1.9-1.7 2.5-1.7 4.3-1.7-.5-1.7 4.7-1.7 .5-1.7-.1-1.7 3.4-1.7-3.6-1.7 5.8-1.7 1.1-1.7 3.5-1.7 8.4z" fill="#ff7f0e" fill-opacity=".3"/>
<path d="M109.6 1224.2l1.7-8.2 1.7-2.4 1.7-2.2 1.7-1.9 1.7 1.7 1.7-3.4 1.7 .7 1.7-.3 1.7-2.8 1.7 .8 1.7-4.6 1.7-1.6 1.8-.1 1.7-.5 1.7 .2 1.7-2.2 1.7-3.3 1.7 .5 1.7-1.2 1.7-1 1.7-3.7 1.7-.1 1.7 .8 1.7-3.4" stroke="#ff7f0e" stroke-width="1.05" fill="none" stroke-linejoin="round"/>
</g>
<path d="M93.4 1172.8l4.2 0 13.1-2.1 10.9-5.5 26.3-.4 8.7 4.8 0 0" stroke="#1f77b4" stroke-width=".65" fill="none"/>
<use href="#o21" y="315.6"/>
<text x="96.7" y="1237.2" class="st">VLS.HN, 220 events</text>
<text x="106.8" y="1248.1" class="tx" text-anchor="middle">0.1</text>
<text x="126.5" y="1248.1" class="tx" text-anchor="middle">1</text>
<text x="146.3" y="1248.1" class="tx" text-anchor="middle">10</text>
<text x="125.5" y="1253.6" class="xl" text-anchor="middle">frequency (Hz)</text>
<use href="#g22" y="315.6"/>
<clipPath id="k58"><rect x="164.4" y="1174.4" width="63.1" height="66.8"/></clipPath><g clip-path="url(#k58)">
<path d="M164.2 1190l1.7-2.4 1.7-2.9 1.7 4.4 1.7-4.5 1.8 0 1.7-4.7 1.7-.8 1.7 6.3 1.7 1.2 1.7 8.1 1.7 5.6 1.8 3 1.7-1.5 1.7-3.6 1.7 3.3 1.7-3.3 1.7 1.2 1.7-.4 1.8-2.6 1.7-1.8 1.7 3.8 1.7 3.3 1.7 .3 1.7 2.6 1.8 2.3 1.7 1.8 1.7-.2 1.7 1.4 1.7-2.2 1.7-.6 1.7-.5 1.8-2.2 1.7 1.9 1.7-1.2 1.7-1.9 1.7-2.1 1.7 3.6 0 6.5-1.7-3.9-1.7 2.1-1.7 1.4-1.7 2.3-1.7-1.2-1.8 1.7-1.7 .4-1.7 .3-1.7 3-1.7-1-1.7-.4-1.7-1.8-1.8-.6-1.7-3.8-1.7 1.5-1.7-2.4-1.7-2.3-1.7 .3-1.8 4-1.7 2.3-1.7 2.1-1.7 3-1.7-.5-1.7 2.8-1.7 3-1.8 3.1-1.7-3.7-1.7-3.4-1.7 1.2-1.7 2.9-1.7 3.4-1.7-7-1.8 2.3-1.7-.4-1.7 .1-1.7-1.2-1.7 6.5z" fill="#1f77b4" fill-opacity=".34"/>
<path d="M164.2 1205.7l1.7-.2 1.7 .9 1.7-1.9 1.7 1.1 1.8-2.3 1.7 .3 1.7-2.2 1.7 2.8 1.7 .3 1.7 2.3 1.7 5.3 1.8 2.1 1.7-2.9 1.7-3.4 1.7 .4 1.7-2 1.7-.4 1.7-1.8 1.8-3.1 1.7-.8 1.7 3.4 1.7 2.7 1.7-.5 1.7 3.5 1.8 1 1.7 1.5 1.7 .4 1.7 1 1.7-2.6 1.7-.5 1.7 .5 1.8-2.3 1.7 1.3 1.7-1.5 1.7-1.4 1.7-2.5 1.7 3.6" stroke="#1f77b4" stroke-width="1.05" fill="none" stroke-linejoin="round"/>
<path d="M180.6 1211.2l1.7-5.1 1.7-1 1.7-4.2 1.7-1.8 1.7-1.8 1.7-.8 1.7-1.7 1.7-5.5 1.7-4.9 1.7-.4 1.7 .6 1.7 3.4 1.8 3.1 1.7 5.5 1.7 .9 1.7-.5 1.7-.9 1.7-.3 1.7-.9 1.7 1.5 1.7-1.4 1.7-2.1 1.7-1.1 1.7 .7 0 6-1.7-.3-1.7 2-1.7 3.2-1.7 .7-1.7 .3-1.7 .9-1.7 1.6-1.7 .4-1.7 1-1.7-1.6-1.7-4.7-1.8 1-1.7-2.8-1.7-1.6-1.7 .9-1.7 8.8-1.7 2.1-1.7 3-1.7 4.4-1.7 .1-1.7 3-1.7 5.2-1.7 3.5-1.7 3.7z" fill="#ff7f0e" fill-opacity=".3"/>
<path d="M180.6 1222.1l1.7-3.8 1.7-2.8 1.7-3.7 1.7-2 1.7-2.3 1.7-1.9 1.7-2.9 1.7-3.9 1.7-7.5 1.7 .7 1.7 1 1.7 2.5 1.8 1.5 1.7 4.2 1.7 .9 1.7-.2 1.7-.1 1.7-1.9 1.7 .1 1.7 .5 1.7-1.7 1.7-2 1.7-2.1 1.7 1.1" stroke="#ff7f0e" stroke-width="1.05" fill="none" stroke-linejoin="round"/>
</g>
<path d="M164.4 1172.8l0 0 8.5-4.3 11-3.7 32.8 0 10.8 8 0 0" stroke="#1f77b4" stroke-width=".65" fill="none"/>
<use href="#o22" y="315.6"/>
<text x="167.7" y="1237.2" class="st">VLX.HN, 103 events</text>
<text x="177.8" y="1248.1" class="tx" text-anchor="middle">0.1</text>
<text x="197.5" y="1248.1" class="tx" text-anchor="middle">1</text>
<text x="217.2" y="1248.1" class="tx" text-anchor="middle">10</text>
<text x="196.4" y="1253.6" class="xl" text-anchor="middle">frequency (Hz)</text>
<use href="#g23" y="315.6"/>
<clipPath id="k59"><rect x="234.7" y="1174.4" width="63.2" height="66.8"/></clipPath><g clip-path="url(#k59)">
<path d="M245 1207.6l1.8-5.5 1.7-7.5 1.8 1 1.7 2.2 1.8 3.3 1.7-2.1 1.8 1.6 1.7-2.8 1.8-.3 1.7 2.5 1.8-2.1 1.7 1.8 1.8-2.2 1.7 1.2 1.8-1.2 1.7 .9 1.8-2.5 1.7 .7 1.8 .8 1.7-1.5 1.8 2.9 1.7 3.7 1.8 4.4 1.7 1.6 1.8-.1 1.7 8.8 1.8 2 1.7-.4 1.8-.5 1.7 5.7 0 5-1.7-5.4-1.8 1.1-1.7 1.3-1.8-1.9-1.7-7.9-1.8-.6-1.7-2.5-1.8-2.8-1.7-3.6-1.8-1.7-1.7 1.5-1.8 .6-1.7 .3-1.8 2.1-1.7-.4-1.8 .4-1.7-1-1.8 5.1-1.7-.4-1.8 .5-1.7 2.3-1.8-2-1.7 5.7-1.8 .4-1.7 1.2-1.8-2.4-1.7-1.1-1.8 .6-1.7 3-1.8 4z" fill="#1f77b4" fill-opacity=".34"/>
<path d="M245 1216.6l1.8-3.2 1.7-7.1 1.8-.2 1.7 1.3 1.8 4.2 1.7-3.4 1.8 .2 1.7-2.8 1.8 1 1.7-.6 1.8-.9 1.7 .6 1.8-3.1 1.7 1 1.8-.8 1.7 1.3 1.8-2.3 1.7-.3 1.8 1.1 1.7-1.8 1.8 2.1 1.7 3.4 1.8 3.5 1.7 2 1.8 .6 1.7 8.2 1.8 2.2 1.7-.8 1.8-.9 1.7 5.3" stroke="#1f77b4" stroke-width="1.05" fill="none" stroke-linejoin="round"/>
<path d="M251.6 1211l1.7-5.6 1.7-1.4 1.7-6.6 1.7-1.8 1.7-5.1 1.7 1.4 1.7 .8 1.7 0 1.7 0 1.7-1.8 1.7-2.1 1.7 1.2 1.8-1.8 1.7-3.4 1.7-.5 1.7 1.8 1.7 .7 1.7-.8 1.7 5.5 1.7 4.2 1.7 0 1.7 3.1 1.7 7.1 1.7 2.7 0 7.5-1.7-2.2-1.7-7.4-1.7-3.7-1.7 2-1.7-3.7-1.7-4.5-1.7-.5-1.7 2.5-1.7-2.4-1.7 2.7-1.7 2.7-1.8 .8-1.7 1.5-1.7 1-1.7 5-1.7 .4-1.7 .7-1.7-3.2-1.7 3.6-1.7 1.3-1.7 6.4-1.7 5-1.7 4.4-1.7 8z" fill="#ff7f0e" fill-opacity=".3"/>
<path d="M251.6 1223.2l1.7-4.8 1.7-5.5 1.7-5.4 1.7-3.2 1.7-4.4 1.7 .3 1.7 1.3 1.7 1.2 1.7-2.3 1.7-3.1 1.7-1.7 1.7 .3 1.8-1.3 1.7-2.5 1.7-1.3 1.7 1.6 1.7-1 1.7-.8 1.7 6.5 1.7 3.2 1.7-1.2 1.7 4 1.7 6.9 1.7 2.2" stroke="#ff7f0e" stroke-width="1.05" fill="none" stroke-linejoin="round"/>
</g>
<path d="M234.7 1172.8l4.9 0 13.1-2.1 8.7-5.5 26.3-.4 10.2 8 0 0" stroke="#1f77b4" stroke-width=".65" fill="none"/>
<use href="#o23" y="315.6"/>
<text x="238" y="1237.2" class="st">ZKR.HN, 105 events</text>
<text transform="translate(311.3 1168.6) rotate(-90)" class="vl" text-anchor="middle">Valid (#)</text>
<text x="248.1" y="1248.1" class="tx" text-anchor="middle">0.1</text>
<text x="267.8" y="1248.1" class="tx" text-anchor="middle">1</text>
<text x="287.6" y="1248.1" class="tx" text-anchor="middle">10</text>
<text x="266.8" y="1253.6" class="xl" text-anchor="middle">frequency (Hz)</text>
</svg></body></html>
